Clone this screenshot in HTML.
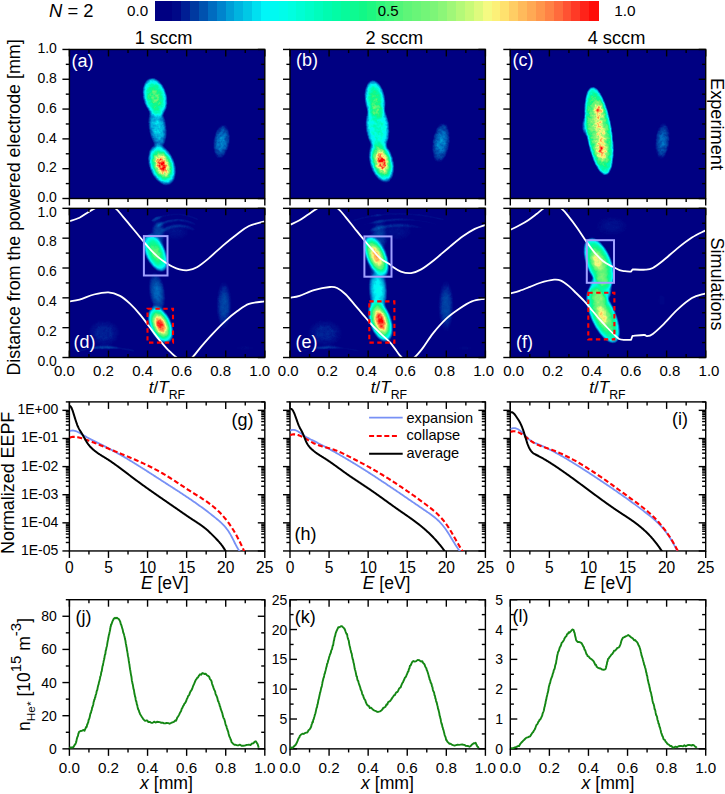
<!DOCTYPE html>
<html><head><meta charset="utf-8"><style>
html,body{margin:0;padding:0;background:#fff;overflow:hidden;}
svg{display:block;font-family:"Liberation Sans",sans-serif;}
</style></head><body>
<svg width="725" height="794" viewBox="0 0 725 794">
<defs><filter id="cm" filterUnits="userSpaceOnUse" x="0" y="0" width="725" height="794" color-interpolation-filters="sRGB"><feGaussianBlur in="SourceGraphic" stdDeviation="0.9" result="bl"/><feTurbulence type="fractalNoise" baseFrequency="0.32" numOctaves="2" seed="7" result="nz"/><feColorMatrix in="nz" type="matrix" values="1.6 0 0 0 -0.3  1.6 0 0 0 -0.3  1.6 0 0 0 -0.3  0 0 0 0 1" result="nz2"/><feComposite in="bl" in2="nz2" operator="arithmetic" k1="0.34" k2="0.83" k3="0" k4="0" result="mx"/><feGaussianBlur in="mx" stdDeviation="0.6"/><feComponentTransfer><feFuncR type="table" tableValues="0 0 0 0 0 0 0 0 0 0 0 0 0 0 0 0 0 0 0 0 0 0 0 0 0 0 0 0 0 0 0 0 0 0 0 0 0 0 0 0 0 0.01 0.02 0.03 0.04 0.05 0.06 0.07 0.08 0.11 0.15 0.18 0.22 0.25 0.28 0.32 0.35 0.37 0.39 0.41 0.43 0.45 0.47 0.49 0.51 0.55 0.59 0.63 0.67 0.71 0.75 0.78 0.83 0.87 0.92 0.96 0.97 0.99 1 1 1 1 1 1 1 1 1 1 1 1 1 1 1 1 1 1 1 1 1 1 1"/><feFuncG type="table" tableValues="0 0 0 0 0 0.03 0.06 0.12 0.18 0.23 0.27 0.32 0.37 0.42 0.47 0.52 0.57 0.62 0.67 0.71 0.75 0.78 0.82 0.88 0.93 0.96 0.97 0.98 0.99 0.99 1 1 1 1 1 0.99 0.99 0.99 0.99 0.99 0.99 0.99 0.98 0.98 0.98 0.98 0.98 0.97 0.97 0.97 0.97 0.97 0.97 0.97 0.96 0.96 0.96 0.96 0.96 0.96 0.96 0.96 0.96 0.96 0.96 0.96 0.97 0.97 0.97 0.97 0.98 0.98 0.98 0.98 0.98 0.98 0.96 0.94 0.92 0.88 0.84 0.8 0.76 0.73 0.7 0.66 0.63 0.59 0.55 0.51 0.47 0.42 0.37 0.32 0.27 0.23 0.18 0.14 0.09 0.05 0"/><feFuncB type="table" tableValues="0.51 0.51 0.51 0.51 0.51 0.53 0.55 0.58 0.61 0.63 0.65 0.69 0.73 0.75 0.78 0.8 0.82 0.84 0.86 0.88 0.89 0.9 0.91 0.94 0.97 0.97 0.96 0.94 0.93 0.92 0.9 0.88 0.85 0.83 0.81 0.78 0.76 0.74 0.71 0.69 0.67 0.65 0.63 0.61 0.59 0.57 0.55 0.53 0.51 0.5 0.5 0.5 0.49 0.49 0.48 0.48 0.47 0.47 0.47 0.47 0.47 0.47 0.47 0.47 0.47 0.47 0.47 0.47 0.47 0.47 0.47 0.47 0.48 0.49 0.5 0.51 0.49 0.47 0.45 0.43 0.41 0.39 0.37 0.36 0.34 0.33 0.31 0.3 0.28 0.27 0.25 0.24 0.22 0.2 0.18 0.15 0.12 0.1 0.07 0.03 0"/></feComponentTransfer></filter>
<filter id="cm2" filterUnits="userSpaceOnUse" x="0" y="0" width="725" height="794" color-interpolation-filters="sRGB"><feGaussianBlur in="SourceGraphic" stdDeviation="0.9" result="bl"/><feTurbulence type="fractalNoise" baseFrequency="0.3" numOctaves="2" seed="11" result="nz"/><feColorMatrix in="nz" type="matrix" values="1.6 0 0 0 -0.3  1.6 0 0 0 -0.3  1.6 0 0 0 -0.3  0 0 0 0 1" result="nz2"/><feComposite in="bl" in2="nz2" operator="arithmetic" k1="0.14" k2="0.93" k3="0" k4="0" result="mx"/><feGaussianBlur in="mx" stdDeviation="0.7"/><feComponentTransfer><feFuncR type="table" tableValues="0 0 0 0 0 0 0 0 0 0 0 0 0 0 0 0 0 0 0 0 0 0 0 0 0 0 0 0 0 0 0 0 0 0 0 0 0 0 0 0 0 0.01 0.02 0.03 0.04 0.05 0.06 0.07 0.08 0.11 0.15 0.18 0.22 0.25 0.28 0.32 0.35 0.37 0.39 0.41 0.43 0.45 0.47 0.49 0.51 0.55 0.59 0.63 0.67 0.71 0.75 0.78 0.83 0.87 0.92 0.96 0.97 0.99 1 1 1 1 1 1 1 1 1 1 1 1 1 1 1 1 1 1 1 1 1 1 1"/><feFuncG type="table" tableValues="0 0 0 0 0 0.03 0.06 0.12 0.18 0.23 0.27 0.32 0.37 0.42 0.47 0.52 0.57 0.62 0.67 0.71 0.75 0.78 0.82 0.88 0.93 0.96 0.97 0.98 0.99 0.99 1 1 1 1 1 0.99 0.99 0.99 0.99 0.99 0.99 0.99 0.98 0.98 0.98 0.98 0.98 0.97 0.97 0.97 0.97 0.97 0.97 0.97 0.96 0.96 0.96 0.96 0.96 0.96 0.96 0.96 0.96 0.96 0.96 0.96 0.97 0.97 0.97 0.97 0.98 0.98 0.98 0.98 0.98 0.98 0.96 0.94 0.92 0.88 0.84 0.8 0.76 0.73 0.7 0.66 0.63 0.59 0.55 0.51 0.47 0.42 0.37 0.32 0.27 0.23 0.18 0.14 0.09 0.05 0"/><feFuncB type="table" tableValues="0.51 0.51 0.51 0.51 0.51 0.53 0.55 0.58 0.61 0.63 0.65 0.69 0.73 0.75 0.78 0.8 0.82 0.84 0.86 0.88 0.89 0.9 0.91 0.94 0.97 0.97 0.96 0.94 0.93 0.92 0.9 0.88 0.85 0.83 0.81 0.78 0.76 0.74 0.71 0.69 0.67 0.65 0.63 0.61 0.59 0.57 0.55 0.53 0.51 0.5 0.5 0.5 0.49 0.49 0.48 0.48 0.47 0.47 0.47 0.47 0.47 0.47 0.47 0.47 0.47 0.47 0.47 0.47 0.47 0.47 0.47 0.47 0.48 0.49 0.5 0.51 0.49 0.47 0.45 0.43 0.41 0.39 0.37 0.36 0.34 0.33 0.31 0.3 0.28 0.27 0.25 0.24 0.22 0.2 0.18 0.15 0.12 0.1 0.07 0.03 0"/></feComponentTransfer></filter>
<clipPath id="clp1"><rect x="69.4" y="49.45" width="195.4" height="149.05"/></clipPath>
<radialGradient id="g1"><stop offset="0" stop-color="#fff" stop-opacity="0.22"/><stop offset="0.05" stop-color="#fff" stop-opacity="0.22"/><stop offset="0.1" stop-color="#fff" stop-opacity="0.22"/><stop offset="0.15" stop-color="#fff" stop-opacity="0.22"/><stop offset="0.2" stop-color="#fff" stop-opacity="0.21"/><stop offset="0.25" stop-color="#fff" stop-opacity="0.21"/><stop offset="0.3" stop-color="#fff" stop-opacity="0.21"/><stop offset="0.35" stop-color="#fff" stop-opacity="0.2"/><stop offset="0.4" stop-color="#fff" stop-opacity="0.2"/><stop offset="0.45" stop-color="#fff" stop-opacity="0.19"/><stop offset="0.5" stop-color="#fff" stop-opacity="0.19"/><stop offset="0.55" stop-color="#fff" stop-opacity="0.18"/><stop offset="0.6" stop-color="#fff" stop-opacity="0.17"/><stop offset="0.65" stop-color="#fff" stop-opacity="0.16"/><stop offset="0.7" stop-color="#fff" stop-opacity="0.15"/><stop offset="0.75" stop-color="#fff" stop-opacity="0.13"/><stop offset="0.8" stop-color="#fff" stop-opacity="0.12"/><stop offset="0.85" stop-color="#fff" stop-opacity="0.1"/><stop offset="0.9" stop-color="#fff" stop-opacity="0.08"/><stop offset="0.95" stop-color="#fff" stop-opacity="0.05"/><stop offset="1" stop-color="#fff" stop-opacity="0"/></radialGradient>
<radialGradient id="g2"><stop offset="0" stop-color="#fff" stop-opacity="0.56"/><stop offset="0.05" stop-color="#fff" stop-opacity="0.56"/><stop offset="0.1" stop-color="#fff" stop-opacity="0.56"/><stop offset="0.15" stop-color="#fff" stop-opacity="0.55"/><stop offset="0.2" stop-color="#fff" stop-opacity="0.54"/><stop offset="0.25" stop-color="#fff" stop-opacity="0.53"/><stop offset="0.3" stop-color="#fff" stop-opacity="0.52"/><stop offset="0.35" stop-color="#fff" stop-opacity="0.51"/><stop offset="0.4" stop-color="#fff" stop-opacity="0.49"/><stop offset="0.45" stop-color="#fff" stop-opacity="0.47"/><stop offset="0.5" stop-color="#fff" stop-opacity="0.45"/><stop offset="0.55" stop-color="#fff" stop-opacity="0.43"/><stop offset="0.6" stop-color="#fff" stop-opacity="0.4"/><stop offset="0.65" stop-color="#fff" stop-opacity="0.37"/><stop offset="0.7" stop-color="#fff" stop-opacity="0.34"/><stop offset="0.75" stop-color="#fff" stop-opacity="0.3"/><stop offset="0.8" stop-color="#fff" stop-opacity="0.26"/><stop offset="0.85" stop-color="#fff" stop-opacity="0.21"/><stop offset="0.9" stop-color="#fff" stop-opacity="0.16"/><stop offset="0.95" stop-color="#fff" stop-opacity="0.1"/><stop offset="1" stop-color="#fff" stop-opacity="0"/></radialGradient>
<radialGradient id="g3"><stop offset="0" stop-color="#fff" stop-opacity="1"/><stop offset="0.05" stop-color="#fff" stop-opacity="1"/><stop offset="0.1" stop-color="#fff" stop-opacity="0.98"/><stop offset="0.15" stop-color="#fff" stop-opacity="0.96"/><stop offset="0.2" stop-color="#fff" stop-opacity="0.93"/><stop offset="0.25" stop-color="#fff" stop-opacity="0.89"/><stop offset="0.3" stop-color="#fff" stop-opacity="0.84"/><stop offset="0.35" stop-color="#fff" stop-opacity="0.79"/><stop offset="0.4" stop-color="#fff" stop-opacity="0.73"/><stop offset="0.45" stop-color="#fff" stop-opacity="0.67"/><stop offset="0.5" stop-color="#fff" stop-opacity="0.6"/><stop offset="0.55" stop-color="#fff" stop-opacity="0.52"/><stop offset="0.6" stop-color="#fff" stop-opacity="0.45"/><stop offset="0.65" stop-color="#fff" stop-opacity="0.37"/><stop offset="0.7" stop-color="#fff" stop-opacity="0.3"/><stop offset="0.75" stop-color="#fff" stop-opacity="0.23"/><stop offset="0.8" stop-color="#fff" stop-opacity="0.16"/><stop offset="0.85" stop-color="#fff" stop-opacity="0.1"/><stop offset="0.9" stop-color="#fff" stop-opacity="0.05"/><stop offset="0.95" stop-color="#fff" stop-opacity="0.02"/><stop offset="1" stop-color="#fff" stop-opacity="0"/></radialGradient>
<radialGradient id="g4"><stop offset="0" stop-color="#fff" stop-opacity="0.15"/><stop offset="0.05" stop-color="#fff" stop-opacity="0.15"/><stop offset="0.1" stop-color="#fff" stop-opacity="0.15"/><stop offset="0.15" stop-color="#fff" stop-opacity="0.15"/><stop offset="0.2" stop-color="#fff" stop-opacity="0.15"/><stop offset="0.25" stop-color="#fff" stop-opacity="0.14"/><stop offset="0.3" stop-color="#fff" stop-opacity="0.14"/><stop offset="0.35" stop-color="#fff" stop-opacity="0.14"/><stop offset="0.4" stop-color="#fff" stop-opacity="0.13"/><stop offset="0.45" stop-color="#fff" stop-opacity="0.13"/><stop offset="0.5" stop-color="#fff" stop-opacity="0.12"/><stop offset="0.55" stop-color="#fff" stop-opacity="0.11"/><stop offset="0.6" stop-color="#fff" stop-opacity="0.1"/><stop offset="0.65" stop-color="#fff" stop-opacity="0.1"/><stop offset="0.7" stop-color="#fff" stop-opacity="0.09"/><stop offset="0.75" stop-color="#fff" stop-opacity="0.08"/><stop offset="0.8" stop-color="#fff" stop-opacity="0.07"/><stop offset="0.85" stop-color="#fff" stop-opacity="0.05"/><stop offset="0.9" stop-color="#fff" stop-opacity="0.04"/><stop offset="0.95" stop-color="#fff" stop-opacity="0.02"/><stop offset="1" stop-color="#fff" stop-opacity="0"/></radialGradient>
<clipPath id="clp2"><rect x="290" y="49.45" width="195.4" height="149.05"/></clipPath>
<radialGradient id="g5"><stop offset="0" stop-color="#fff" stop-opacity="0.36"/><stop offset="0.05" stop-color="#fff" stop-opacity="0.36"/><stop offset="0.1" stop-color="#fff" stop-opacity="0.36"/><stop offset="0.15" stop-color="#fff" stop-opacity="0.36"/><stop offset="0.2" stop-color="#fff" stop-opacity="0.35"/><stop offset="0.25" stop-color="#fff" stop-opacity="0.35"/><stop offset="0.3" stop-color="#fff" stop-opacity="0.34"/><stop offset="0.35" stop-color="#fff" stop-opacity="0.34"/><stop offset="0.4" stop-color="#fff" stop-opacity="0.33"/><stop offset="0.45" stop-color="#fff" stop-opacity="0.32"/><stop offset="0.5" stop-color="#fff" stop-opacity="0.31"/><stop offset="0.55" stop-color="#fff" stop-opacity="0.3"/><stop offset="0.6" stop-color="#fff" stop-opacity="0.28"/><stop offset="0.65" stop-color="#fff" stop-opacity="0.27"/><stop offset="0.7" stop-color="#fff" stop-opacity="0.25"/><stop offset="0.75" stop-color="#fff" stop-opacity="0.23"/><stop offset="0.8" stop-color="#fff" stop-opacity="0.21"/><stop offset="0.85" stop-color="#fff" stop-opacity="0.18"/><stop offset="0.9" stop-color="#fff" stop-opacity="0.14"/><stop offset="0.95" stop-color="#fff" stop-opacity="0.1"/><stop offset="1" stop-color="#fff" stop-opacity="0"/></radialGradient>
<radialGradient id="g6"><stop offset="0" stop-color="#fff" stop-opacity="0.52"/><stop offset="0.05" stop-color="#fff" stop-opacity="0.52"/><stop offset="0.1" stop-color="#fff" stop-opacity="0.52"/><stop offset="0.15" stop-color="#fff" stop-opacity="0.51"/><stop offset="0.2" stop-color="#fff" stop-opacity="0.5"/><stop offset="0.25" stop-color="#fff" stop-opacity="0.49"/><stop offset="0.3" stop-color="#fff" stop-opacity="0.48"/><stop offset="0.35" stop-color="#fff" stop-opacity="0.47"/><stop offset="0.4" stop-color="#fff" stop-opacity="0.45"/><stop offset="0.45" stop-color="#fff" stop-opacity="0.43"/><stop offset="0.5" stop-color="#fff" stop-opacity="0.41"/><stop offset="0.55" stop-color="#fff" stop-opacity="0.38"/><stop offset="0.6" stop-color="#fff" stop-opacity="0.36"/><stop offset="0.65" stop-color="#fff" stop-opacity="0.33"/><stop offset="0.7" stop-color="#fff" stop-opacity="0.29"/><stop offset="0.75" stop-color="#fff" stop-opacity="0.26"/><stop offset="0.8" stop-color="#fff" stop-opacity="0.22"/><stop offset="0.85" stop-color="#fff" stop-opacity="0.17"/><stop offset="0.9" stop-color="#fff" stop-opacity="0.13"/><stop offset="0.95" stop-color="#fff" stop-opacity="0.07"/><stop offset="1" stop-color="#fff" stop-opacity="0"/></radialGradient>
<radialGradient id="g7"><stop offset="0" stop-color="#fff" stop-opacity="1"/><stop offset="0.05" stop-color="#fff" stop-opacity="1"/><stop offset="0.1" stop-color="#fff" stop-opacity="0.98"/><stop offset="0.15" stop-color="#fff" stop-opacity="0.96"/><stop offset="0.2" stop-color="#fff" stop-opacity="0.93"/><stop offset="0.25" stop-color="#fff" stop-opacity="0.89"/><stop offset="0.3" stop-color="#fff" stop-opacity="0.84"/><stop offset="0.35" stop-color="#fff" stop-opacity="0.79"/><stop offset="0.4" stop-color="#fff" stop-opacity="0.73"/><stop offset="0.45" stop-color="#fff" stop-opacity="0.67"/><stop offset="0.5" stop-color="#fff" stop-opacity="0.6"/><stop offset="0.55" stop-color="#fff" stop-opacity="0.52"/><stop offset="0.6" stop-color="#fff" stop-opacity="0.45"/><stop offset="0.65" stop-color="#fff" stop-opacity="0.37"/><stop offset="0.7" stop-color="#fff" stop-opacity="0.3"/><stop offset="0.75" stop-color="#fff" stop-opacity="0.23"/><stop offset="0.8" stop-color="#fff" stop-opacity="0.16"/><stop offset="0.85" stop-color="#fff" stop-opacity="0.1"/><stop offset="0.9" stop-color="#fff" stop-opacity="0.05"/><stop offset="0.95" stop-color="#fff" stop-opacity="0.02"/><stop offset="1" stop-color="#fff" stop-opacity="0"/></radialGradient>
<radialGradient id="g8"><stop offset="0" stop-color="#fff" stop-opacity="0.15"/><stop offset="0.05" stop-color="#fff" stop-opacity="0.15"/><stop offset="0.1" stop-color="#fff" stop-opacity="0.15"/><stop offset="0.15" stop-color="#fff" stop-opacity="0.15"/><stop offset="0.2" stop-color="#fff" stop-opacity="0.15"/><stop offset="0.25" stop-color="#fff" stop-opacity="0.14"/><stop offset="0.3" stop-color="#fff" stop-opacity="0.14"/><stop offset="0.35" stop-color="#fff" stop-opacity="0.14"/><stop offset="0.4" stop-color="#fff" stop-opacity="0.13"/><stop offset="0.45" stop-color="#fff" stop-opacity="0.13"/><stop offset="0.5" stop-color="#fff" stop-opacity="0.12"/><stop offset="0.55" stop-color="#fff" stop-opacity="0.11"/><stop offset="0.6" stop-color="#fff" stop-opacity="0.1"/><stop offset="0.65" stop-color="#fff" stop-opacity="0.1"/><stop offset="0.7" stop-color="#fff" stop-opacity="0.09"/><stop offset="0.75" stop-color="#fff" stop-opacity="0.08"/><stop offset="0.8" stop-color="#fff" stop-opacity="0.07"/><stop offset="0.85" stop-color="#fff" stop-opacity="0.05"/><stop offset="0.9" stop-color="#fff" stop-opacity="0.04"/><stop offset="0.95" stop-color="#fff" stop-opacity="0.02"/><stop offset="1" stop-color="#fff" stop-opacity="0"/></radialGradient>
<clipPath id="clp3"><rect x="510.3" y="49.45" width="195.4" height="149.05"/></clipPath>
<radialGradient id="g9"><stop offset="0" stop-color="#fff" stop-opacity="0.66"/><stop offset="0.05" stop-color="#fff" stop-opacity="0.66"/><stop offset="0.1" stop-color="#fff" stop-opacity="0.66"/><stop offset="0.15" stop-color="#fff" stop-opacity="0.65"/><stop offset="0.2" stop-color="#fff" stop-opacity="0.65"/><stop offset="0.25" stop-color="#fff" stop-opacity="0.65"/><stop offset="0.3" stop-color="#fff" stop-opacity="0.64"/><stop offset="0.35" stop-color="#fff" stop-opacity="0.63"/><stop offset="0.4" stop-color="#fff" stop-opacity="0.62"/><stop offset="0.45" stop-color="#fff" stop-opacity="0.61"/><stop offset="0.5" stop-color="#fff" stop-opacity="0.6"/><stop offset="0.55" stop-color="#fff" stop-opacity="0.58"/><stop offset="0.6" stop-color="#fff" stop-opacity="0.56"/><stop offset="0.65" stop-color="#fff" stop-opacity="0.54"/><stop offset="0.7" stop-color="#fff" stop-opacity="0.52"/><stop offset="0.75" stop-color="#fff" stop-opacity="0.49"/><stop offset="0.8" stop-color="#fff" stop-opacity="0.46"/><stop offset="0.85" stop-color="#fff" stop-opacity="0.42"/><stop offset="0.9" stop-color="#fff" stop-opacity="0.37"/><stop offset="0.95" stop-color="#fff" stop-opacity="0.29"/><stop offset="1" stop-color="#fff" stop-opacity="0"/></radialGradient>
<radialGradient id="g10"><stop offset="0" stop-color="#fff" stop-opacity="0.22"/><stop offset="0.05" stop-color="#fff" stop-opacity="0.22"/><stop offset="0.1" stop-color="#fff" stop-opacity="0.22"/><stop offset="0.15" stop-color="#fff" stop-opacity="0.22"/><stop offset="0.2" stop-color="#fff" stop-opacity="0.21"/><stop offset="0.25" stop-color="#fff" stop-opacity="0.21"/><stop offset="0.3" stop-color="#fff" stop-opacity="0.2"/><stop offset="0.35" stop-color="#fff" stop-opacity="0.19"/><stop offset="0.4" stop-color="#fff" stop-opacity="0.18"/><stop offset="0.45" stop-color="#fff" stop-opacity="0.18"/><stop offset="0.5" stop-color="#fff" stop-opacity="0.17"/><stop offset="0.55" stop-color="#fff" stop-opacity="0.15"/><stop offset="0.6" stop-color="#fff" stop-opacity="0.14"/><stop offset="0.65" stop-color="#fff" stop-opacity="0.13"/><stop offset="0.7" stop-color="#fff" stop-opacity="0.11"/><stop offset="0.75" stop-color="#fff" stop-opacity="0.1"/><stop offset="0.8" stop-color="#fff" stop-opacity="0.08"/><stop offset="0.85" stop-color="#fff" stop-opacity="0.06"/><stop offset="0.9" stop-color="#fff" stop-opacity="0.04"/><stop offset="0.95" stop-color="#fff" stop-opacity="0.02"/><stop offset="1" stop-color="#fff" stop-opacity="0"/></radialGradient>
<radialGradient id="g11"><stop offset="0" stop-color="#fff" stop-opacity="0.32"/><stop offset="0.05" stop-color="#fff" stop-opacity="0.32"/><stop offset="0.1" stop-color="#fff" stop-opacity="0.32"/><stop offset="0.15" stop-color="#fff" stop-opacity="0.31"/><stop offset="0.2" stop-color="#fff" stop-opacity="0.31"/><stop offset="0.25" stop-color="#fff" stop-opacity="0.3"/><stop offset="0.3" stop-color="#fff" stop-opacity="0.29"/><stop offset="0.35" stop-color="#fff" stop-opacity="0.28"/><stop offset="0.4" stop-color="#fff" stop-opacity="0.27"/><stop offset="0.45" stop-color="#fff" stop-opacity="0.26"/><stop offset="0.5" stop-color="#fff" stop-opacity="0.24"/><stop offset="0.55" stop-color="#fff" stop-opacity="0.22"/><stop offset="0.6" stop-color="#fff" stop-opacity="0.2"/><stop offset="0.65" stop-color="#fff" stop-opacity="0.18"/><stop offset="0.7" stop-color="#fff" stop-opacity="0.16"/><stop offset="0.75" stop-color="#fff" stop-opacity="0.14"/><stop offset="0.8" stop-color="#fff" stop-opacity="0.12"/><stop offset="0.85" stop-color="#fff" stop-opacity="0.09"/><stop offset="0.9" stop-color="#fff" stop-opacity="0.06"/><stop offset="0.95" stop-color="#fff" stop-opacity="0.03"/><stop offset="1" stop-color="#fff" stop-opacity="0"/></radialGradient>
<radialGradient id="g12"><stop offset="0" stop-color="#fff" stop-opacity="0.55"/><stop offset="0.05" stop-color="#fff" stop-opacity="0.55"/><stop offset="0.1" stop-color="#fff" stop-opacity="0.54"/><stop offset="0.15" stop-color="#fff" stop-opacity="0.54"/><stop offset="0.2" stop-color="#fff" stop-opacity="0.53"/><stop offset="0.25" stop-color="#fff" stop-opacity="0.52"/><stop offset="0.3" stop-color="#fff" stop-opacity="0.5"/><stop offset="0.35" stop-color="#fff" stop-opacity="0.48"/><stop offset="0.4" stop-color="#fff" stop-opacity="0.46"/><stop offset="0.45" stop-color="#fff" stop-opacity="0.44"/><stop offset="0.5" stop-color="#fff" stop-opacity="0.41"/><stop offset="0.55" stop-color="#fff" stop-opacity="0.38"/><stop offset="0.6" stop-color="#fff" stop-opacity="0.35"/><stop offset="0.65" stop-color="#fff" stop-opacity="0.32"/><stop offset="0.7" stop-color="#fff" stop-opacity="0.28"/><stop offset="0.75" stop-color="#fff" stop-opacity="0.24"/><stop offset="0.8" stop-color="#fff" stop-opacity="0.2"/><stop offset="0.85" stop-color="#fff" stop-opacity="0.15"/><stop offset="0.9" stop-color="#fff" stop-opacity="0.1"/><stop offset="0.95" stop-color="#fff" stop-opacity="0.05"/><stop offset="1" stop-color="#fff" stop-opacity="0"/></radialGradient>
<radialGradient id="g13"><stop offset="0" stop-color="#fff" stop-opacity="0.62"/><stop offset="0.05" stop-color="#fff" stop-opacity="0.62"/><stop offset="0.1" stop-color="#fff" stop-opacity="0.61"/><stop offset="0.15" stop-color="#fff" stop-opacity="0.61"/><stop offset="0.2" stop-color="#fff" stop-opacity="0.6"/><stop offset="0.25" stop-color="#fff" stop-opacity="0.58"/><stop offset="0.3" stop-color="#fff" stop-opacity="0.56"/><stop offset="0.35" stop-color="#fff" stop-opacity="0.54"/><stop offset="0.4" stop-color="#fff" stop-opacity="0.52"/><stop offset="0.45" stop-color="#fff" stop-opacity="0.49"/><stop offset="0.5" stop-color="#fff" stop-opacity="0.46"/><stop offset="0.55" stop-color="#fff" stop-opacity="0.43"/><stop offset="0.6" stop-color="#fff" stop-opacity="0.4"/><stop offset="0.65" stop-color="#fff" stop-opacity="0.36"/><stop offset="0.7" stop-color="#fff" stop-opacity="0.32"/><stop offset="0.75" stop-color="#fff" stop-opacity="0.27"/><stop offset="0.8" stop-color="#fff" stop-opacity="0.22"/><stop offset="0.85" stop-color="#fff" stop-opacity="0.17"/><stop offset="0.9" stop-color="#fff" stop-opacity="0.12"/><stop offset="0.95" stop-color="#fff" stop-opacity="0.06"/><stop offset="1" stop-color="#fff" stop-opacity="0"/></radialGradient>
<radialGradient id="g14"><stop offset="0" stop-color="#fff" stop-opacity="0.13"/><stop offset="0.05" stop-color="#fff" stop-opacity="0.13"/><stop offset="0.1" stop-color="#fff" stop-opacity="0.13"/><stop offset="0.15" stop-color="#fff" stop-opacity="0.13"/><stop offset="0.2" stop-color="#fff" stop-opacity="0.13"/><stop offset="0.25" stop-color="#fff" stop-opacity="0.12"/><stop offset="0.3" stop-color="#fff" stop-opacity="0.12"/><stop offset="0.35" stop-color="#fff" stop-opacity="0.12"/><stop offset="0.4" stop-color="#fff" stop-opacity="0.11"/><stop offset="0.45" stop-color="#fff" stop-opacity="0.11"/><stop offset="0.5" stop-color="#fff" stop-opacity="0.1"/><stop offset="0.55" stop-color="#fff" stop-opacity="0.1"/><stop offset="0.6" stop-color="#fff" stop-opacity="0.09"/><stop offset="0.65" stop-color="#fff" stop-opacity="0.08"/><stop offset="0.7" stop-color="#fff" stop-opacity="0.08"/><stop offset="0.75" stop-color="#fff" stop-opacity="0.07"/><stop offset="0.8" stop-color="#fff" stop-opacity="0.06"/><stop offset="0.85" stop-color="#fff" stop-opacity="0.05"/><stop offset="0.9" stop-color="#fff" stop-opacity="0.03"/><stop offset="0.95" stop-color="#fff" stop-opacity="0.02"/><stop offset="1" stop-color="#fff" stop-opacity="0"/></radialGradient>
<clipPath id="clp4"><rect x="69.4" y="208.35" width="195.4" height="149.15"/></clipPath>
<radialGradient id="g15"><stop offset="0" stop-color="#fff" stop-opacity="0.06"/><stop offset="0.05" stop-color="#fff" stop-opacity="0.06"/><stop offset="0.1" stop-color="#fff" stop-opacity="0.06"/><stop offset="0.15" stop-color="#fff" stop-opacity="0.06"/><stop offset="0.2" stop-color="#fff" stop-opacity="0.06"/><stop offset="0.25" stop-color="#fff" stop-opacity="0.06"/><stop offset="0.3" stop-color="#fff" stop-opacity="0.05"/><stop offset="0.35" stop-color="#fff" stop-opacity="0.05"/><stop offset="0.4" stop-color="#fff" stop-opacity="0.05"/><stop offset="0.45" stop-color="#fff" stop-opacity="0.05"/><stop offset="0.5" stop-color="#fff" stop-opacity="0.04"/><stop offset="0.55" stop-color="#fff" stop-opacity="0.04"/><stop offset="0.6" stop-color="#fff" stop-opacity="0.04"/><stop offset="0.65" stop-color="#fff" stop-opacity="0.03"/><stop offset="0.7" stop-color="#fff" stop-opacity="0.03"/><stop offset="0.75" stop-color="#fff" stop-opacity="0.03"/><stop offset="0.8" stop-color="#fff" stop-opacity="0.02"/><stop offset="0.85" stop-color="#fff" stop-opacity="0.02"/><stop offset="0.9" stop-color="#fff" stop-opacity="0.01"/><stop offset="0.95" stop-color="#fff" stop-opacity="0.01"/><stop offset="1" stop-color="#fff" stop-opacity="0"/></radialGradient>
<radialGradient id="g16"><stop offset="0" stop-color="#fff" stop-opacity="0.07"/><stop offset="0.05" stop-color="#fff" stop-opacity="0.07"/><stop offset="0.1" stop-color="#fff" stop-opacity="0.07"/><stop offset="0.15" stop-color="#fff" stop-opacity="0.07"/><stop offset="0.2" stop-color="#fff" stop-opacity="0.07"/><stop offset="0.25" stop-color="#fff" stop-opacity="0.07"/><stop offset="0.3" stop-color="#fff" stop-opacity="0.07"/><stop offset="0.35" stop-color="#fff" stop-opacity="0.07"/><stop offset="0.4" stop-color="#fff" stop-opacity="0.06"/><stop offset="0.45" stop-color="#fff" stop-opacity="0.06"/><stop offset="0.5" stop-color="#fff" stop-opacity="0.06"/><stop offset="0.55" stop-color="#fff" stop-opacity="0.05"/><stop offset="0.6" stop-color="#fff" stop-opacity="0.05"/><stop offset="0.65" stop-color="#fff" stop-opacity="0.04"/><stop offset="0.7" stop-color="#fff" stop-opacity="0.04"/><stop offset="0.75" stop-color="#fff" stop-opacity="0.03"/><stop offset="0.8" stop-color="#fff" stop-opacity="0.03"/><stop offset="0.85" stop-color="#fff" stop-opacity="0.02"/><stop offset="0.9" stop-color="#fff" stop-opacity="0.01"/><stop offset="0.95" stop-color="#fff" stop-opacity="0.01"/><stop offset="1" stop-color="#fff" stop-opacity="0"/></radialGradient>
<radialGradient id="g17"><stop offset="0" stop-color="#fff" stop-opacity="0.1"/><stop offset="0.05" stop-color="#fff" stop-opacity="0.1"/><stop offset="0.1" stop-color="#fff" stop-opacity="0.1"/><stop offset="0.15" stop-color="#fff" stop-opacity="0.1"/><stop offset="0.2" stop-color="#fff" stop-opacity="0.1"/><stop offset="0.25" stop-color="#fff" stop-opacity="0.1"/><stop offset="0.3" stop-color="#fff" stop-opacity="0.1"/><stop offset="0.35" stop-color="#fff" stop-opacity="0.09"/><stop offset="0.4" stop-color="#fff" stop-opacity="0.09"/><stop offset="0.45" stop-color="#fff" stop-opacity="0.08"/><stop offset="0.5" stop-color="#fff" stop-opacity="0.08"/><stop offset="0.55" stop-color="#fff" stop-opacity="0.07"/><stop offset="0.6" stop-color="#fff" stop-opacity="0.07"/><stop offset="0.65" stop-color="#fff" stop-opacity="0.06"/><stop offset="0.7" stop-color="#fff" stop-opacity="0.05"/><stop offset="0.75" stop-color="#fff" stop-opacity="0.05"/><stop offset="0.8" stop-color="#fff" stop-opacity="0.04"/><stop offset="0.85" stop-color="#fff" stop-opacity="0.03"/><stop offset="0.9" stop-color="#fff" stop-opacity="0.02"/><stop offset="0.95" stop-color="#fff" stop-opacity="0.01"/><stop offset="1" stop-color="#fff" stop-opacity="0"/></radialGradient>
<radialGradient id="g18"><stop offset="0" stop-color="#fff" stop-opacity="0.05"/><stop offset="0.05" stop-color="#fff" stop-opacity="0.05"/><stop offset="0.1" stop-color="#fff" stop-opacity="0.05"/><stop offset="0.15" stop-color="#fff" stop-opacity="0.05"/><stop offset="0.2" stop-color="#fff" stop-opacity="0.05"/><stop offset="0.25" stop-color="#fff" stop-opacity="0.05"/><stop offset="0.3" stop-color="#fff" stop-opacity="0.05"/><stop offset="0.35" stop-color="#fff" stop-opacity="0.04"/><stop offset="0.4" stop-color="#fff" stop-opacity="0.04"/><stop offset="0.45" stop-color="#fff" stop-opacity="0.04"/><stop offset="0.5" stop-color="#fff" stop-opacity="0.04"/><stop offset="0.55" stop-color="#fff" stop-opacity="0.03"/><stop offset="0.6" stop-color="#fff" stop-opacity="0.03"/><stop offset="0.65" stop-color="#fff" stop-opacity="0.03"/><stop offset="0.7" stop-color="#fff" stop-opacity="0.03"/><stop offset="0.75" stop-color="#fff" stop-opacity="0.02"/><stop offset="0.8" stop-color="#fff" stop-opacity="0.02"/><stop offset="0.85" stop-color="#fff" stop-opacity="0.01"/><stop offset="0.9" stop-color="#fff" stop-opacity="0.01"/><stop offset="0.95" stop-color="#fff" stop-opacity="0"/><stop offset="1" stop-color="#fff" stop-opacity="0"/></radialGradient>
<radialGradient id="g19"><stop offset="0" stop-color="#fff" stop-opacity="0.13"/><stop offset="0.05" stop-color="#fff" stop-opacity="0.13"/><stop offset="0.1" stop-color="#fff" stop-opacity="0.13"/><stop offset="0.15" stop-color="#fff" stop-opacity="0.13"/><stop offset="0.2" stop-color="#fff" stop-opacity="0.12"/><stop offset="0.25" stop-color="#fff" stop-opacity="0.12"/><stop offset="0.3" stop-color="#fff" stop-opacity="0.12"/><stop offset="0.35" stop-color="#fff" stop-opacity="0.11"/><stop offset="0.4" stop-color="#fff" stop-opacity="0.11"/><stop offset="0.45" stop-color="#fff" stop-opacity="0.1"/><stop offset="0.5" stop-color="#fff" stop-opacity="0.1"/><stop offset="0.55" stop-color="#fff" stop-opacity="0.09"/><stop offset="0.6" stop-color="#fff" stop-opacity="0.08"/><stop offset="0.65" stop-color="#fff" stop-opacity="0.08"/><stop offset="0.7" stop-color="#fff" stop-opacity="0.07"/><stop offset="0.75" stop-color="#fff" stop-opacity="0.06"/><stop offset="0.8" stop-color="#fff" stop-opacity="0.05"/><stop offset="0.85" stop-color="#fff" stop-opacity="0.04"/><stop offset="0.9" stop-color="#fff" stop-opacity="0.02"/><stop offset="0.95" stop-color="#fff" stop-opacity="0.01"/><stop offset="1" stop-color="#fff" stop-opacity="0"/></radialGradient>
<radialGradient id="g20"><stop offset="0" stop-color="#fff" stop-opacity="0.08"/><stop offset="0.05" stop-color="#fff" stop-opacity="0.08"/><stop offset="0.1" stop-color="#fff" stop-opacity="0.08"/><stop offset="0.15" stop-color="#fff" stop-opacity="0.08"/><stop offset="0.2" stop-color="#fff" stop-opacity="0.08"/><stop offset="0.25" stop-color="#fff" stop-opacity="0.07"/><stop offset="0.3" stop-color="#fff" stop-opacity="0.07"/><stop offset="0.35" stop-color="#fff" stop-opacity="0.07"/><stop offset="0.4" stop-color="#fff" stop-opacity="0.07"/><stop offset="0.45" stop-color="#fff" stop-opacity="0.06"/><stop offset="0.5" stop-color="#fff" stop-opacity="0.06"/><stop offset="0.55" stop-color="#fff" stop-opacity="0.06"/><stop offset="0.6" stop-color="#fff" stop-opacity="0.05"/><stop offset="0.65" stop-color="#fff" stop-opacity="0.05"/><stop offset="0.7" stop-color="#fff" stop-opacity="0.04"/><stop offset="0.75" stop-color="#fff" stop-opacity="0.04"/><stop offset="0.8" stop-color="#fff" stop-opacity="0.03"/><stop offset="0.85" stop-color="#fff" stop-opacity="0.02"/><stop offset="0.9" stop-color="#fff" stop-opacity="0.02"/><stop offset="0.95" stop-color="#fff" stop-opacity="0.01"/><stop offset="1" stop-color="#fff" stop-opacity="0"/></radialGradient>
<radialGradient id="g21"><stop offset="0" stop-color="#fff" stop-opacity="0.56"/><stop offset="0.05" stop-color="#fff" stop-opacity="0.56"/><stop offset="0.1" stop-color="#fff" stop-opacity="0.55"/><stop offset="0.15" stop-color="#fff" stop-opacity="0.55"/><stop offset="0.2" stop-color="#fff" stop-opacity="0.54"/><stop offset="0.25" stop-color="#fff" stop-opacity="0.53"/><stop offset="0.3" stop-color="#fff" stop-opacity="0.51"/><stop offset="0.35" stop-color="#fff" stop-opacity="0.5"/><stop offset="0.4" stop-color="#fff" stop-opacity="0.48"/><stop offset="0.45" stop-color="#fff" stop-opacity="0.46"/><stop offset="0.5" stop-color="#fff" stop-opacity="0.43"/><stop offset="0.55" stop-color="#fff" stop-opacity="0.4"/><stop offset="0.6" stop-color="#fff" stop-opacity="0.37"/><stop offset="0.65" stop-color="#fff" stop-opacity="0.34"/><stop offset="0.7" stop-color="#fff" stop-opacity="0.31"/><stop offset="0.75" stop-color="#fff" stop-opacity="0.27"/><stop offset="0.8" stop-color="#fff" stop-opacity="0.22"/><stop offset="0.85" stop-color="#fff" stop-opacity="0.18"/><stop offset="0.9" stop-color="#fff" stop-opacity="0.13"/><stop offset="0.95" stop-color="#fff" stop-opacity="0.07"/><stop offset="1" stop-color="#fff" stop-opacity="0"/></radialGradient>
<radialGradient id="g22"><stop offset="0" stop-color="#fff" stop-opacity="1"/><stop offset="0.05" stop-color="#fff" stop-opacity="1"/><stop offset="0.1" stop-color="#fff" stop-opacity="0.98"/><stop offset="0.15" stop-color="#fff" stop-opacity="0.96"/><stop offset="0.2" stop-color="#fff" stop-opacity="0.94"/><stop offset="0.25" stop-color="#fff" stop-opacity="0.9"/><stop offset="0.3" stop-color="#fff" stop-opacity="0.86"/><stop offset="0.35" stop-color="#fff" stop-opacity="0.81"/><stop offset="0.4" stop-color="#fff" stop-opacity="0.76"/><stop offset="0.45" stop-color="#fff" stop-opacity="0.7"/><stop offset="0.5" stop-color="#fff" stop-opacity="0.63"/><stop offset="0.55" stop-color="#fff" stop-opacity="0.56"/><stop offset="0.6" stop-color="#fff" stop-opacity="0.49"/><stop offset="0.65" stop-color="#fff" stop-opacity="0.42"/><stop offset="0.7" stop-color="#fff" stop-opacity="0.34"/><stop offset="0.75" stop-color="#fff" stop-opacity="0.27"/><stop offset="0.8" stop-color="#fff" stop-opacity="0.2"/><stop offset="0.85" stop-color="#fff" stop-opacity="0.13"/><stop offset="0.9" stop-color="#fff" stop-opacity="0.07"/><stop offset="0.95" stop-color="#fff" stop-opacity="0.02"/><stop offset="1" stop-color="#fff" stop-opacity="0"/></radialGradient>
<clipPath id="clp5"><rect x="290" y="208.35" width="195.4" height="149.15"/></clipPath>
<radialGradient id="g23"><stop offset="0" stop-color="#fff" stop-opacity="0.06"/><stop offset="0.05" stop-color="#fff" stop-opacity="0.06"/><stop offset="0.1" stop-color="#fff" stop-opacity="0.06"/><stop offset="0.15" stop-color="#fff" stop-opacity="0.06"/><stop offset="0.2" stop-color="#fff" stop-opacity="0.06"/><stop offset="0.25" stop-color="#fff" stop-opacity="0.06"/><stop offset="0.3" stop-color="#fff" stop-opacity="0.05"/><stop offset="0.35" stop-color="#fff" stop-opacity="0.05"/><stop offset="0.4" stop-color="#fff" stop-opacity="0.05"/><stop offset="0.45" stop-color="#fff" stop-opacity="0.05"/><stop offset="0.5" stop-color="#fff" stop-opacity="0.04"/><stop offset="0.55" stop-color="#fff" stop-opacity="0.04"/><stop offset="0.6" stop-color="#fff" stop-opacity="0.04"/><stop offset="0.65" stop-color="#fff" stop-opacity="0.03"/><stop offset="0.7" stop-color="#fff" stop-opacity="0.03"/><stop offset="0.75" stop-color="#fff" stop-opacity="0.03"/><stop offset="0.8" stop-color="#fff" stop-opacity="0.02"/><stop offset="0.85" stop-color="#fff" stop-opacity="0.02"/><stop offset="0.9" stop-color="#fff" stop-opacity="0.01"/><stop offset="0.95" stop-color="#fff" stop-opacity="0.01"/><stop offset="1" stop-color="#fff" stop-opacity="0"/></radialGradient>
<radialGradient id="g24"><stop offset="0" stop-color="#fff" stop-opacity="0.07"/><stop offset="0.05" stop-color="#fff" stop-opacity="0.07"/><stop offset="0.1" stop-color="#fff" stop-opacity="0.07"/><stop offset="0.15" stop-color="#fff" stop-opacity="0.07"/><stop offset="0.2" stop-color="#fff" stop-opacity="0.07"/><stop offset="0.25" stop-color="#fff" stop-opacity="0.07"/><stop offset="0.3" stop-color="#fff" stop-opacity="0.07"/><stop offset="0.35" stop-color="#fff" stop-opacity="0.07"/><stop offset="0.4" stop-color="#fff" stop-opacity="0.06"/><stop offset="0.45" stop-color="#fff" stop-opacity="0.06"/><stop offset="0.5" stop-color="#fff" stop-opacity="0.06"/><stop offset="0.55" stop-color="#fff" stop-opacity="0.05"/><stop offset="0.6" stop-color="#fff" stop-opacity="0.05"/><stop offset="0.65" stop-color="#fff" stop-opacity="0.04"/><stop offset="0.7" stop-color="#fff" stop-opacity="0.04"/><stop offset="0.75" stop-color="#fff" stop-opacity="0.03"/><stop offset="0.8" stop-color="#fff" stop-opacity="0.03"/><stop offset="0.85" stop-color="#fff" stop-opacity="0.02"/><stop offset="0.9" stop-color="#fff" stop-opacity="0.01"/><stop offset="0.95" stop-color="#fff" stop-opacity="0.01"/><stop offset="1" stop-color="#fff" stop-opacity="0"/></radialGradient>
<radialGradient id="g25"><stop offset="0" stop-color="#fff" stop-opacity="0.1"/><stop offset="0.05" stop-color="#fff" stop-opacity="0.1"/><stop offset="0.1" stop-color="#fff" stop-opacity="0.1"/><stop offset="0.15" stop-color="#fff" stop-opacity="0.1"/><stop offset="0.2" stop-color="#fff" stop-opacity="0.1"/><stop offset="0.25" stop-color="#fff" stop-opacity="0.1"/><stop offset="0.3" stop-color="#fff" stop-opacity="0.1"/><stop offset="0.35" stop-color="#fff" stop-opacity="0.09"/><stop offset="0.4" stop-color="#fff" stop-opacity="0.09"/><stop offset="0.45" stop-color="#fff" stop-opacity="0.08"/><stop offset="0.5" stop-color="#fff" stop-opacity="0.08"/><stop offset="0.55" stop-color="#fff" stop-opacity="0.07"/><stop offset="0.6" stop-color="#fff" stop-opacity="0.07"/><stop offset="0.65" stop-color="#fff" stop-opacity="0.06"/><stop offset="0.7" stop-color="#fff" stop-opacity="0.05"/><stop offset="0.75" stop-color="#fff" stop-opacity="0.05"/><stop offset="0.8" stop-color="#fff" stop-opacity="0.04"/><stop offset="0.85" stop-color="#fff" stop-opacity="0.03"/><stop offset="0.9" stop-color="#fff" stop-opacity="0.02"/><stop offset="0.95" stop-color="#fff" stop-opacity="0.01"/><stop offset="1" stop-color="#fff" stop-opacity="0"/></radialGradient>
<radialGradient id="g26"><stop offset="0" stop-color="#fff" stop-opacity="0.05"/><stop offset="0.05" stop-color="#fff" stop-opacity="0.05"/><stop offset="0.1" stop-color="#fff" stop-opacity="0.05"/><stop offset="0.15" stop-color="#fff" stop-opacity="0.05"/><stop offset="0.2" stop-color="#fff" stop-opacity="0.05"/><stop offset="0.25" stop-color="#fff" stop-opacity="0.05"/><stop offset="0.3" stop-color="#fff" stop-opacity="0.05"/><stop offset="0.35" stop-color="#fff" stop-opacity="0.04"/><stop offset="0.4" stop-color="#fff" stop-opacity="0.04"/><stop offset="0.45" stop-color="#fff" stop-opacity="0.04"/><stop offset="0.5" stop-color="#fff" stop-opacity="0.04"/><stop offset="0.55" stop-color="#fff" stop-opacity="0.03"/><stop offset="0.6" stop-color="#fff" stop-opacity="0.03"/><stop offset="0.65" stop-color="#fff" stop-opacity="0.03"/><stop offset="0.7" stop-color="#fff" stop-opacity="0.03"/><stop offset="0.75" stop-color="#fff" stop-opacity="0.02"/><stop offset="0.8" stop-color="#fff" stop-opacity="0.02"/><stop offset="0.85" stop-color="#fff" stop-opacity="0.01"/><stop offset="0.9" stop-color="#fff" stop-opacity="0.01"/><stop offset="0.95" stop-color="#fff" stop-opacity="0"/><stop offset="1" stop-color="#fff" stop-opacity="0"/></radialGradient>
<radialGradient id="g27"><stop offset="0" stop-color="#fff" stop-opacity="0.21"/><stop offset="0.05" stop-color="#fff" stop-opacity="0.21"/><stop offset="0.1" stop-color="#fff" stop-opacity="0.21"/><stop offset="0.15" stop-color="#fff" stop-opacity="0.21"/><stop offset="0.2" stop-color="#fff" stop-opacity="0.2"/><stop offset="0.25" stop-color="#fff" stop-opacity="0.2"/><stop offset="0.3" stop-color="#fff" stop-opacity="0.19"/><stop offset="0.35" stop-color="#fff" stop-opacity="0.19"/><stop offset="0.4" stop-color="#fff" stop-opacity="0.18"/><stop offset="0.45" stop-color="#fff" stop-opacity="0.18"/><stop offset="0.5" stop-color="#fff" stop-opacity="0.17"/><stop offset="0.55" stop-color="#fff" stop-opacity="0.16"/><stop offset="0.6" stop-color="#fff" stop-opacity="0.15"/><stop offset="0.65" stop-color="#fff" stop-opacity="0.14"/><stop offset="0.7" stop-color="#fff" stop-opacity="0.12"/><stop offset="0.75" stop-color="#fff" stop-opacity="0.11"/><stop offset="0.8" stop-color="#fff" stop-opacity="0.09"/><stop offset="0.85" stop-color="#fff" stop-opacity="0.08"/><stop offset="0.9" stop-color="#fff" stop-opacity="0.06"/><stop offset="0.95" stop-color="#fff" stop-opacity="0.03"/><stop offset="1" stop-color="#fff" stop-opacity="0"/></radialGradient>
<radialGradient id="g28"><stop offset="0" stop-color="#fff" stop-opacity="0.09"/><stop offset="0.05" stop-color="#fff" stop-opacity="0.09"/><stop offset="0.1" stop-color="#fff" stop-opacity="0.09"/><stop offset="0.15" stop-color="#fff" stop-opacity="0.09"/><stop offset="0.2" stop-color="#fff" stop-opacity="0.09"/><stop offset="0.25" stop-color="#fff" stop-opacity="0.08"/><stop offset="0.3" stop-color="#fff" stop-opacity="0.08"/><stop offset="0.35" stop-color="#fff" stop-opacity="0.08"/><stop offset="0.4" stop-color="#fff" stop-opacity="0.08"/><stop offset="0.45" stop-color="#fff" stop-opacity="0.07"/><stop offset="0.5" stop-color="#fff" stop-opacity="0.07"/><stop offset="0.55" stop-color="#fff" stop-opacity="0.06"/><stop offset="0.6" stop-color="#fff" stop-opacity="0.06"/><stop offset="0.65" stop-color="#fff" stop-opacity="0.05"/><stop offset="0.7" stop-color="#fff" stop-opacity="0.05"/><stop offset="0.75" stop-color="#fff" stop-opacity="0.04"/><stop offset="0.8" stop-color="#fff" stop-opacity="0.03"/><stop offset="0.85" stop-color="#fff" stop-opacity="0.02"/><stop offset="0.9" stop-color="#fff" stop-opacity="0.02"/><stop offset="0.95" stop-color="#fff" stop-opacity="0.01"/><stop offset="1" stop-color="#fff" stop-opacity="0"/></radialGradient>
<radialGradient id="g29"><stop offset="0" stop-color="#fff" stop-opacity="0.86"/><stop offset="0.05" stop-color="#fff" stop-opacity="0.86"/><stop offset="0.1" stop-color="#fff" stop-opacity="0.85"/><stop offset="0.15" stop-color="#fff" stop-opacity="0.84"/><stop offset="0.2" stop-color="#fff" stop-opacity="0.82"/><stop offset="0.25" stop-color="#fff" stop-opacity="0.8"/><stop offset="0.3" stop-color="#fff" stop-opacity="0.77"/><stop offset="0.35" stop-color="#fff" stop-opacity="0.74"/><stop offset="0.4" stop-color="#fff" stop-opacity="0.7"/><stop offset="0.45" stop-color="#fff" stop-opacity="0.66"/><stop offset="0.5" stop-color="#fff" stop-opacity="0.61"/><stop offset="0.55" stop-color="#fff" stop-opacity="0.56"/><stop offset="0.6" stop-color="#fff" stop-opacity="0.5"/><stop offset="0.65" stop-color="#fff" stop-opacity="0.45"/><stop offset="0.7" stop-color="#fff" stop-opacity="0.38"/><stop offset="0.75" stop-color="#fff" stop-opacity="0.32"/><stop offset="0.8" stop-color="#fff" stop-opacity="0.25"/><stop offset="0.85" stop-color="#fff" stop-opacity="0.18"/><stop offset="0.9" stop-color="#fff" stop-opacity="0.12"/><stop offset="0.95" stop-color="#fff" stop-opacity="0.05"/><stop offset="1" stop-color="#fff" stop-opacity="0"/></radialGradient>
<radialGradient id="g30"><stop offset="0" stop-color="#fff" stop-opacity="1.03"/><stop offset="0.05" stop-color="#fff" stop-opacity="1.03"/><stop offset="0.1" stop-color="#fff" stop-opacity="1.01"/><stop offset="0.15" stop-color="#fff" stop-opacity="0.99"/><stop offset="0.2" stop-color="#fff" stop-opacity="0.96"/><stop offset="0.25" stop-color="#fff" stop-opacity="0.93"/><stop offset="0.3" stop-color="#fff" stop-opacity="0.89"/><stop offset="0.35" stop-color="#fff" stop-opacity="0.84"/><stop offset="0.4" stop-color="#fff" stop-opacity="0.78"/><stop offset="0.45" stop-color="#fff" stop-opacity="0.72"/><stop offset="0.5" stop-color="#fff" stop-opacity="0.65"/><stop offset="0.55" stop-color="#fff" stop-opacity="0.58"/><stop offset="0.6" stop-color="#fff" stop-opacity="0.5"/><stop offset="0.65" stop-color="#fff" stop-opacity="0.43"/><stop offset="0.7" stop-color="#fff" stop-opacity="0.35"/><stop offset="0.75" stop-color="#fff" stop-opacity="0.27"/><stop offset="0.8" stop-color="#fff" stop-opacity="0.2"/><stop offset="0.85" stop-color="#fff" stop-opacity="0.13"/><stop offset="0.9" stop-color="#fff" stop-opacity="0.07"/><stop offset="0.95" stop-color="#fff" stop-opacity="0.02"/><stop offset="1" stop-color="#fff" stop-opacity="0"/></radialGradient>
<clipPath id="clp6"><rect x="510.3" y="208.35" width="195.4" height="149.15"/></clipPath>
<radialGradient id="g31"><stop offset="0" stop-color="#fff" stop-opacity="0.06"/><stop offset="0.05" stop-color="#fff" stop-opacity="0.06"/><stop offset="0.1" stop-color="#fff" stop-opacity="0.06"/><stop offset="0.15" stop-color="#fff" stop-opacity="0.06"/><stop offset="0.2" stop-color="#fff" stop-opacity="0.06"/><stop offset="0.25" stop-color="#fff" stop-opacity="0.06"/><stop offset="0.3" stop-color="#fff" stop-opacity="0.05"/><stop offset="0.35" stop-color="#fff" stop-opacity="0.05"/><stop offset="0.4" stop-color="#fff" stop-opacity="0.05"/><stop offset="0.45" stop-color="#fff" stop-opacity="0.05"/><stop offset="0.5" stop-color="#fff" stop-opacity="0.04"/><stop offset="0.55" stop-color="#fff" stop-opacity="0.04"/><stop offset="0.6" stop-color="#fff" stop-opacity="0.04"/><stop offset="0.65" stop-color="#fff" stop-opacity="0.03"/><stop offset="0.7" stop-color="#fff" stop-opacity="0.03"/><stop offset="0.75" stop-color="#fff" stop-opacity="0.03"/><stop offset="0.8" stop-color="#fff" stop-opacity="0.02"/><stop offset="0.85" stop-color="#fff" stop-opacity="0.02"/><stop offset="0.9" stop-color="#fff" stop-opacity="0.01"/><stop offset="0.95" stop-color="#fff" stop-opacity="0.01"/><stop offset="1" stop-color="#fff" stop-opacity="0"/></radialGradient>
<radialGradient id="g32"><stop offset="0" stop-color="#fff" stop-opacity="0.42"/><stop offset="0.05" stop-color="#fff" stop-opacity="0.42"/><stop offset="0.1" stop-color="#fff" stop-opacity="0.42"/><stop offset="0.15" stop-color="#fff" stop-opacity="0.41"/><stop offset="0.2" stop-color="#fff" stop-opacity="0.41"/><stop offset="0.25" stop-color="#fff" stop-opacity="0.4"/><stop offset="0.3" stop-color="#fff" stop-opacity="0.39"/><stop offset="0.35" stop-color="#fff" stop-opacity="0.38"/><stop offset="0.4" stop-color="#fff" stop-opacity="0.37"/><stop offset="0.45" stop-color="#fff" stop-opacity="0.36"/><stop offset="0.5" stop-color="#fff" stop-opacity="0.34"/><stop offset="0.55" stop-color="#fff" stop-opacity="0.33"/><stop offset="0.6" stop-color="#fff" stop-opacity="0.31"/><stop offset="0.65" stop-color="#fff" stop-opacity="0.29"/><stop offset="0.7" stop-color="#fff" stop-opacity="0.26"/><stop offset="0.75" stop-color="#fff" stop-opacity="0.24"/><stop offset="0.8" stop-color="#fff" stop-opacity="0.21"/><stop offset="0.85" stop-color="#fff" stop-opacity="0.17"/><stop offset="0.9" stop-color="#fff" stop-opacity="0.13"/><stop offset="0.95" stop-color="#fff" stop-opacity="0.08"/><stop offset="1" stop-color="#fff" stop-opacity="0"/></radialGradient>
<radialGradient id="g33"><stop offset="0" stop-color="#fff" stop-opacity="0.64"/><stop offset="0.05" stop-color="#fff" stop-opacity="0.64"/><stop offset="0.1" stop-color="#fff" stop-opacity="0.64"/><stop offset="0.15" stop-color="#fff" stop-opacity="0.63"/><stop offset="0.2" stop-color="#fff" stop-opacity="0.62"/><stop offset="0.25" stop-color="#fff" stop-opacity="0.62"/><stop offset="0.3" stop-color="#fff" stop-opacity="0.6"/><stop offset="0.35" stop-color="#fff" stop-opacity="0.59"/><stop offset="0.4" stop-color="#fff" stop-opacity="0.58"/><stop offset="0.45" stop-color="#fff" stop-opacity="0.56"/><stop offset="0.5" stop-color="#fff" stop-opacity="0.54"/><stop offset="0.55" stop-color="#fff" stop-opacity="0.52"/><stop offset="0.6" stop-color="#fff" stop-opacity="0.49"/><stop offset="0.65" stop-color="#fff" stop-opacity="0.46"/><stop offset="0.7" stop-color="#fff" stop-opacity="0.43"/><stop offset="0.75" stop-color="#fff" stop-opacity="0.39"/><stop offset="0.8" stop-color="#fff" stop-opacity="0.35"/><stop offset="0.85" stop-color="#fff" stop-opacity="0.3"/><stop offset="0.9" stop-color="#fff" stop-opacity="0.24"/><stop offset="0.95" stop-color="#fff" stop-opacity="0.16"/><stop offset="1" stop-color="#fff" stop-opacity="0"/></radialGradient>
<radialGradient id="g34"><stop offset="0" stop-color="#fff" stop-opacity="0.64"/><stop offset="0.05" stop-color="#fff" stop-opacity="0.64"/><stop offset="0.1" stop-color="#fff" stop-opacity="0.64"/><stop offset="0.15" stop-color="#fff" stop-opacity="0.63"/><stop offset="0.2" stop-color="#fff" stop-opacity="0.62"/><stop offset="0.25" stop-color="#fff" stop-opacity="0.62"/><stop offset="0.3" stop-color="#fff" stop-opacity="0.6"/><stop offset="0.35" stop-color="#fff" stop-opacity="0.59"/><stop offset="0.4" stop-color="#fff" stop-opacity="0.58"/><stop offset="0.45" stop-color="#fff" stop-opacity="0.56"/><stop offset="0.5" stop-color="#fff" stop-opacity="0.54"/><stop offset="0.55" stop-color="#fff" stop-opacity="0.52"/><stop offset="0.6" stop-color="#fff" stop-opacity="0.49"/><stop offset="0.65" stop-color="#fff" stop-opacity="0.46"/><stop offset="0.7" stop-color="#fff" stop-opacity="0.43"/><stop offset="0.75" stop-color="#fff" stop-opacity="0.39"/><stop offset="0.8" stop-color="#fff" stop-opacity="0.35"/><stop offset="0.85" stop-color="#fff" stop-opacity="0.3"/><stop offset="0.9" stop-color="#fff" stop-opacity="0.24"/><stop offset="0.95" stop-color="#fff" stop-opacity="0.16"/><stop offset="1" stop-color="#fff" stop-opacity="0"/></radialGradient>
<radialGradient id="g35"><stop offset="0" stop-color="#fff" stop-opacity="0.38"/><stop offset="0.05" stop-color="#fff" stop-opacity="0.38"/><stop offset="0.1" stop-color="#fff" stop-opacity="0.38"/><stop offset="0.15" stop-color="#fff" stop-opacity="0.37"/><stop offset="0.2" stop-color="#fff" stop-opacity="0.36"/><stop offset="0.25" stop-color="#fff" stop-opacity="0.36"/><stop offset="0.3" stop-color="#fff" stop-opacity="0.35"/><stop offset="0.35" stop-color="#fff" stop-opacity="0.33"/><stop offset="0.4" stop-color="#fff" stop-opacity="0.32"/><stop offset="0.45" stop-color="#fff" stop-opacity="0.3"/><stop offset="0.5" stop-color="#fff" stop-opacity="0.29"/><stop offset="0.55" stop-color="#fff" stop-opacity="0.27"/><stop offset="0.6" stop-color="#fff" stop-opacity="0.24"/><stop offset="0.65" stop-color="#fff" stop-opacity="0.22"/><stop offset="0.7" stop-color="#fff" stop-opacity="0.19"/><stop offset="0.75" stop-color="#fff" stop-opacity="0.17"/><stop offset="0.8" stop-color="#fff" stop-opacity="0.14"/><stop offset="0.85" stop-color="#fff" stop-opacity="0.11"/><stop offset="0.9" stop-color="#fff" stop-opacity="0.07"/><stop offset="0.95" stop-color="#fff" stop-opacity="0.04"/><stop offset="1" stop-color="#fff" stop-opacity="0"/></radialGradient>
<radialGradient id="g36"><stop offset="0" stop-color="#fff" stop-opacity="0.42"/><stop offset="0.05" stop-color="#fff" stop-opacity="0.42"/><stop offset="0.1" stop-color="#fff" stop-opacity="0.42"/><stop offset="0.15" stop-color="#fff" stop-opacity="0.41"/><stop offset="0.2" stop-color="#fff" stop-opacity="0.4"/><stop offset="0.25" stop-color="#fff" stop-opacity="0.39"/><stop offset="0.3" stop-color="#fff" stop-opacity="0.38"/><stop offset="0.35" stop-color="#fff" stop-opacity="0.37"/><stop offset="0.4" stop-color="#fff" stop-opacity="0.35"/><stop offset="0.45" stop-color="#fff" stop-opacity="0.33"/><stop offset="0.5" stop-color="#fff" stop-opacity="0.32"/><stop offset="0.55" stop-color="#fff" stop-opacity="0.29"/><stop offset="0.6" stop-color="#fff" stop-opacity="0.27"/><stop offset="0.65" stop-color="#fff" stop-opacity="0.24"/><stop offset="0.7" stop-color="#fff" stop-opacity="0.21"/><stop offset="0.75" stop-color="#fff" stop-opacity="0.18"/><stop offset="0.8" stop-color="#fff" stop-opacity="0.15"/><stop offset="0.85" stop-color="#fff" stop-opacity="0.12"/><stop offset="0.9" stop-color="#fff" stop-opacity="0.08"/><stop offset="0.95" stop-color="#fff" stop-opacity="0.04"/><stop offset="1" stop-color="#fff" stop-opacity="0"/></radialGradient>
<radialGradient id="g37"><stop offset="0" stop-color="#fff" stop-opacity="0.05"/><stop offset="0.05" stop-color="#fff" stop-opacity="0.05"/><stop offset="0.1" stop-color="#fff" stop-opacity="0.05"/><stop offset="0.15" stop-color="#fff" stop-opacity="0.05"/><stop offset="0.2" stop-color="#fff" stop-opacity="0.05"/><stop offset="0.25" stop-color="#fff" stop-opacity="0.05"/><stop offset="0.3" stop-color="#fff" stop-opacity="0.05"/><stop offset="0.35" stop-color="#fff" stop-opacity="0.04"/><stop offset="0.4" stop-color="#fff" stop-opacity="0.04"/><stop offset="0.45" stop-color="#fff" stop-opacity="0.04"/><stop offset="0.5" stop-color="#fff" stop-opacity="0.04"/><stop offset="0.55" stop-color="#fff" stop-opacity="0.03"/><stop offset="0.6" stop-color="#fff" stop-opacity="0.03"/><stop offset="0.65" stop-color="#fff" stop-opacity="0.03"/><stop offset="0.7" stop-color="#fff" stop-opacity="0.03"/><stop offset="0.75" stop-color="#fff" stop-opacity="0.02"/><stop offset="0.8" stop-color="#fff" stop-opacity="0.02"/><stop offset="0.85" stop-color="#fff" stop-opacity="0.01"/><stop offset="0.9" stop-color="#fff" stop-opacity="0.01"/><stop offset="0.95" stop-color="#fff" stop-opacity="0"/><stop offset="1" stop-color="#fff" stop-opacity="0"/></radialGradient>
<clipPath id="cc0"><rect x="69.4" y="208.35" width="195.4" height="149.15"/></clipPath>
<clipPath id="cc1"><rect x="290" y="208.35" width="195.4" height="149.15"/></clipPath>
<clipPath id="cc2"><rect x="510.3" y="208.35" width="195.4" height="149.15"/></clipPath>
<clipPath id="ce0"><rect x="69.4" y="401.9" width="195.4" height="149.05"/></clipPath>
<clipPath id="ce1"><rect x="290" y="401.9" width="195.4" height="149.05"/></clipPath>
<clipPath id="ce2"><rect x="510.3" y="401.9" width="195.4" height="149.05"/></clipPath></defs>
<rect width="725" height="794" fill="#fff"/>
<text x="49" y="17.3" font-size="18.4"><tspan font-style="italic">N</tspan> = 2</text>
<rect x="154.6" y="1.3" width="9.47" height="19.7" fill="rgb(0,0,130)" shape-rendering="crispEdges"/>
<rect x="163.47" y="1.3" width="9.47" height="19.7" fill="rgb(0,0,130)" shape-rendering="crispEdges"/>
<rect x="172.34" y="1.3" width="9.47" height="19.7" fill="rgb(0,8,135)" shape-rendering="crispEdges"/>
<rect x="181.2" y="1.3" width="9.47" height="19.7" fill="rgb(0,30,148)" shape-rendering="crispEdges"/>
<rect x="190.07" y="1.3" width="9.47" height="19.7" fill="rgb(0,57,160)" shape-rendering="crispEdges"/>
<rect x="198.94" y="1.3" width="9.47" height="19.7" fill="rgb(0,82,175)" shape-rendering="crispEdges"/>
<rect x="207.81" y="1.3" width="9.47" height="19.7" fill="rgb(0,108,192)" shape-rendering="crispEdges"/>
<rect x="216.68" y="1.3" width="9.47" height="19.7" fill="rgb(0,132,205)" shape-rendering="crispEdges"/>
<rect x="225.54" y="1.3" width="9.47" height="19.7" fill="rgb(0,158,215)" shape-rendering="crispEdges"/>
<rect x="234.41" y="1.3" width="9.47" height="19.7" fill="rgb(0,180,224)" shape-rendering="crispEdges"/>
<rect x="243.28" y="1.3" width="9.47" height="19.7" fill="rgb(0,200,230)" shape-rendering="crispEdges"/>
<rect x="252.15" y="1.3" width="9.47" height="19.7" fill="rgb(0,224,240)" shape-rendering="crispEdges"/>
<rect x="261.02" y="1.3" width="9.47" height="19.7" fill="rgb(0,246,248)" shape-rendering="crispEdges"/>
<rect x="269.88" y="1.3" width="9.47" height="19.7" fill="rgb(0,250,241)" shape-rendering="crispEdges"/>
<rect x="278.75" y="1.3" width="9.47" height="19.7" fill="rgb(0,253,234)" shape-rendering="crispEdges"/>
<rect x="287.62" y="1.3" width="9.47" height="19.7" fill="rgb(0,255,224)" shape-rendering="crispEdges"/>
<rect x="296.49" y="1.3" width="9.47" height="19.7" fill="rgb(0,254,212)" shape-rendering="crispEdges"/>
<rect x="305.36" y="1.3" width="9.47" height="19.7" fill="rgb(0,254,200)" shape-rendering="crispEdges"/>
<rect x="314.22" y="1.3" width="9.47" height="19.7" fill="rgb(0,253,188)" shape-rendering="crispEdges"/>
<rect x="323.09" y="1.3" width="9.47" height="19.7" fill="rgb(0,252,176)" shape-rendering="crispEdges"/>
<rect x="331.96" y="1.3" width="9.47" height="19.7" fill="rgb(2,252,165)" shape-rendering="crispEdges"/>
<rect x="340.83" y="1.3" width="9.47" height="19.7" fill="rgb(7,250,155)" shape-rendering="crispEdges"/>
<rect x="349.7" y="1.3" width="9.47" height="19.7" fill="rgb(13,250,145)" shape-rendering="crispEdges"/>
<rect x="358.56" y="1.3" width="9.47" height="19.7" fill="rgb(17,248,135)" shape-rendering="crispEdges"/>
<rect x="367.43" y="1.3" width="9.47" height="19.7" fill="rgb(29,248,129)" shape-rendering="crispEdges"/>
<rect x="376.3" y="1.3" width="9.47" height="19.7" fill="rgb(46,247,126)" shape-rendering="crispEdges"/>
<rect x="385.17" y="1.3" width="9.47" height="19.7" fill="rgb(64,246,124)" shape-rendering="crispEdges"/>
<rect x="394.04" y="1.3" width="9.47" height="19.7" fill="rgb(81,245,121)" shape-rendering="crispEdges"/>
<rect x="402.9" y="1.3" width="9.47" height="19.7" fill="rgb(95,245,120)" shape-rendering="crispEdges"/>
<rect x="411.77" y="1.3" width="9.47" height="19.7" fill="rgb(105,245,120)" shape-rendering="crispEdges"/>
<rect x="420.64" y="1.3" width="9.47" height="19.7" fill="rgb(115,245,120)" shape-rendering="crispEdges"/>
<rect x="429.51" y="1.3" width="9.47" height="19.7" fill="rgb(125,245,120)" shape-rendering="crispEdges"/>
<rect x="438.38" y="1.3" width="9.47" height="19.7" fill="rgb(140,246,120)" shape-rendering="crispEdges"/>
<rect x="447.24" y="1.3" width="9.47" height="19.7" fill="rgb(160,247,120)" shape-rendering="crispEdges"/>
<rect x="456.11" y="1.3" width="9.47" height="19.7" fill="rgb(180,249,120)" shape-rendering="crispEdges"/>
<rect x="464.98" y="1.3" width="9.47" height="19.7" fill="rgb(200,250,120)" shape-rendering="crispEdges"/>
<rect x="473.85" y="1.3" width="9.47" height="19.7" fill="rgb(222,250,125)" shape-rendering="crispEdges"/>
<rect x="482.72" y="1.3" width="9.47" height="19.7" fill="rgb(245,250,130)" shape-rendering="crispEdges"/>
<rect x="491.58" y="1.3" width="9.47" height="19.7" fill="rgb(252,240,120)" shape-rendering="crispEdges"/>
<rect x="500.45" y="1.3" width="9.47" height="19.7" fill="rgb(255,225,110)" shape-rendering="crispEdges"/>
<rect x="509.32" y="1.3" width="9.47" height="19.7" fill="rgb(255,205,100)" shape-rendering="crispEdges"/>
<rect x="518.19" y="1.3" width="9.47" height="19.7" fill="rgb(255,186,91)" shape-rendering="crispEdges"/>
<rect x="527.06" y="1.3" width="9.47" height="19.7" fill="rgb(255,169,84)" shape-rendering="crispEdges"/>
<rect x="535.92" y="1.3" width="9.47" height="19.7" fill="rgb(255,150,76)" shape-rendering="crispEdges"/>
<rect x="544.79" y="1.3" width="9.47" height="19.7" fill="rgb(255,130,69)" shape-rendering="crispEdges"/>
<rect x="553.66" y="1.3" width="9.47" height="19.7" fill="rgb(255,107,60)" shape-rendering="crispEdges"/>
<rect x="562.53" y="1.3" width="9.47" height="19.7" fill="rgb(255,82,50)" shape-rendering="crispEdges"/>
<rect x="571.4" y="1.3" width="9.47" height="19.7" fill="rgb(255,58,38)" shape-rendering="crispEdges"/>
<rect x="580.26" y="1.3" width="9.47" height="19.7" fill="rgb(255,35,25)" shape-rendering="crispEdges"/>
<rect x="589.13" y="1.3" width="9.47" height="19.7" fill="rgb(255,12,8)" shape-rendering="crispEdges"/>
<text x="148.2" y="16.3" font-size="15.2" text-anchor="end" fill="#000">0.0</text>
<text x="388.2" y="16.4" font-size="15" text-anchor="middle" fill="#000">0.5</text>
<text x="614.2" y="16.4" font-size="15.4" text-anchor="start" fill="#000">1.0</text>
<text x="163.6" y="43.9" font-size="18.2" text-anchor="middle" fill="#000">1 sccm</text>
<text x="394.4" y="43.9" font-size="18.2" text-anchor="middle" fill="#000">2 sccm</text>
<text x="616.5" y="43.9" font-size="18.2" text-anchor="middle" fill="#000">4 sccm</text>
<text transform="translate(710.5 124) rotate(90)" font-size="18.2" text-anchor="middle">Experiment</text>
<text transform="translate(710.5 284) rotate(90)" font-size="18" text-anchor="middle">Simulations</text>
<text transform="translate(20.4 207.5) rotate(-90)" font-size="17.85" text-anchor="middle">Distance from the powered electrode [mm]</text>
<g clip-path="url(#clp1)"><g filter="url(#cm)">
<rect x="59.4" y="39.45" width="215.4" height="169.05" fill="#000"/>
<ellipse cx="157.5" cy="127" rx="9.5" ry="22" fill="url(#g1)" transform="rotate(-8 157.5 127)"/>
<ellipse cx="155" cy="97" rx="12" ry="20" fill="url(#g2)" transform="rotate(-14 155 97)"/>
<ellipse cx="162" cy="165" rx="14" ry="23.5" fill="url(#g3)" transform="rotate(-20 162 165)"/>
<ellipse cx="221.5" cy="141.5" rx="9.5" ry="19.5" fill="url(#g4)" transform="rotate(8 221.5 141.5)"/>
</g></g>
<g clip-path="url(#clp2)"><g filter="url(#cm)">
<rect x="280" y="39.45" width="215.4" height="169.05" fill="#000"/>
<ellipse cx="377.5" cy="127" rx="12" ry="24" fill="url(#g5)" transform="rotate(-6 377.5 127)"/>
<ellipse cx="375" cy="100" rx="10.5" ry="21" fill="url(#g6)" transform="rotate(-8 375 100)"/>
<ellipse cx="381.5" cy="161.5" rx="13" ry="24" fill="url(#g7)" transform="rotate(-15 381.5 161.5)"/>
<ellipse cx="441" cy="142.5" rx="10" ry="23" fill="url(#g8)" transform="rotate(8 441 142.5)"/>
</g></g>
<g clip-path="url(#clp3)"><g filter="url(#cm)">
<rect x="500.3" y="39.45" width="215.4" height="169.05" fill="#000"/>
<ellipse cx="599" cy="131" rx="12.5" ry="45" fill="url(#g9)" transform="rotate(-9 599 131)"/>
<ellipse cx="586.5" cy="126" rx="5" ry="11" fill="url(#g10)" transform="rotate(0 586.5 126)"/>
<ellipse cx="600" cy="131" rx="5.5" ry="34" fill="url(#g11)" transform="rotate(-8 600 131)"/>
<ellipse cx="599.5" cy="110" rx="5.5" ry="9.5" fill="url(#g12)" transform="rotate(-10 599.5 110)"/>
<ellipse cx="601" cy="151" rx="6.5" ry="11.5" fill="url(#g13)" transform="rotate(-10 601 151)"/>
<ellipse cx="662.5" cy="141" rx="8.5" ry="21" fill="url(#g14)" transform="rotate(5 662.5 141)"/>
</g></g>
<line x1="69.4" y1="49.45" x2="69.4" y2="56.45" stroke="#000" stroke-width="1.4"/>
<line x1="88.94" y1="49.45" x2="88.94" y2="53.05" stroke="#000" stroke-width="1.4"/>
<line x1="108.48" y1="49.45" x2="108.48" y2="56.45" stroke="#000" stroke-width="1.4"/>
<line x1="128.02" y1="49.45" x2="128.02" y2="53.05" stroke="#000" stroke-width="1.4"/>
<line x1="147.56" y1="49.45" x2="147.56" y2="56.45" stroke="#000" stroke-width="1.4"/>
<line x1="167.1" y1="49.45" x2="167.1" y2="53.05" stroke="#000" stroke-width="1.4"/>
<line x1="186.64" y1="49.45" x2="186.64" y2="56.45" stroke="#000" stroke-width="1.4"/>
<line x1="206.18" y1="49.45" x2="206.18" y2="53.05" stroke="#000" stroke-width="1.4"/>
<line x1="225.72" y1="49.45" x2="225.72" y2="56.45" stroke="#000" stroke-width="1.4"/>
<line x1="245.26" y1="49.45" x2="245.26" y2="53.05" stroke="#000" stroke-width="1.4"/>
<line x1="264.8" y1="49.45" x2="264.8" y2="56.45" stroke="#000" stroke-width="1.4"/>
<line x1="69.4" y1="198.5" x2="69.4" y2="205.5" stroke="#000" stroke-width="1.4"/>
<line x1="88.94" y1="198.5" x2="88.94" y2="202.1" stroke="#000" stroke-width="1.4"/>
<line x1="108.48" y1="198.5" x2="108.48" y2="205.5" stroke="#000" stroke-width="1.4"/>
<line x1="128.02" y1="198.5" x2="128.02" y2="202.1" stroke="#000" stroke-width="1.4"/>
<line x1="147.56" y1="198.5" x2="147.56" y2="205.5" stroke="#000" stroke-width="1.4"/>
<line x1="167.1" y1="198.5" x2="167.1" y2="202.1" stroke="#000" stroke-width="1.4"/>
<line x1="186.64" y1="198.5" x2="186.64" y2="205.5" stroke="#000" stroke-width="1.4"/>
<line x1="206.18" y1="198.5" x2="206.18" y2="202.1" stroke="#000" stroke-width="1.4"/>
<line x1="225.72" y1="198.5" x2="225.72" y2="205.5" stroke="#000" stroke-width="1.4"/>
<line x1="245.26" y1="198.5" x2="245.26" y2="202.1" stroke="#000" stroke-width="1.4"/>
<line x1="264.8" y1="198.5" x2="264.8" y2="205.5" stroke="#000" stroke-width="1.4"/>
<line x1="69.4" y1="198.5" x2="62.4" y2="198.5" stroke="#000" stroke-width="1.4"/>
<line x1="69.4" y1="183.59" x2="65.8" y2="183.59" stroke="#000" stroke-width="1.4"/>
<line x1="69.4" y1="168.69" x2="62.4" y2="168.69" stroke="#000" stroke-width="1.4"/>
<line x1="69.4" y1="153.78" x2="65.8" y2="153.78" stroke="#000" stroke-width="1.4"/>
<line x1="69.4" y1="138.88" x2="62.4" y2="138.88" stroke="#000" stroke-width="1.4"/>
<line x1="69.4" y1="123.97" x2="65.8" y2="123.97" stroke="#000" stroke-width="1.4"/>
<line x1="69.4" y1="109.07" x2="62.4" y2="109.07" stroke="#000" stroke-width="1.4"/>
<line x1="69.4" y1="94.16" x2="65.8" y2="94.16" stroke="#000" stroke-width="1.4"/>
<line x1="69.4" y1="79.26" x2="62.4" y2="79.26" stroke="#000" stroke-width="1.4"/>
<line x1="69.4" y1="64.35" x2="65.8" y2="64.35" stroke="#000" stroke-width="1.4"/>
<line x1="69.4" y1="49.45" x2="62.4" y2="49.45" stroke="#000" stroke-width="1.4"/>
<line x1="264.8" y1="198.5" x2="257.8" y2="198.5" stroke="#000" stroke-width="1.4"/>
<line x1="264.8" y1="183.59" x2="261.2" y2="183.59" stroke="#000" stroke-width="1.4"/>
<line x1="264.8" y1="168.69" x2="257.8" y2="168.69" stroke="#000" stroke-width="1.4"/>
<line x1="264.8" y1="153.78" x2="261.2" y2="153.78" stroke="#000" stroke-width="1.4"/>
<line x1="264.8" y1="138.88" x2="257.8" y2="138.88" stroke="#000" stroke-width="1.4"/>
<line x1="264.8" y1="123.97" x2="261.2" y2="123.97" stroke="#000" stroke-width="1.4"/>
<line x1="264.8" y1="109.07" x2="257.8" y2="109.07" stroke="#000" stroke-width="1.4"/>
<line x1="264.8" y1="94.16" x2="261.2" y2="94.16" stroke="#000" stroke-width="1.4"/>
<line x1="264.8" y1="79.26" x2="257.8" y2="79.26" stroke="#000" stroke-width="1.4"/>
<line x1="264.8" y1="64.35" x2="261.2" y2="64.35" stroke="#000" stroke-width="1.4"/>
<line x1="264.8" y1="49.45" x2="257.8" y2="49.45" stroke="#000" stroke-width="1.4"/>
<rect x="69.4" y="49.45" width="195.4" height="149.05" fill="none" stroke="#000" stroke-width="1.4"/>
<text x="56.9" y="202.2" font-size="14" text-anchor="end" fill="#000">0.0</text>
<text x="56.9" y="172.39" font-size="14" text-anchor="end" fill="#000">0.2</text>
<text x="56.9" y="142.58" font-size="14" text-anchor="end" fill="#000">0.4</text>
<text x="56.9" y="112.77" font-size="14" text-anchor="end" fill="#000">0.6</text>
<text x="56.9" y="82.96" font-size="14" text-anchor="end" fill="#000">0.8</text>
<text x="56.9" y="53.15" font-size="14" text-anchor="end" fill="#000">1.0</text>
<line x1="290" y1="49.45" x2="290" y2="56.45" stroke="#000" stroke-width="1.4"/>
<line x1="309.54" y1="49.45" x2="309.54" y2="53.05" stroke="#000" stroke-width="1.4"/>
<line x1="329.08" y1="49.45" x2="329.08" y2="56.45" stroke="#000" stroke-width="1.4"/>
<line x1="348.62" y1="49.45" x2="348.62" y2="53.05" stroke="#000" stroke-width="1.4"/>
<line x1="368.16" y1="49.45" x2="368.16" y2="56.45" stroke="#000" stroke-width="1.4"/>
<line x1="387.7" y1="49.45" x2="387.7" y2="53.05" stroke="#000" stroke-width="1.4"/>
<line x1="407.24" y1="49.45" x2="407.24" y2="56.45" stroke="#000" stroke-width="1.4"/>
<line x1="426.78" y1="49.45" x2="426.78" y2="53.05" stroke="#000" stroke-width="1.4"/>
<line x1="446.32" y1="49.45" x2="446.32" y2="56.45" stroke="#000" stroke-width="1.4"/>
<line x1="465.86" y1="49.45" x2="465.86" y2="53.05" stroke="#000" stroke-width="1.4"/>
<line x1="485.4" y1="49.45" x2="485.4" y2="56.45" stroke="#000" stroke-width="1.4"/>
<line x1="290" y1="198.5" x2="290" y2="205.5" stroke="#000" stroke-width="1.4"/>
<line x1="309.54" y1="198.5" x2="309.54" y2="202.1" stroke="#000" stroke-width="1.4"/>
<line x1="329.08" y1="198.5" x2="329.08" y2="205.5" stroke="#000" stroke-width="1.4"/>
<line x1="348.62" y1="198.5" x2="348.62" y2="202.1" stroke="#000" stroke-width="1.4"/>
<line x1="368.16" y1="198.5" x2="368.16" y2="205.5" stroke="#000" stroke-width="1.4"/>
<line x1="387.7" y1="198.5" x2="387.7" y2="202.1" stroke="#000" stroke-width="1.4"/>
<line x1="407.24" y1="198.5" x2="407.24" y2="205.5" stroke="#000" stroke-width="1.4"/>
<line x1="426.78" y1="198.5" x2="426.78" y2="202.1" stroke="#000" stroke-width="1.4"/>
<line x1="446.32" y1="198.5" x2="446.32" y2="205.5" stroke="#000" stroke-width="1.4"/>
<line x1="465.86" y1="198.5" x2="465.86" y2="202.1" stroke="#000" stroke-width="1.4"/>
<line x1="485.4" y1="198.5" x2="485.4" y2="205.5" stroke="#000" stroke-width="1.4"/>
<line x1="290" y1="198.5" x2="283" y2="198.5" stroke="#000" stroke-width="1.4"/>
<line x1="290" y1="183.59" x2="286.4" y2="183.59" stroke="#000" stroke-width="1.4"/>
<line x1="290" y1="168.69" x2="283" y2="168.69" stroke="#000" stroke-width="1.4"/>
<line x1="290" y1="153.78" x2="286.4" y2="153.78" stroke="#000" stroke-width="1.4"/>
<line x1="290" y1="138.88" x2="283" y2="138.88" stroke="#000" stroke-width="1.4"/>
<line x1="290" y1="123.97" x2="286.4" y2="123.97" stroke="#000" stroke-width="1.4"/>
<line x1="290" y1="109.07" x2="283" y2="109.07" stroke="#000" stroke-width="1.4"/>
<line x1="290" y1="94.16" x2="286.4" y2="94.16" stroke="#000" stroke-width="1.4"/>
<line x1="290" y1="79.26" x2="283" y2="79.26" stroke="#000" stroke-width="1.4"/>
<line x1="290" y1="64.35" x2="286.4" y2="64.35" stroke="#000" stroke-width="1.4"/>
<line x1="290" y1="49.45" x2="283" y2="49.45" stroke="#000" stroke-width="1.4"/>
<line x1="485.4" y1="198.5" x2="478.4" y2="198.5" stroke="#000" stroke-width="1.4"/>
<line x1="485.4" y1="183.59" x2="481.8" y2="183.59" stroke="#000" stroke-width="1.4"/>
<line x1="485.4" y1="168.69" x2="478.4" y2="168.69" stroke="#000" stroke-width="1.4"/>
<line x1="485.4" y1="153.78" x2="481.8" y2="153.78" stroke="#000" stroke-width="1.4"/>
<line x1="485.4" y1="138.88" x2="478.4" y2="138.88" stroke="#000" stroke-width="1.4"/>
<line x1="485.4" y1="123.97" x2="481.8" y2="123.97" stroke="#000" stroke-width="1.4"/>
<line x1="485.4" y1="109.07" x2="478.4" y2="109.07" stroke="#000" stroke-width="1.4"/>
<line x1="485.4" y1="94.16" x2="481.8" y2="94.16" stroke="#000" stroke-width="1.4"/>
<line x1="485.4" y1="79.26" x2="478.4" y2="79.26" stroke="#000" stroke-width="1.4"/>
<line x1="485.4" y1="64.35" x2="481.8" y2="64.35" stroke="#000" stroke-width="1.4"/>
<line x1="485.4" y1="49.45" x2="478.4" y2="49.45" stroke="#000" stroke-width="1.4"/>
<rect x="290" y="49.45" width="195.4" height="149.05" fill="none" stroke="#000" stroke-width="1.4"/>
<line x1="510.3" y1="49.45" x2="510.3" y2="56.45" stroke="#000" stroke-width="1.4"/>
<line x1="529.84" y1="49.45" x2="529.84" y2="53.05" stroke="#000" stroke-width="1.4"/>
<line x1="549.38" y1="49.45" x2="549.38" y2="56.45" stroke="#000" stroke-width="1.4"/>
<line x1="568.92" y1="49.45" x2="568.92" y2="53.05" stroke="#000" stroke-width="1.4"/>
<line x1="588.46" y1="49.45" x2="588.46" y2="56.45" stroke="#000" stroke-width="1.4"/>
<line x1="608" y1="49.45" x2="608" y2="53.05" stroke="#000" stroke-width="1.4"/>
<line x1="627.54" y1="49.45" x2="627.54" y2="56.45" stroke="#000" stroke-width="1.4"/>
<line x1="647.08" y1="49.45" x2="647.08" y2="53.05" stroke="#000" stroke-width="1.4"/>
<line x1="666.62" y1="49.45" x2="666.62" y2="56.45" stroke="#000" stroke-width="1.4"/>
<line x1="686.16" y1="49.45" x2="686.16" y2="53.05" stroke="#000" stroke-width="1.4"/>
<line x1="705.7" y1="49.45" x2="705.7" y2="56.45" stroke="#000" stroke-width="1.4"/>
<line x1="510.3" y1="198.5" x2="510.3" y2="205.5" stroke="#000" stroke-width="1.4"/>
<line x1="529.84" y1="198.5" x2="529.84" y2="202.1" stroke="#000" stroke-width="1.4"/>
<line x1="549.38" y1="198.5" x2="549.38" y2="205.5" stroke="#000" stroke-width="1.4"/>
<line x1="568.92" y1="198.5" x2="568.92" y2="202.1" stroke="#000" stroke-width="1.4"/>
<line x1="588.46" y1="198.5" x2="588.46" y2="205.5" stroke="#000" stroke-width="1.4"/>
<line x1="608" y1="198.5" x2="608" y2="202.1" stroke="#000" stroke-width="1.4"/>
<line x1="627.54" y1="198.5" x2="627.54" y2="205.5" stroke="#000" stroke-width="1.4"/>
<line x1="647.08" y1="198.5" x2="647.08" y2="202.1" stroke="#000" stroke-width="1.4"/>
<line x1="666.62" y1="198.5" x2="666.62" y2="205.5" stroke="#000" stroke-width="1.4"/>
<line x1="686.16" y1="198.5" x2="686.16" y2="202.1" stroke="#000" stroke-width="1.4"/>
<line x1="705.7" y1="198.5" x2="705.7" y2="205.5" stroke="#000" stroke-width="1.4"/>
<line x1="510.3" y1="198.5" x2="503.3" y2="198.5" stroke="#000" stroke-width="1.4"/>
<line x1="510.3" y1="183.59" x2="506.7" y2="183.59" stroke="#000" stroke-width="1.4"/>
<line x1="510.3" y1="168.69" x2="503.3" y2="168.69" stroke="#000" stroke-width="1.4"/>
<line x1="510.3" y1="153.78" x2="506.7" y2="153.78" stroke="#000" stroke-width="1.4"/>
<line x1="510.3" y1="138.88" x2="503.3" y2="138.88" stroke="#000" stroke-width="1.4"/>
<line x1="510.3" y1="123.97" x2="506.7" y2="123.97" stroke="#000" stroke-width="1.4"/>
<line x1="510.3" y1="109.07" x2="503.3" y2="109.07" stroke="#000" stroke-width="1.4"/>
<line x1="510.3" y1="94.16" x2="506.7" y2="94.16" stroke="#000" stroke-width="1.4"/>
<line x1="510.3" y1="79.26" x2="503.3" y2="79.26" stroke="#000" stroke-width="1.4"/>
<line x1="510.3" y1="64.35" x2="506.7" y2="64.35" stroke="#000" stroke-width="1.4"/>
<line x1="510.3" y1="49.45" x2="503.3" y2="49.45" stroke="#000" stroke-width="1.4"/>
<line x1="705.7" y1="198.5" x2="698.7" y2="198.5" stroke="#000" stroke-width="1.4"/>
<line x1="705.7" y1="183.59" x2="702.1" y2="183.59" stroke="#000" stroke-width="1.4"/>
<line x1="705.7" y1="168.69" x2="698.7" y2="168.69" stroke="#000" stroke-width="1.4"/>
<line x1="705.7" y1="153.78" x2="702.1" y2="153.78" stroke="#000" stroke-width="1.4"/>
<line x1="705.7" y1="138.88" x2="698.7" y2="138.88" stroke="#000" stroke-width="1.4"/>
<line x1="705.7" y1="123.97" x2="702.1" y2="123.97" stroke="#000" stroke-width="1.4"/>
<line x1="705.7" y1="109.07" x2="698.7" y2="109.07" stroke="#000" stroke-width="1.4"/>
<line x1="705.7" y1="94.16" x2="702.1" y2="94.16" stroke="#000" stroke-width="1.4"/>
<line x1="705.7" y1="79.26" x2="698.7" y2="79.26" stroke="#000" stroke-width="1.4"/>
<line x1="705.7" y1="64.35" x2="702.1" y2="64.35" stroke="#000" stroke-width="1.4"/>
<line x1="705.7" y1="49.45" x2="698.7" y2="49.45" stroke="#000" stroke-width="1.4"/>
<rect x="510.3" y="49.45" width="195.4" height="149.05" fill="none" stroke="#000" stroke-width="1.4"/>
<text x="71.5" y="67" font-size="18" text-anchor="start" fill="#fff">(a)</text>
<text x="296" y="65.8" font-size="18" text-anchor="start" fill="#fff">(b)</text>
<text x="512.5" y="65.8" font-size="18" text-anchor="start" fill="#fff">(c)</text>
<g clip-path="url(#clp4)"><g filter="url(#cm2)">
<rect x="59.4" y="198.35" width="215.4" height="169.15" fill="#000"/>
<ellipse cx="175" cy="232" rx="26" ry="16" fill="url(#g15)" transform="rotate(0 175 232)"/>
<path d="M151,221 Q175,208 199,220" fill="none" stroke="#fff" stroke-opacity="0.09" stroke-width="2"/>
<path d="M157,226 Q177,214 197,225" fill="none" stroke="#fff" stroke-opacity="0.08" stroke-width="1.8"/>
<path d="M162,231 Q179,221 195,230" fill="none" stroke="#fff" stroke-opacity="0.07" stroke-width="1.7"/>
<path d="M78,351 Q105,344 135,351" fill="none" stroke="#fff" stroke-opacity="0.1" stroke-width="2"/>
<ellipse cx="104" cy="333" rx="24" ry="20" fill="url(#g16)" transform="rotate(0 104 333)"/>
<ellipse cx="224" cy="305" rx="10" ry="30" fill="url(#g17)" transform="rotate(0 224 305)"/>
<ellipse cx="245" cy="348" rx="25" ry="5" fill="url(#g18)" transform="rotate(0 245 348)"/>
<ellipse cx="157" cy="292" rx="10" ry="24" fill="url(#g19)" transform="rotate(-8 157 292)"/>
<ellipse cx="157" cy="240" rx="8" ry="30" fill="url(#g20)" transform="rotate(0 157 240)"/>
<ellipse cx="155.5" cy="253" rx="10.5" ry="21" fill="url(#g21)" transform="rotate(-25 155.5 253)"/>
<ellipse cx="160.5" cy="325" rx="12" ry="21.5" fill="url(#g22)" transform="rotate(-24 160.5 325)"/>
</g></g>
<g clip-path="url(#clp5)"><g filter="url(#cm2)">
<rect x="280" y="198.35" width="215.4" height="169.15" fill="#000"/>
<ellipse cx="396" cy="232" rx="30" ry="16" fill="url(#g23)" transform="rotate(0 396 232)"/>
<path d="M352,221 Q395,207 445,220" fill="none" stroke="#fff" stroke-opacity="0.09" stroke-width="2"/>
<path d="M360,226 Q397,213 440,225" fill="none" stroke="#fff" stroke-opacity="0.08" stroke-width="1.8"/>
<path d="M368,231 Q398,220 432,230" fill="none" stroke="#fff" stroke-opacity="0.07" stroke-width="1.7"/>
<path d="M300,351 Q330,344 360,351" fill="none" stroke="#fff" stroke-opacity="0.09" stroke-width="2"/>
<ellipse cx="325" cy="333" rx="26" ry="20" fill="url(#g24)" transform="rotate(0 325 333)"/>
<ellipse cx="446" cy="306" rx="10" ry="32" fill="url(#g25)" transform="rotate(0 446 306)"/>
<ellipse cx="465" cy="348" rx="20" ry="5" fill="url(#g26)" transform="rotate(0 465 348)"/>
<ellipse cx="378" cy="291" rx="9.5" ry="20" fill="url(#g27)" transform="rotate(-5 378 291)"/>
<ellipse cx="378" cy="270" rx="12" ry="60" fill="url(#g28)" transform="rotate(0 378 270)"/>
<ellipse cx="376" cy="256" rx="10.5" ry="23" fill="url(#g29)" transform="rotate(-24 376 256)"/>
<ellipse cx="380.5" cy="321" rx="12" ry="24" fill="url(#g30)" transform="rotate(-18 380.5 321)"/>
</g></g>
<g clip-path="url(#clp6)"><g filter="url(#cm2)">
<rect x="500.3" y="198.35" width="215.4" height="169.15" fill="#000"/>
<ellipse cx="612" cy="226" rx="30" ry="18" fill="url(#g31)" transform="rotate(0 612 226)"/>
<ellipse cx="600.5" cy="289" rx="11.5" ry="16" fill="url(#g32)" transform="rotate(0 600.5 289)"/>
<ellipse cx="599" cy="263" rx="12.5" ry="27" fill="url(#g33)" transform="rotate(-22 599 263)"/>
<ellipse cx="603" cy="315" rx="12.5" ry="31" fill="url(#g34)" transform="rotate(-24 603 315)"/>
<ellipse cx="597" cy="261" rx="6" ry="11" fill="url(#g35)" transform="rotate(-20 597 261)"/>
<ellipse cx="602" cy="315" rx="6" ry="12" fill="url(#g36)" transform="rotate(-20 602 315)"/>
<ellipse cx="662" cy="300" rx="8" ry="15" fill="url(#g37)" transform="rotate(0 662 300)"/>
</g></g>
<g clip-path="url(#cc0)" fill="none" stroke="#fff" stroke-width="1.8" stroke-linejoin="round">
<path d="M69.5,221.2 C71.17,220.62 76.38,219.2 79.5,217.7 C82.62,216.2 85.67,213.75 88.2,212.2 C90.73,210.65 91.98,209.9 94.7,208.4 C97.42,206.9 101,203.17 104.5,203.2 C108,203.23 112.63,206.37 115.7,208.6 C118.77,210.83 120.48,213.82 122.9,216.6 C125.32,219.38 127.78,222.4 130.2,225.3 C132.62,228.2 134.98,231.07 137.4,234 C139.82,236.93 142.28,240.05 144.7,242.9 C147.12,245.75 149.5,248.6 151.9,251.1 C154.3,253.6 156.92,256.05 159.1,257.9 C161.28,259.75 162.82,260.77 165,262.2 C167.18,263.63 169.78,265.3 172.2,266.5 C174.62,267.7 176.83,268.78 179.5,269.4 C182.17,270.02 185.3,270.55 188.2,270.2 C191.1,269.85 193.53,269.23 196.9,267.3 C200.27,265.37 204.07,262.22 208.4,258.6 C212.73,254.98 218.07,249.7 222.9,245.6 C227.73,241.5 233.05,237.27 237.4,234 C241.75,230.73 244.65,228.05 249,226 C253.35,223.95 260.67,222.5 263.5,221.7 C266.33,220.9 265.58,221.28 266,221.2"/>
<path d="M69.5,301.4 C71.17,301.1 75.42,300.75 79.5,299.6 C83.58,298.45 89.18,295.72 94,294.5 C98.82,293.28 104.07,292.07 108.4,292.3 C112.73,292.53 116.37,293.97 120,295.9 C123.63,297.83 126.82,300.75 130.2,303.9 C133.58,307.05 137.17,311.07 140.3,314.8 C143.43,318.53 146.1,322.45 149,326.3 C151.9,330.15 154.8,334.27 157.7,337.9 C160.6,341.53 164.22,345.68 166.4,348.1 C168.58,350.52 169.1,350.83 170.8,352.4 C172.5,353.97 174.32,355.9 176.6,357.5 C178.88,359.1 181.85,362.05 184.5,362 C187.15,361.95 189.72,359.77 192.5,357.2 C195.28,354.63 197.82,350.53 201.2,346.6 C204.58,342.67 208.7,337.93 212.8,333.6 C216.9,329.27 221.7,324.35 225.8,320.6 C229.9,316.85 233.53,313.88 237.4,311.1 C241.27,308.32 244.53,305.52 249,303.9 C253.47,302.28 261.37,301.83 264.2,301.4 C267.03,300.97 265.7,301.32 266,301.3"/>
</g>
<g clip-path="url(#cc1)" fill="none" stroke="#fff" stroke-width="1.8" stroke-linejoin="round">
<path d="M290.5,224.6 C292,223.87 296.55,221.9 299.5,220.2 C302.45,218.5 305.3,216.33 308.2,214.4 C311.1,212.47 313.7,210.42 316.9,208.6 C320.1,206.78 323.9,203.5 327.4,203.5 C330.9,203.5 334.83,206.3 337.9,208.6 C340.97,210.9 343.03,214.03 345.8,217.3 C348.57,220.57 351.6,224.58 354.5,228.2 C357.4,231.82 360.3,235.5 363.2,239 C366.1,242.5 369,245.93 371.9,249.2 C374.8,252.47 377.58,256.07 380.6,258.6 C383.62,261.13 388.07,263.08 390,264.4 C391.93,265.72 390.38,265.3 392.2,266.5 C394.02,267.7 397.75,270.5 400.9,271.6 C404.05,272.7 407.72,273.47 411.1,273.1 C414.48,272.73 417.35,271.58 421.2,269.4 C425.05,267.22 429.62,263.62 434.2,260 C438.78,256.38 443.87,251.68 448.7,247.7 C453.53,243.72 458.85,239.23 463.2,236.1 C467.55,232.97 471.3,230.7 474.8,228.9 C478.3,227.1 482.33,225.97 484.2,225.3 C486.07,224.63 485.7,224.97 486,224.9"/>
<path d="M290.5,297.7 C292,297.4 295.58,297.17 299.5,295.9 C303.42,294.63 308.93,291.58 314,290.1 C319.07,288.62 326.05,287.35 329.9,287 C333.75,286.65 334.45,286.75 337.1,288 C339.75,289.25 342.9,291.73 345.8,294.5 C348.7,297.27 351.6,301.22 354.5,304.6 C357.4,307.98 360.3,311.42 363.2,314.8 C366.1,318.18 369,321.77 371.9,324.9 C374.8,328.03 377.58,330.7 380.6,333.6 C383.62,336.5 387.33,339.4 390,342.3 C392.67,345.2 394.78,348.63 396.6,351 C398.42,353.37 399.03,354.83 400.9,356.5 C402.77,358.17 405.5,360.88 407.8,361 C410.1,361.12 412.22,359.35 414.7,357.2 C417.18,355.05 419.68,352.03 422.7,348.1 C425.72,344.17 428.95,338.43 432.8,333.6 C436.65,328.77 441.45,323.2 445.8,319.1 C450.15,315 454.55,311.95 458.9,309 C463.25,306.05 467.68,303.1 471.9,301.4 C476.12,299.7 481.85,299.27 484.2,298.8 C486.55,298.33 485.7,298.63 486,298.6"/>
</g>
<g clip-path="url(#cc2)" fill="none" stroke="#fff" stroke-width="1.8" stroke-linejoin="round">
<path d="M510.8,229.6 C512.25,228.88 516.6,226.87 519.5,225.3 C522.4,223.73 525.3,222.13 528.2,220.2 C531.1,218.27 534.37,215.63 536.9,213.7 C539.43,211.77 540.8,210.25 543.4,208.6 C546,206.95 549.48,203.8 552.5,203.8 C555.52,203.8 558.8,206.47 561.5,208.6 C564.2,210.73 566.05,213.33 568.7,216.6 C571.35,219.87 574.5,224.1 577.4,228.2 C580.3,232.3 583.2,237.1 586.1,241.2 C589,245.3 591.9,249.42 594.8,252.8 C597.7,256.18 600.6,259.22 603.5,261.5 C606.4,263.78 609.53,265.05 612.2,266.5 C614.87,267.95 617.37,269.42 619.5,270.2 C621.63,270.98 623.07,270.97 625,271.2 C626.93,271.43 630.08,271.53 631.1,271.6 L632.5,269.4 L632.5,269.4 C634.68,269.45 642.22,269.93 645.6,269.7 C648.98,269.47 649.92,269.48 652.8,268 C655.68,266.52 658.8,264.07 662.9,260.8 C667,257.53 672.57,252.27 677.4,248.4 C682.23,244.53 687.43,240.48 691.9,237.6 C696.37,234.72 701.85,232.28 704.2,231.1 C706.55,229.92 705.7,230.6 706,230.5"/>
<path d="M510.8,293.3 C512.25,292.9 516.3,291.97 519.5,290.9 C522.7,289.83 526.63,288.22 530,286.9 C533.37,285.58 535.68,284.2 539.7,283 C543.72,281.8 550.57,280.1 554.1,279.7 C557.63,279.3 558.48,279.57 560.9,280.6 C563.32,281.63 566.03,283.8 568.6,285.9 C571.17,288 573.73,290.7 576.3,293.2 C578.87,295.7 581.75,298.5 584,300.9 C586.25,303.3 587.22,304.55 589.8,307.6 C592.38,310.65 596.53,315.8 599.5,319.2 C602.47,322.6 604.88,325.17 607.6,328 C610.32,330.83 613.88,334.37 615.8,336.2 C617.72,338.03 617.77,338.4 619.1,339 C620.43,339.6 621.8,339.67 623.8,339.8 C625.8,339.93 629.88,339.8 631.1,339.8 L632.5,335.8 L632.5,335.8 C634.43,335.67 641.68,334.93 644.1,335 C646.52,335.07 645.55,336.38 647,336.2 C648.45,336.02 650.15,335.78 652.8,333.9 C655.45,332.02 658.8,328.93 662.9,324.9 C667,320.87 672.57,314.17 677.4,309.7 C682.23,305.23 687.43,300.75 691.9,298.1 C696.37,295.45 701.85,294.57 704.2,293.8 C706.55,293.03 705.7,293.55 706,293.5"/>
</g>
<rect x="143.9" y="236.1" width="23.6" height="39.4" fill="none" stroke="#a0a0ff" stroke-width="2"/>
<rect x="147.5" y="308.7" width="25.5" height="33.9" fill="none" stroke="#ff0000" stroke-width="2.1" stroke-dasharray="4.4 3.5"/>
<rect x="364.4" y="236.4" width="27.1" height="40.3" fill="none" stroke="#a0a0ff" stroke-width="2"/>
<rect x="369.3" y="301.4" width="25.1" height="41.2" fill="none" stroke="#ff0000" stroke-width="2.1" stroke-dasharray="4.4 3.5"/>
<rect x="586.8" y="240.2" width="27.2" height="42.6" fill="none" stroke="#a0a0ff" stroke-width="2"/>
<rect x="588.3" y="292.7" width="26.1" height="46.7" fill="none" stroke="#ff0000" stroke-width="2.1" stroke-dasharray="4.4 3.5"/>
<line x1="69.4" y1="208.35" x2="69.4" y2="215.35" stroke="#000" stroke-width="1.4"/>
<line x1="88.94" y1="208.35" x2="88.94" y2="211.95" stroke="#000" stroke-width="1.4"/>
<line x1="108.48" y1="208.35" x2="108.48" y2="215.35" stroke="#000" stroke-width="1.4"/>
<line x1="128.02" y1="208.35" x2="128.02" y2="211.95" stroke="#000" stroke-width="1.4"/>
<line x1="147.56" y1="208.35" x2="147.56" y2="215.35" stroke="#000" stroke-width="1.4"/>
<line x1="167.1" y1="208.35" x2="167.1" y2="211.95" stroke="#000" stroke-width="1.4"/>
<line x1="186.64" y1="208.35" x2="186.64" y2="215.35" stroke="#000" stroke-width="1.4"/>
<line x1="206.18" y1="208.35" x2="206.18" y2="211.95" stroke="#000" stroke-width="1.4"/>
<line x1="225.72" y1="208.35" x2="225.72" y2="215.35" stroke="#000" stroke-width="1.4"/>
<line x1="245.26" y1="208.35" x2="245.26" y2="211.95" stroke="#000" stroke-width="1.4"/>
<line x1="264.8" y1="208.35" x2="264.8" y2="215.35" stroke="#000" stroke-width="1.4"/>
<line x1="69.4" y1="357.5" x2="69.4" y2="350.5" stroke="#000" stroke-width="1.4"/>
<line x1="88.94" y1="357.5" x2="88.94" y2="353.9" stroke="#000" stroke-width="1.4"/>
<line x1="108.48" y1="357.5" x2="108.48" y2="350.5" stroke="#000" stroke-width="1.4"/>
<line x1="128.02" y1="357.5" x2="128.02" y2="353.9" stroke="#000" stroke-width="1.4"/>
<line x1="147.56" y1="357.5" x2="147.56" y2="350.5" stroke="#000" stroke-width="1.4"/>
<line x1="167.1" y1="357.5" x2="167.1" y2="353.9" stroke="#000" stroke-width="1.4"/>
<line x1="186.64" y1="357.5" x2="186.64" y2="350.5" stroke="#000" stroke-width="1.4"/>
<line x1="206.18" y1="357.5" x2="206.18" y2="353.9" stroke="#000" stroke-width="1.4"/>
<line x1="225.72" y1="357.5" x2="225.72" y2="350.5" stroke="#000" stroke-width="1.4"/>
<line x1="245.26" y1="357.5" x2="245.26" y2="353.9" stroke="#000" stroke-width="1.4"/>
<line x1="264.8" y1="357.5" x2="264.8" y2="350.5" stroke="#000" stroke-width="1.4"/>
<line x1="69.4" y1="357.5" x2="62.4" y2="357.5" stroke="#000" stroke-width="1.4"/>
<line x1="69.4" y1="342.58" x2="65.8" y2="342.58" stroke="#000" stroke-width="1.4"/>
<line x1="69.4" y1="327.67" x2="62.4" y2="327.67" stroke="#000" stroke-width="1.4"/>
<line x1="69.4" y1="312.75" x2="65.8" y2="312.75" stroke="#000" stroke-width="1.4"/>
<line x1="69.4" y1="297.84" x2="62.4" y2="297.84" stroke="#000" stroke-width="1.4"/>
<line x1="69.4" y1="282.93" x2="65.8" y2="282.93" stroke="#000" stroke-width="1.4"/>
<line x1="69.4" y1="268.01" x2="62.4" y2="268.01" stroke="#000" stroke-width="1.4"/>
<line x1="69.4" y1="253.09" x2="65.8" y2="253.09" stroke="#000" stroke-width="1.4"/>
<line x1="69.4" y1="238.18" x2="62.4" y2="238.18" stroke="#000" stroke-width="1.4"/>
<line x1="69.4" y1="223.26" x2="65.8" y2="223.26" stroke="#000" stroke-width="1.4"/>
<line x1="69.4" y1="208.35" x2="62.4" y2="208.35" stroke="#000" stroke-width="1.4"/>
<line x1="264.8" y1="357.5" x2="257.8" y2="357.5" stroke="#000" stroke-width="1.4"/>
<line x1="264.8" y1="342.58" x2="261.2" y2="342.58" stroke="#000" stroke-width="1.4"/>
<line x1="264.8" y1="327.67" x2="257.8" y2="327.67" stroke="#000" stroke-width="1.4"/>
<line x1="264.8" y1="312.75" x2="261.2" y2="312.75" stroke="#000" stroke-width="1.4"/>
<line x1="264.8" y1="297.84" x2="257.8" y2="297.84" stroke="#000" stroke-width="1.4"/>
<line x1="264.8" y1="282.93" x2="261.2" y2="282.93" stroke="#000" stroke-width="1.4"/>
<line x1="264.8" y1="268.01" x2="257.8" y2="268.01" stroke="#000" stroke-width="1.4"/>
<line x1="264.8" y1="253.09" x2="261.2" y2="253.09" stroke="#000" stroke-width="1.4"/>
<line x1="264.8" y1="238.18" x2="257.8" y2="238.18" stroke="#000" stroke-width="1.4"/>
<line x1="264.8" y1="223.26" x2="261.2" y2="223.26" stroke="#000" stroke-width="1.4"/>
<line x1="264.8" y1="208.35" x2="257.8" y2="208.35" stroke="#000" stroke-width="1.4"/>
<rect x="69.4" y="208.35" width="195.4" height="149.15" fill="none" stroke="#000" stroke-width="1.4"/>
<text x="56.9" y="365.8" font-size="14" text-anchor="end" fill="#000">0.0</text>
<text x="56.9" y="335.97" font-size="14" text-anchor="end" fill="#000">0.2</text>
<text x="56.9" y="306.14" font-size="14" text-anchor="end" fill="#000">0.4</text>
<text x="56.9" y="276.31" font-size="14" text-anchor="end" fill="#000">0.6</text>
<text x="56.9" y="246.48" font-size="14" text-anchor="end" fill="#000">0.8</text>
<text x="56.9" y="216.65" font-size="14" text-anchor="end" fill="#000">1.0</text>
<line x1="290" y1="208.35" x2="290" y2="215.35" stroke="#000" stroke-width="1.4"/>
<line x1="309.54" y1="208.35" x2="309.54" y2="211.95" stroke="#000" stroke-width="1.4"/>
<line x1="329.08" y1="208.35" x2="329.08" y2="215.35" stroke="#000" stroke-width="1.4"/>
<line x1="348.62" y1="208.35" x2="348.62" y2="211.95" stroke="#000" stroke-width="1.4"/>
<line x1="368.16" y1="208.35" x2="368.16" y2="215.35" stroke="#000" stroke-width="1.4"/>
<line x1="387.7" y1="208.35" x2="387.7" y2="211.95" stroke="#000" stroke-width="1.4"/>
<line x1="407.24" y1="208.35" x2="407.24" y2="215.35" stroke="#000" stroke-width="1.4"/>
<line x1="426.78" y1="208.35" x2="426.78" y2="211.95" stroke="#000" stroke-width="1.4"/>
<line x1="446.32" y1="208.35" x2="446.32" y2="215.35" stroke="#000" stroke-width="1.4"/>
<line x1="465.86" y1="208.35" x2="465.86" y2="211.95" stroke="#000" stroke-width="1.4"/>
<line x1="485.4" y1="208.35" x2="485.4" y2="215.35" stroke="#000" stroke-width="1.4"/>
<line x1="290" y1="357.5" x2="290" y2="350.5" stroke="#000" stroke-width="1.4"/>
<line x1="309.54" y1="357.5" x2="309.54" y2="353.9" stroke="#000" stroke-width="1.4"/>
<line x1="329.08" y1="357.5" x2="329.08" y2="350.5" stroke="#000" stroke-width="1.4"/>
<line x1="348.62" y1="357.5" x2="348.62" y2="353.9" stroke="#000" stroke-width="1.4"/>
<line x1="368.16" y1="357.5" x2="368.16" y2="350.5" stroke="#000" stroke-width="1.4"/>
<line x1="387.7" y1="357.5" x2="387.7" y2="353.9" stroke="#000" stroke-width="1.4"/>
<line x1="407.24" y1="357.5" x2="407.24" y2="350.5" stroke="#000" stroke-width="1.4"/>
<line x1="426.78" y1="357.5" x2="426.78" y2="353.9" stroke="#000" stroke-width="1.4"/>
<line x1="446.32" y1="357.5" x2="446.32" y2="350.5" stroke="#000" stroke-width="1.4"/>
<line x1="465.86" y1="357.5" x2="465.86" y2="353.9" stroke="#000" stroke-width="1.4"/>
<line x1="485.4" y1="357.5" x2="485.4" y2="350.5" stroke="#000" stroke-width="1.4"/>
<line x1="290" y1="357.5" x2="283" y2="357.5" stroke="#000" stroke-width="1.4"/>
<line x1="290" y1="342.58" x2="286.4" y2="342.58" stroke="#000" stroke-width="1.4"/>
<line x1="290" y1="327.67" x2="283" y2="327.67" stroke="#000" stroke-width="1.4"/>
<line x1="290" y1="312.75" x2="286.4" y2="312.75" stroke="#000" stroke-width="1.4"/>
<line x1="290" y1="297.84" x2="283" y2="297.84" stroke="#000" stroke-width="1.4"/>
<line x1="290" y1="282.93" x2="286.4" y2="282.93" stroke="#000" stroke-width="1.4"/>
<line x1="290" y1="268.01" x2="283" y2="268.01" stroke="#000" stroke-width="1.4"/>
<line x1="290" y1="253.09" x2="286.4" y2="253.09" stroke="#000" stroke-width="1.4"/>
<line x1="290" y1="238.18" x2="283" y2="238.18" stroke="#000" stroke-width="1.4"/>
<line x1="290" y1="223.26" x2="286.4" y2="223.26" stroke="#000" stroke-width="1.4"/>
<line x1="290" y1="208.35" x2="283" y2="208.35" stroke="#000" stroke-width="1.4"/>
<line x1="485.4" y1="357.5" x2="478.4" y2="357.5" stroke="#000" stroke-width="1.4"/>
<line x1="485.4" y1="342.58" x2="481.8" y2="342.58" stroke="#000" stroke-width="1.4"/>
<line x1="485.4" y1="327.67" x2="478.4" y2="327.67" stroke="#000" stroke-width="1.4"/>
<line x1="485.4" y1="312.75" x2="481.8" y2="312.75" stroke="#000" stroke-width="1.4"/>
<line x1="485.4" y1="297.84" x2="478.4" y2="297.84" stroke="#000" stroke-width="1.4"/>
<line x1="485.4" y1="282.93" x2="481.8" y2="282.93" stroke="#000" stroke-width="1.4"/>
<line x1="485.4" y1="268.01" x2="478.4" y2="268.01" stroke="#000" stroke-width="1.4"/>
<line x1="485.4" y1="253.09" x2="481.8" y2="253.09" stroke="#000" stroke-width="1.4"/>
<line x1="485.4" y1="238.18" x2="478.4" y2="238.18" stroke="#000" stroke-width="1.4"/>
<line x1="485.4" y1="223.26" x2="481.8" y2="223.26" stroke="#000" stroke-width="1.4"/>
<line x1="485.4" y1="208.35" x2="478.4" y2="208.35" stroke="#000" stroke-width="1.4"/>
<rect x="290" y="208.35" width="195.4" height="149.15" fill="none" stroke="#000" stroke-width="1.4"/>
<line x1="510.3" y1="208.35" x2="510.3" y2="215.35" stroke="#000" stroke-width="1.4"/>
<line x1="529.84" y1="208.35" x2="529.84" y2="211.95" stroke="#000" stroke-width="1.4"/>
<line x1="549.38" y1="208.35" x2="549.38" y2="215.35" stroke="#000" stroke-width="1.4"/>
<line x1="568.92" y1="208.35" x2="568.92" y2="211.95" stroke="#000" stroke-width="1.4"/>
<line x1="588.46" y1="208.35" x2="588.46" y2="215.35" stroke="#000" stroke-width="1.4"/>
<line x1="608" y1="208.35" x2="608" y2="211.95" stroke="#000" stroke-width="1.4"/>
<line x1="627.54" y1="208.35" x2="627.54" y2="215.35" stroke="#000" stroke-width="1.4"/>
<line x1="647.08" y1="208.35" x2="647.08" y2="211.95" stroke="#000" stroke-width="1.4"/>
<line x1="666.62" y1="208.35" x2="666.62" y2="215.35" stroke="#000" stroke-width="1.4"/>
<line x1="686.16" y1="208.35" x2="686.16" y2="211.95" stroke="#000" stroke-width="1.4"/>
<line x1="705.7" y1="208.35" x2="705.7" y2="215.35" stroke="#000" stroke-width="1.4"/>
<line x1="510.3" y1="357.5" x2="510.3" y2="350.5" stroke="#000" stroke-width="1.4"/>
<line x1="529.84" y1="357.5" x2="529.84" y2="353.9" stroke="#000" stroke-width="1.4"/>
<line x1="549.38" y1="357.5" x2="549.38" y2="350.5" stroke="#000" stroke-width="1.4"/>
<line x1="568.92" y1="357.5" x2="568.92" y2="353.9" stroke="#000" stroke-width="1.4"/>
<line x1="588.46" y1="357.5" x2="588.46" y2="350.5" stroke="#000" stroke-width="1.4"/>
<line x1="608" y1="357.5" x2="608" y2="353.9" stroke="#000" stroke-width="1.4"/>
<line x1="627.54" y1="357.5" x2="627.54" y2="350.5" stroke="#000" stroke-width="1.4"/>
<line x1="647.08" y1="357.5" x2="647.08" y2="353.9" stroke="#000" stroke-width="1.4"/>
<line x1="666.62" y1="357.5" x2="666.62" y2="350.5" stroke="#000" stroke-width="1.4"/>
<line x1="686.16" y1="357.5" x2="686.16" y2="353.9" stroke="#000" stroke-width="1.4"/>
<line x1="705.7" y1="357.5" x2="705.7" y2="350.5" stroke="#000" stroke-width="1.4"/>
<line x1="510.3" y1="357.5" x2="503.3" y2="357.5" stroke="#000" stroke-width="1.4"/>
<line x1="510.3" y1="342.58" x2="506.7" y2="342.58" stroke="#000" stroke-width="1.4"/>
<line x1="510.3" y1="327.67" x2="503.3" y2="327.67" stroke="#000" stroke-width="1.4"/>
<line x1="510.3" y1="312.75" x2="506.7" y2="312.75" stroke="#000" stroke-width="1.4"/>
<line x1="510.3" y1="297.84" x2="503.3" y2="297.84" stroke="#000" stroke-width="1.4"/>
<line x1="510.3" y1="282.93" x2="506.7" y2="282.93" stroke="#000" stroke-width="1.4"/>
<line x1="510.3" y1="268.01" x2="503.3" y2="268.01" stroke="#000" stroke-width="1.4"/>
<line x1="510.3" y1="253.09" x2="506.7" y2="253.09" stroke="#000" stroke-width="1.4"/>
<line x1="510.3" y1="238.18" x2="503.3" y2="238.18" stroke="#000" stroke-width="1.4"/>
<line x1="510.3" y1="223.26" x2="506.7" y2="223.26" stroke="#000" stroke-width="1.4"/>
<line x1="510.3" y1="208.35" x2="503.3" y2="208.35" stroke="#000" stroke-width="1.4"/>
<line x1="705.7" y1="357.5" x2="698.7" y2="357.5" stroke="#000" stroke-width="1.4"/>
<line x1="705.7" y1="342.58" x2="702.1" y2="342.58" stroke="#000" stroke-width="1.4"/>
<line x1="705.7" y1="327.67" x2="698.7" y2="327.67" stroke="#000" stroke-width="1.4"/>
<line x1="705.7" y1="312.75" x2="702.1" y2="312.75" stroke="#000" stroke-width="1.4"/>
<line x1="705.7" y1="297.84" x2="698.7" y2="297.84" stroke="#000" stroke-width="1.4"/>
<line x1="705.7" y1="282.93" x2="702.1" y2="282.93" stroke="#000" stroke-width="1.4"/>
<line x1="705.7" y1="268.01" x2="698.7" y2="268.01" stroke="#000" stroke-width="1.4"/>
<line x1="705.7" y1="253.09" x2="702.1" y2="253.09" stroke="#000" stroke-width="1.4"/>
<line x1="705.7" y1="238.18" x2="698.7" y2="238.18" stroke="#000" stroke-width="1.4"/>
<line x1="705.7" y1="223.26" x2="702.1" y2="223.26" stroke="#000" stroke-width="1.4"/>
<line x1="705.7" y1="208.35" x2="698.7" y2="208.35" stroke="#000" stroke-width="1.4"/>
<rect x="510.3" y="208.35" width="195.4" height="149.15" fill="none" stroke="#000" stroke-width="1.4"/>
<text x="73.5" y="347.8" font-size="18" text-anchor="start" fill="#fff">(d)</text>
<text x="295.5" y="347.8" font-size="18" text-anchor="start" fill="#fff">(e)</text>
<text x="516" y="347.8" font-size="18" text-anchor="start" fill="#fff">(f)</text>
<text x="64.4" y="375.9" font-size="15" text-anchor="middle" fill="#000">0.0</text>
<text x="103.48" y="375.9" font-size="15" text-anchor="middle" fill="#000">0.2</text>
<text x="142.56" y="375.9" font-size="15" text-anchor="middle" fill="#000">0.4</text>
<text x="181.64" y="375.9" font-size="15" text-anchor="middle" fill="#000">0.6</text>
<text x="220.72" y="375.9" font-size="15" text-anchor="middle" fill="#000">0.8</text>
<text x="259.8" y="375.9" font-size="15" text-anchor="middle" fill="#000">1.0</text>
<text x="167" y="393" font-size="17" text-anchor="middle"><tspan font-style="italic">t</tspan>/<tspan font-style="italic">T</tspan><tspan font-size="12.3" dy="5.6">RF</tspan></text>
<text x="288.3" y="375.9" font-size="15" text-anchor="middle" fill="#000">0.0</text>
<text x="327.38" y="375.9" font-size="15" text-anchor="middle" fill="#000">0.2</text>
<text x="366.46" y="375.9" font-size="15" text-anchor="middle" fill="#000">0.4</text>
<text x="405.54" y="375.9" font-size="15" text-anchor="middle" fill="#000">0.6</text>
<text x="444.62" y="375.9" font-size="15" text-anchor="middle" fill="#000">0.8</text>
<text x="483.7" y="375.9" font-size="15" text-anchor="middle" fill="#000">1.0</text>
<text x="389" y="393" font-size="17" text-anchor="middle"><tspan font-style="italic">t</tspan>/<tspan font-style="italic">T</tspan><tspan font-size="12.3" dy="5.6">RF</tspan></text>
<text x="513.6" y="375.9" font-size="15" text-anchor="middle" fill="#000">0.0</text>
<text x="552.68" y="375.9" font-size="15" text-anchor="middle" fill="#000">0.2</text>
<text x="591.76" y="375.9" font-size="15" text-anchor="middle" fill="#000">0.4</text>
<text x="630.84" y="375.9" font-size="15" text-anchor="middle" fill="#000">0.6</text>
<text x="669.92" y="375.9" font-size="15" text-anchor="middle" fill="#000">0.8</text>
<text x="709" y="375.9" font-size="15" text-anchor="middle" fill="#000">1.0</text>
<text x="607.5" y="393" font-size="17" text-anchor="middle"><tspan font-style="italic">t</tspan>/<tspan font-style="italic">T</tspan><tspan font-size="12.3" dy="5.6">RF</tspan></text>
<line x1="69.4" y1="401.9" x2="69.4" y2="408.9" stroke="#000" stroke-width="1.4"/>
<line x1="88.94" y1="401.9" x2="88.94" y2="405.5" stroke="#000" stroke-width="1.4"/>
<line x1="108.48" y1="401.9" x2="108.48" y2="408.9" stroke="#000" stroke-width="1.4"/>
<line x1="128.02" y1="401.9" x2="128.02" y2="405.5" stroke="#000" stroke-width="1.4"/>
<line x1="147.56" y1="401.9" x2="147.56" y2="408.9" stroke="#000" stroke-width="1.4"/>
<line x1="167.1" y1="401.9" x2="167.1" y2="405.5" stroke="#000" stroke-width="1.4"/>
<line x1="186.64" y1="401.9" x2="186.64" y2="408.9" stroke="#000" stroke-width="1.4"/>
<line x1="206.18" y1="401.9" x2="206.18" y2="405.5" stroke="#000" stroke-width="1.4"/>
<line x1="225.72" y1="401.9" x2="225.72" y2="408.9" stroke="#000" stroke-width="1.4"/>
<line x1="245.26" y1="401.9" x2="245.26" y2="405.5" stroke="#000" stroke-width="1.4"/>
<line x1="264.8" y1="401.9" x2="264.8" y2="408.9" stroke="#000" stroke-width="1.4"/>
<line x1="69.4" y1="550.95" x2="69.4" y2="557.95" stroke="#000" stroke-width="1.4"/>
<line x1="88.94" y1="550.95" x2="88.94" y2="554.55" stroke="#000" stroke-width="1.4"/>
<line x1="108.48" y1="550.95" x2="108.48" y2="557.95" stroke="#000" stroke-width="1.4"/>
<line x1="128.02" y1="550.95" x2="128.02" y2="554.55" stroke="#000" stroke-width="1.4"/>
<line x1="147.56" y1="550.95" x2="147.56" y2="557.95" stroke="#000" stroke-width="1.4"/>
<line x1="167.1" y1="550.95" x2="167.1" y2="554.55" stroke="#000" stroke-width="1.4"/>
<line x1="186.64" y1="550.95" x2="186.64" y2="557.95" stroke="#000" stroke-width="1.4"/>
<line x1="206.18" y1="550.95" x2="206.18" y2="554.55" stroke="#000" stroke-width="1.4"/>
<line x1="225.72" y1="550.95" x2="225.72" y2="557.95" stroke="#000" stroke-width="1.4"/>
<line x1="245.26" y1="550.95" x2="245.26" y2="554.55" stroke="#000" stroke-width="1.4"/>
<line x1="264.8" y1="550.95" x2="264.8" y2="557.95" stroke="#000" stroke-width="1.4"/>
<line x1="69.4" y1="550.95" x2="62.4" y2="550.95" stroke="#000" stroke-width="1.4"/>
<line x1="264.8" y1="550.95" x2="257.8" y2="550.95" stroke="#000" stroke-width="1.4"/>
<line x1="69.4" y1="542.49" x2="65.8" y2="542.49" stroke="#000" stroke-width="1.4"/>
<line x1="264.8" y1="542.49" x2="261.2" y2="542.49" stroke="#000" stroke-width="1.4"/>
<line x1="69.4" y1="537.53" x2="65.8" y2="537.53" stroke="#000" stroke-width="1.4"/>
<line x1="264.8" y1="537.53" x2="261.2" y2="537.53" stroke="#000" stroke-width="1.4"/>
<line x1="69.4" y1="534.02" x2="65.8" y2="534.02" stroke="#000" stroke-width="1.4"/>
<line x1="264.8" y1="534.02" x2="261.2" y2="534.02" stroke="#000" stroke-width="1.4"/>
<line x1="69.4" y1="531.3" x2="65.8" y2="531.3" stroke="#000" stroke-width="1.4"/>
<line x1="264.8" y1="531.3" x2="261.2" y2="531.3" stroke="#000" stroke-width="1.4"/>
<line x1="69.4" y1="529.07" x2="65.8" y2="529.07" stroke="#000" stroke-width="1.4"/>
<line x1="264.8" y1="529.07" x2="261.2" y2="529.07" stroke="#000" stroke-width="1.4"/>
<line x1="69.4" y1="527.19" x2="65.8" y2="527.19" stroke="#000" stroke-width="1.4"/>
<line x1="264.8" y1="527.19" x2="261.2" y2="527.19" stroke="#000" stroke-width="1.4"/>
<line x1="69.4" y1="525.56" x2="65.8" y2="525.56" stroke="#000" stroke-width="1.4"/>
<line x1="264.8" y1="525.56" x2="261.2" y2="525.56" stroke="#000" stroke-width="1.4"/>
<line x1="69.4" y1="524.12" x2="65.8" y2="524.12" stroke="#000" stroke-width="1.4"/>
<line x1="264.8" y1="524.12" x2="261.2" y2="524.12" stroke="#000" stroke-width="1.4"/>
<line x1="69.4" y1="522.83" x2="62.4" y2="522.83" stroke="#000" stroke-width="1.4"/>
<line x1="264.8" y1="522.83" x2="257.8" y2="522.83" stroke="#000" stroke-width="1.4"/>
<line x1="69.4" y1="514.37" x2="65.8" y2="514.37" stroke="#000" stroke-width="1.4"/>
<line x1="264.8" y1="514.37" x2="261.2" y2="514.37" stroke="#000" stroke-width="1.4"/>
<line x1="69.4" y1="509.42" x2="65.8" y2="509.42" stroke="#000" stroke-width="1.4"/>
<line x1="264.8" y1="509.42" x2="261.2" y2="509.42" stroke="#000" stroke-width="1.4"/>
<line x1="69.4" y1="505.9" x2="65.8" y2="505.9" stroke="#000" stroke-width="1.4"/>
<line x1="264.8" y1="505.9" x2="261.2" y2="505.9" stroke="#000" stroke-width="1.4"/>
<line x1="69.4" y1="503.18" x2="65.8" y2="503.18" stroke="#000" stroke-width="1.4"/>
<line x1="264.8" y1="503.18" x2="261.2" y2="503.18" stroke="#000" stroke-width="1.4"/>
<line x1="69.4" y1="500.95" x2="65.8" y2="500.95" stroke="#000" stroke-width="1.4"/>
<line x1="264.8" y1="500.95" x2="261.2" y2="500.95" stroke="#000" stroke-width="1.4"/>
<line x1="69.4" y1="499.07" x2="65.8" y2="499.07" stroke="#000" stroke-width="1.4"/>
<line x1="264.8" y1="499.07" x2="261.2" y2="499.07" stroke="#000" stroke-width="1.4"/>
<line x1="69.4" y1="497.44" x2="65.8" y2="497.44" stroke="#000" stroke-width="1.4"/>
<line x1="264.8" y1="497.44" x2="261.2" y2="497.44" stroke="#000" stroke-width="1.4"/>
<line x1="69.4" y1="496" x2="65.8" y2="496" stroke="#000" stroke-width="1.4"/>
<line x1="264.8" y1="496" x2="261.2" y2="496" stroke="#000" stroke-width="1.4"/>
<line x1="69.4" y1="494.72" x2="62.4" y2="494.72" stroke="#000" stroke-width="1.4"/>
<line x1="264.8" y1="494.72" x2="257.8" y2="494.72" stroke="#000" stroke-width="1.4"/>
<line x1="69.4" y1="486.25" x2="65.8" y2="486.25" stroke="#000" stroke-width="1.4"/>
<line x1="264.8" y1="486.25" x2="261.2" y2="486.25" stroke="#000" stroke-width="1.4"/>
<line x1="69.4" y1="481.3" x2="65.8" y2="481.3" stroke="#000" stroke-width="1.4"/>
<line x1="264.8" y1="481.3" x2="261.2" y2="481.3" stroke="#000" stroke-width="1.4"/>
<line x1="69.4" y1="477.79" x2="65.8" y2="477.79" stroke="#000" stroke-width="1.4"/>
<line x1="264.8" y1="477.79" x2="261.2" y2="477.79" stroke="#000" stroke-width="1.4"/>
<line x1="69.4" y1="475.06" x2="65.8" y2="475.06" stroke="#000" stroke-width="1.4"/>
<line x1="264.8" y1="475.06" x2="261.2" y2="475.06" stroke="#000" stroke-width="1.4"/>
<line x1="69.4" y1="472.84" x2="65.8" y2="472.84" stroke="#000" stroke-width="1.4"/>
<line x1="264.8" y1="472.84" x2="261.2" y2="472.84" stroke="#000" stroke-width="1.4"/>
<line x1="69.4" y1="470.95" x2="65.8" y2="470.95" stroke="#000" stroke-width="1.4"/>
<line x1="264.8" y1="470.95" x2="261.2" y2="470.95" stroke="#000" stroke-width="1.4"/>
<line x1="69.4" y1="469.32" x2="65.8" y2="469.32" stroke="#000" stroke-width="1.4"/>
<line x1="264.8" y1="469.32" x2="261.2" y2="469.32" stroke="#000" stroke-width="1.4"/>
<line x1="69.4" y1="467.89" x2="65.8" y2="467.89" stroke="#000" stroke-width="1.4"/>
<line x1="264.8" y1="467.89" x2="261.2" y2="467.89" stroke="#000" stroke-width="1.4"/>
<line x1="69.4" y1="466.6" x2="62.4" y2="466.6" stroke="#000" stroke-width="1.4"/>
<line x1="264.8" y1="466.6" x2="257.8" y2="466.6" stroke="#000" stroke-width="1.4"/>
<line x1="69.4" y1="458.13" x2="65.8" y2="458.13" stroke="#000" stroke-width="1.4"/>
<line x1="264.8" y1="458.13" x2="261.2" y2="458.13" stroke="#000" stroke-width="1.4"/>
<line x1="69.4" y1="453.18" x2="65.8" y2="453.18" stroke="#000" stroke-width="1.4"/>
<line x1="264.8" y1="453.18" x2="261.2" y2="453.18" stroke="#000" stroke-width="1.4"/>
<line x1="69.4" y1="449.67" x2="65.8" y2="449.67" stroke="#000" stroke-width="1.4"/>
<line x1="264.8" y1="449.67" x2="261.2" y2="449.67" stroke="#000" stroke-width="1.4"/>
<line x1="69.4" y1="446.95" x2="65.8" y2="446.95" stroke="#000" stroke-width="1.4"/>
<line x1="264.8" y1="446.95" x2="261.2" y2="446.95" stroke="#000" stroke-width="1.4"/>
<line x1="69.4" y1="444.72" x2="65.8" y2="444.72" stroke="#000" stroke-width="1.4"/>
<line x1="264.8" y1="444.72" x2="261.2" y2="444.72" stroke="#000" stroke-width="1.4"/>
<line x1="69.4" y1="442.84" x2="65.8" y2="442.84" stroke="#000" stroke-width="1.4"/>
<line x1="264.8" y1="442.84" x2="261.2" y2="442.84" stroke="#000" stroke-width="1.4"/>
<line x1="69.4" y1="441.21" x2="65.8" y2="441.21" stroke="#000" stroke-width="1.4"/>
<line x1="264.8" y1="441.21" x2="261.2" y2="441.21" stroke="#000" stroke-width="1.4"/>
<line x1="69.4" y1="439.77" x2="65.8" y2="439.77" stroke="#000" stroke-width="1.4"/>
<line x1="264.8" y1="439.77" x2="261.2" y2="439.77" stroke="#000" stroke-width="1.4"/>
<line x1="69.4" y1="438.48" x2="62.4" y2="438.48" stroke="#000" stroke-width="1.4"/>
<line x1="264.8" y1="438.48" x2="257.8" y2="438.48" stroke="#000" stroke-width="1.4"/>
<line x1="69.4" y1="430.02" x2="65.8" y2="430.02" stroke="#000" stroke-width="1.4"/>
<line x1="264.8" y1="430.02" x2="261.2" y2="430.02" stroke="#000" stroke-width="1.4"/>
<line x1="69.4" y1="425.07" x2="65.8" y2="425.07" stroke="#000" stroke-width="1.4"/>
<line x1="264.8" y1="425.07" x2="261.2" y2="425.07" stroke="#000" stroke-width="1.4"/>
<line x1="69.4" y1="421.55" x2="65.8" y2="421.55" stroke="#000" stroke-width="1.4"/>
<line x1="264.8" y1="421.55" x2="261.2" y2="421.55" stroke="#000" stroke-width="1.4"/>
<line x1="69.4" y1="418.83" x2="65.8" y2="418.83" stroke="#000" stroke-width="1.4"/>
<line x1="264.8" y1="418.83" x2="261.2" y2="418.83" stroke="#000" stroke-width="1.4"/>
<line x1="69.4" y1="416.6" x2="65.8" y2="416.6" stroke="#000" stroke-width="1.4"/>
<line x1="264.8" y1="416.6" x2="261.2" y2="416.6" stroke="#000" stroke-width="1.4"/>
<line x1="69.4" y1="414.72" x2="65.8" y2="414.72" stroke="#000" stroke-width="1.4"/>
<line x1="264.8" y1="414.72" x2="261.2" y2="414.72" stroke="#000" stroke-width="1.4"/>
<line x1="69.4" y1="413.09" x2="65.8" y2="413.09" stroke="#000" stroke-width="1.4"/>
<line x1="264.8" y1="413.09" x2="261.2" y2="413.09" stroke="#000" stroke-width="1.4"/>
<line x1="69.4" y1="411.65" x2="65.8" y2="411.65" stroke="#000" stroke-width="1.4"/>
<line x1="264.8" y1="411.65" x2="261.2" y2="411.65" stroke="#000" stroke-width="1.4"/>
<line x1="69.4" y1="410.36" x2="62.4" y2="410.36" stroke="#000" stroke-width="1.4"/>
<line x1="264.8" y1="410.36" x2="257.8" y2="410.36" stroke="#000" stroke-width="1.4"/>
<line x1="69.4" y1="401.9" x2="65.8" y2="401.9" stroke="#000" stroke-width="1.4"/>
<line x1="264.8" y1="401.9" x2="261.2" y2="401.9" stroke="#000" stroke-width="1.4"/>
<rect x="69.4" y="401.9" width="195.4" height="149.05" fill="none" stroke="#000" stroke-width="1.4"/>
<text x="69.4" y="572.8" font-size="15.6" text-anchor="middle" fill="#000">0</text>
<text x="108.48" y="572.8" font-size="15.6" text-anchor="middle" fill="#000">5</text>
<text x="147.56" y="572.8" font-size="15.6" text-anchor="middle" fill="#000">10</text>
<text x="186.64" y="572.8" font-size="15.6" text-anchor="middle" fill="#000">15</text>
<text x="225.72" y="572.8" font-size="15.6" text-anchor="middle" fill="#000">20</text>
<text x="264.8" y="572.8" font-size="15.6" text-anchor="middle" fill="#000">25</text>
<line x1="290" y1="401.9" x2="290" y2="408.9" stroke="#000" stroke-width="1.4"/>
<line x1="309.54" y1="401.9" x2="309.54" y2="405.5" stroke="#000" stroke-width="1.4"/>
<line x1="329.08" y1="401.9" x2="329.08" y2="408.9" stroke="#000" stroke-width="1.4"/>
<line x1="348.62" y1="401.9" x2="348.62" y2="405.5" stroke="#000" stroke-width="1.4"/>
<line x1="368.16" y1="401.9" x2="368.16" y2="408.9" stroke="#000" stroke-width="1.4"/>
<line x1="387.7" y1="401.9" x2="387.7" y2="405.5" stroke="#000" stroke-width="1.4"/>
<line x1="407.24" y1="401.9" x2="407.24" y2="408.9" stroke="#000" stroke-width="1.4"/>
<line x1="426.78" y1="401.9" x2="426.78" y2="405.5" stroke="#000" stroke-width="1.4"/>
<line x1="446.32" y1="401.9" x2="446.32" y2="408.9" stroke="#000" stroke-width="1.4"/>
<line x1="465.86" y1="401.9" x2="465.86" y2="405.5" stroke="#000" stroke-width="1.4"/>
<line x1="485.4" y1="401.9" x2="485.4" y2="408.9" stroke="#000" stroke-width="1.4"/>
<line x1="290" y1="550.95" x2="290" y2="557.95" stroke="#000" stroke-width="1.4"/>
<line x1="309.54" y1="550.95" x2="309.54" y2="554.55" stroke="#000" stroke-width="1.4"/>
<line x1="329.08" y1="550.95" x2="329.08" y2="557.95" stroke="#000" stroke-width="1.4"/>
<line x1="348.62" y1="550.95" x2="348.62" y2="554.55" stroke="#000" stroke-width="1.4"/>
<line x1="368.16" y1="550.95" x2="368.16" y2="557.95" stroke="#000" stroke-width="1.4"/>
<line x1="387.7" y1="550.95" x2="387.7" y2="554.55" stroke="#000" stroke-width="1.4"/>
<line x1="407.24" y1="550.95" x2="407.24" y2="557.95" stroke="#000" stroke-width="1.4"/>
<line x1="426.78" y1="550.95" x2="426.78" y2="554.55" stroke="#000" stroke-width="1.4"/>
<line x1="446.32" y1="550.95" x2="446.32" y2="557.95" stroke="#000" stroke-width="1.4"/>
<line x1="465.86" y1="550.95" x2="465.86" y2="554.55" stroke="#000" stroke-width="1.4"/>
<line x1="485.4" y1="550.95" x2="485.4" y2="557.95" stroke="#000" stroke-width="1.4"/>
<line x1="290" y1="550.95" x2="283" y2="550.95" stroke="#000" stroke-width="1.4"/>
<line x1="485.4" y1="550.95" x2="478.4" y2="550.95" stroke="#000" stroke-width="1.4"/>
<line x1="290" y1="542.49" x2="286.4" y2="542.49" stroke="#000" stroke-width="1.4"/>
<line x1="485.4" y1="542.49" x2="481.8" y2="542.49" stroke="#000" stroke-width="1.4"/>
<line x1="290" y1="537.53" x2="286.4" y2="537.53" stroke="#000" stroke-width="1.4"/>
<line x1="485.4" y1="537.53" x2="481.8" y2="537.53" stroke="#000" stroke-width="1.4"/>
<line x1="290" y1="534.02" x2="286.4" y2="534.02" stroke="#000" stroke-width="1.4"/>
<line x1="485.4" y1="534.02" x2="481.8" y2="534.02" stroke="#000" stroke-width="1.4"/>
<line x1="290" y1="531.3" x2="286.4" y2="531.3" stroke="#000" stroke-width="1.4"/>
<line x1="485.4" y1="531.3" x2="481.8" y2="531.3" stroke="#000" stroke-width="1.4"/>
<line x1="290" y1="529.07" x2="286.4" y2="529.07" stroke="#000" stroke-width="1.4"/>
<line x1="485.4" y1="529.07" x2="481.8" y2="529.07" stroke="#000" stroke-width="1.4"/>
<line x1="290" y1="527.19" x2="286.4" y2="527.19" stroke="#000" stroke-width="1.4"/>
<line x1="485.4" y1="527.19" x2="481.8" y2="527.19" stroke="#000" stroke-width="1.4"/>
<line x1="290" y1="525.56" x2="286.4" y2="525.56" stroke="#000" stroke-width="1.4"/>
<line x1="485.4" y1="525.56" x2="481.8" y2="525.56" stroke="#000" stroke-width="1.4"/>
<line x1="290" y1="524.12" x2="286.4" y2="524.12" stroke="#000" stroke-width="1.4"/>
<line x1="485.4" y1="524.12" x2="481.8" y2="524.12" stroke="#000" stroke-width="1.4"/>
<line x1="290" y1="522.83" x2="283" y2="522.83" stroke="#000" stroke-width="1.4"/>
<line x1="485.4" y1="522.83" x2="478.4" y2="522.83" stroke="#000" stroke-width="1.4"/>
<line x1="290" y1="514.37" x2="286.4" y2="514.37" stroke="#000" stroke-width="1.4"/>
<line x1="485.4" y1="514.37" x2="481.8" y2="514.37" stroke="#000" stroke-width="1.4"/>
<line x1="290" y1="509.42" x2="286.4" y2="509.42" stroke="#000" stroke-width="1.4"/>
<line x1="485.4" y1="509.42" x2="481.8" y2="509.42" stroke="#000" stroke-width="1.4"/>
<line x1="290" y1="505.9" x2="286.4" y2="505.9" stroke="#000" stroke-width="1.4"/>
<line x1="485.4" y1="505.9" x2="481.8" y2="505.9" stroke="#000" stroke-width="1.4"/>
<line x1="290" y1="503.18" x2="286.4" y2="503.18" stroke="#000" stroke-width="1.4"/>
<line x1="485.4" y1="503.18" x2="481.8" y2="503.18" stroke="#000" stroke-width="1.4"/>
<line x1="290" y1="500.95" x2="286.4" y2="500.95" stroke="#000" stroke-width="1.4"/>
<line x1="485.4" y1="500.95" x2="481.8" y2="500.95" stroke="#000" stroke-width="1.4"/>
<line x1="290" y1="499.07" x2="286.4" y2="499.07" stroke="#000" stroke-width="1.4"/>
<line x1="485.4" y1="499.07" x2="481.8" y2="499.07" stroke="#000" stroke-width="1.4"/>
<line x1="290" y1="497.44" x2="286.4" y2="497.44" stroke="#000" stroke-width="1.4"/>
<line x1="485.4" y1="497.44" x2="481.8" y2="497.44" stroke="#000" stroke-width="1.4"/>
<line x1="290" y1="496" x2="286.4" y2="496" stroke="#000" stroke-width="1.4"/>
<line x1="485.4" y1="496" x2="481.8" y2="496" stroke="#000" stroke-width="1.4"/>
<line x1="290" y1="494.72" x2="283" y2="494.72" stroke="#000" stroke-width="1.4"/>
<line x1="485.4" y1="494.72" x2="478.4" y2="494.72" stroke="#000" stroke-width="1.4"/>
<line x1="290" y1="486.25" x2="286.4" y2="486.25" stroke="#000" stroke-width="1.4"/>
<line x1="485.4" y1="486.25" x2="481.8" y2="486.25" stroke="#000" stroke-width="1.4"/>
<line x1="290" y1="481.3" x2="286.4" y2="481.3" stroke="#000" stroke-width="1.4"/>
<line x1="485.4" y1="481.3" x2="481.8" y2="481.3" stroke="#000" stroke-width="1.4"/>
<line x1="290" y1="477.79" x2="286.4" y2="477.79" stroke="#000" stroke-width="1.4"/>
<line x1="485.4" y1="477.79" x2="481.8" y2="477.79" stroke="#000" stroke-width="1.4"/>
<line x1="290" y1="475.06" x2="286.4" y2="475.06" stroke="#000" stroke-width="1.4"/>
<line x1="485.4" y1="475.06" x2="481.8" y2="475.06" stroke="#000" stroke-width="1.4"/>
<line x1="290" y1="472.84" x2="286.4" y2="472.84" stroke="#000" stroke-width="1.4"/>
<line x1="485.4" y1="472.84" x2="481.8" y2="472.84" stroke="#000" stroke-width="1.4"/>
<line x1="290" y1="470.95" x2="286.4" y2="470.95" stroke="#000" stroke-width="1.4"/>
<line x1="485.4" y1="470.95" x2="481.8" y2="470.95" stroke="#000" stroke-width="1.4"/>
<line x1="290" y1="469.32" x2="286.4" y2="469.32" stroke="#000" stroke-width="1.4"/>
<line x1="485.4" y1="469.32" x2="481.8" y2="469.32" stroke="#000" stroke-width="1.4"/>
<line x1="290" y1="467.89" x2="286.4" y2="467.89" stroke="#000" stroke-width="1.4"/>
<line x1="485.4" y1="467.89" x2="481.8" y2="467.89" stroke="#000" stroke-width="1.4"/>
<line x1="290" y1="466.6" x2="283" y2="466.6" stroke="#000" stroke-width="1.4"/>
<line x1="485.4" y1="466.6" x2="478.4" y2="466.6" stroke="#000" stroke-width="1.4"/>
<line x1="290" y1="458.13" x2="286.4" y2="458.13" stroke="#000" stroke-width="1.4"/>
<line x1="485.4" y1="458.13" x2="481.8" y2="458.13" stroke="#000" stroke-width="1.4"/>
<line x1="290" y1="453.18" x2="286.4" y2="453.18" stroke="#000" stroke-width="1.4"/>
<line x1="485.4" y1="453.18" x2="481.8" y2="453.18" stroke="#000" stroke-width="1.4"/>
<line x1="290" y1="449.67" x2="286.4" y2="449.67" stroke="#000" stroke-width="1.4"/>
<line x1="485.4" y1="449.67" x2="481.8" y2="449.67" stroke="#000" stroke-width="1.4"/>
<line x1="290" y1="446.95" x2="286.4" y2="446.95" stroke="#000" stroke-width="1.4"/>
<line x1="485.4" y1="446.95" x2="481.8" y2="446.95" stroke="#000" stroke-width="1.4"/>
<line x1="290" y1="444.72" x2="286.4" y2="444.72" stroke="#000" stroke-width="1.4"/>
<line x1="485.4" y1="444.72" x2="481.8" y2="444.72" stroke="#000" stroke-width="1.4"/>
<line x1="290" y1="442.84" x2="286.4" y2="442.84" stroke="#000" stroke-width="1.4"/>
<line x1="485.4" y1="442.84" x2="481.8" y2="442.84" stroke="#000" stroke-width="1.4"/>
<line x1="290" y1="441.21" x2="286.4" y2="441.21" stroke="#000" stroke-width="1.4"/>
<line x1="485.4" y1="441.21" x2="481.8" y2="441.21" stroke="#000" stroke-width="1.4"/>
<line x1="290" y1="439.77" x2="286.4" y2="439.77" stroke="#000" stroke-width="1.4"/>
<line x1="485.4" y1="439.77" x2="481.8" y2="439.77" stroke="#000" stroke-width="1.4"/>
<line x1="290" y1="438.48" x2="283" y2="438.48" stroke="#000" stroke-width="1.4"/>
<line x1="485.4" y1="438.48" x2="478.4" y2="438.48" stroke="#000" stroke-width="1.4"/>
<line x1="290" y1="430.02" x2="286.4" y2="430.02" stroke="#000" stroke-width="1.4"/>
<line x1="485.4" y1="430.02" x2="481.8" y2="430.02" stroke="#000" stroke-width="1.4"/>
<line x1="290" y1="425.07" x2="286.4" y2="425.07" stroke="#000" stroke-width="1.4"/>
<line x1="485.4" y1="425.07" x2="481.8" y2="425.07" stroke="#000" stroke-width="1.4"/>
<line x1="290" y1="421.55" x2="286.4" y2="421.55" stroke="#000" stroke-width="1.4"/>
<line x1="485.4" y1="421.55" x2="481.8" y2="421.55" stroke="#000" stroke-width="1.4"/>
<line x1="290" y1="418.83" x2="286.4" y2="418.83" stroke="#000" stroke-width="1.4"/>
<line x1="485.4" y1="418.83" x2="481.8" y2="418.83" stroke="#000" stroke-width="1.4"/>
<line x1="290" y1="416.6" x2="286.4" y2="416.6" stroke="#000" stroke-width="1.4"/>
<line x1="485.4" y1="416.6" x2="481.8" y2="416.6" stroke="#000" stroke-width="1.4"/>
<line x1="290" y1="414.72" x2="286.4" y2="414.72" stroke="#000" stroke-width="1.4"/>
<line x1="485.4" y1="414.72" x2="481.8" y2="414.72" stroke="#000" stroke-width="1.4"/>
<line x1="290" y1="413.09" x2="286.4" y2="413.09" stroke="#000" stroke-width="1.4"/>
<line x1="485.4" y1="413.09" x2="481.8" y2="413.09" stroke="#000" stroke-width="1.4"/>
<line x1="290" y1="411.65" x2="286.4" y2="411.65" stroke="#000" stroke-width="1.4"/>
<line x1="485.4" y1="411.65" x2="481.8" y2="411.65" stroke="#000" stroke-width="1.4"/>
<line x1="290" y1="410.36" x2="283" y2="410.36" stroke="#000" stroke-width="1.4"/>
<line x1="485.4" y1="410.36" x2="478.4" y2="410.36" stroke="#000" stroke-width="1.4"/>
<line x1="290" y1="401.9" x2="286.4" y2="401.9" stroke="#000" stroke-width="1.4"/>
<line x1="485.4" y1="401.9" x2="481.8" y2="401.9" stroke="#000" stroke-width="1.4"/>
<rect x="290" y="401.9" width="195.4" height="149.05" fill="none" stroke="#000" stroke-width="1.4"/>
<text x="290" y="572.8" font-size="15.6" text-anchor="middle" fill="#000">0</text>
<text x="329.08" y="572.8" font-size="15.6" text-anchor="middle" fill="#000">5</text>
<text x="368.16" y="572.8" font-size="15.6" text-anchor="middle" fill="#000">10</text>
<text x="407.24" y="572.8" font-size="15.6" text-anchor="middle" fill="#000">15</text>
<text x="446.32" y="572.8" font-size="15.6" text-anchor="middle" fill="#000">20</text>
<text x="485.4" y="572.8" font-size="15.6" text-anchor="middle" fill="#000">25</text>
<line x1="510.3" y1="401.9" x2="510.3" y2="408.9" stroke="#000" stroke-width="1.4"/>
<line x1="529.84" y1="401.9" x2="529.84" y2="405.5" stroke="#000" stroke-width="1.4"/>
<line x1="549.38" y1="401.9" x2="549.38" y2="408.9" stroke="#000" stroke-width="1.4"/>
<line x1="568.92" y1="401.9" x2="568.92" y2="405.5" stroke="#000" stroke-width="1.4"/>
<line x1="588.46" y1="401.9" x2="588.46" y2="408.9" stroke="#000" stroke-width="1.4"/>
<line x1="608" y1="401.9" x2="608" y2="405.5" stroke="#000" stroke-width="1.4"/>
<line x1="627.54" y1="401.9" x2="627.54" y2="408.9" stroke="#000" stroke-width="1.4"/>
<line x1="647.08" y1="401.9" x2="647.08" y2="405.5" stroke="#000" stroke-width="1.4"/>
<line x1="666.62" y1="401.9" x2="666.62" y2="408.9" stroke="#000" stroke-width="1.4"/>
<line x1="686.16" y1="401.9" x2="686.16" y2="405.5" stroke="#000" stroke-width="1.4"/>
<line x1="705.7" y1="401.9" x2="705.7" y2="408.9" stroke="#000" stroke-width="1.4"/>
<line x1="510.3" y1="550.95" x2="510.3" y2="557.95" stroke="#000" stroke-width="1.4"/>
<line x1="529.84" y1="550.95" x2="529.84" y2="554.55" stroke="#000" stroke-width="1.4"/>
<line x1="549.38" y1="550.95" x2="549.38" y2="557.95" stroke="#000" stroke-width="1.4"/>
<line x1="568.92" y1="550.95" x2="568.92" y2="554.55" stroke="#000" stroke-width="1.4"/>
<line x1="588.46" y1="550.95" x2="588.46" y2="557.95" stroke="#000" stroke-width="1.4"/>
<line x1="608" y1="550.95" x2="608" y2="554.55" stroke="#000" stroke-width="1.4"/>
<line x1="627.54" y1="550.95" x2="627.54" y2="557.95" stroke="#000" stroke-width="1.4"/>
<line x1="647.08" y1="550.95" x2="647.08" y2="554.55" stroke="#000" stroke-width="1.4"/>
<line x1="666.62" y1="550.95" x2="666.62" y2="557.95" stroke="#000" stroke-width="1.4"/>
<line x1="686.16" y1="550.95" x2="686.16" y2="554.55" stroke="#000" stroke-width="1.4"/>
<line x1="705.7" y1="550.95" x2="705.7" y2="557.95" stroke="#000" stroke-width="1.4"/>
<line x1="510.3" y1="550.95" x2="503.3" y2="550.95" stroke="#000" stroke-width="1.4"/>
<line x1="705.7" y1="550.95" x2="698.7" y2="550.95" stroke="#000" stroke-width="1.4"/>
<line x1="510.3" y1="542.49" x2="506.7" y2="542.49" stroke="#000" stroke-width="1.4"/>
<line x1="705.7" y1="542.49" x2="702.1" y2="542.49" stroke="#000" stroke-width="1.4"/>
<line x1="510.3" y1="537.53" x2="506.7" y2="537.53" stroke="#000" stroke-width="1.4"/>
<line x1="705.7" y1="537.53" x2="702.1" y2="537.53" stroke="#000" stroke-width="1.4"/>
<line x1="510.3" y1="534.02" x2="506.7" y2="534.02" stroke="#000" stroke-width="1.4"/>
<line x1="705.7" y1="534.02" x2="702.1" y2="534.02" stroke="#000" stroke-width="1.4"/>
<line x1="510.3" y1="531.3" x2="506.7" y2="531.3" stroke="#000" stroke-width="1.4"/>
<line x1="705.7" y1="531.3" x2="702.1" y2="531.3" stroke="#000" stroke-width="1.4"/>
<line x1="510.3" y1="529.07" x2="506.7" y2="529.07" stroke="#000" stroke-width="1.4"/>
<line x1="705.7" y1="529.07" x2="702.1" y2="529.07" stroke="#000" stroke-width="1.4"/>
<line x1="510.3" y1="527.19" x2="506.7" y2="527.19" stroke="#000" stroke-width="1.4"/>
<line x1="705.7" y1="527.19" x2="702.1" y2="527.19" stroke="#000" stroke-width="1.4"/>
<line x1="510.3" y1="525.56" x2="506.7" y2="525.56" stroke="#000" stroke-width="1.4"/>
<line x1="705.7" y1="525.56" x2="702.1" y2="525.56" stroke="#000" stroke-width="1.4"/>
<line x1="510.3" y1="524.12" x2="506.7" y2="524.12" stroke="#000" stroke-width="1.4"/>
<line x1="705.7" y1="524.12" x2="702.1" y2="524.12" stroke="#000" stroke-width="1.4"/>
<line x1="510.3" y1="522.83" x2="503.3" y2="522.83" stroke="#000" stroke-width="1.4"/>
<line x1="705.7" y1="522.83" x2="698.7" y2="522.83" stroke="#000" stroke-width="1.4"/>
<line x1="510.3" y1="514.37" x2="506.7" y2="514.37" stroke="#000" stroke-width="1.4"/>
<line x1="705.7" y1="514.37" x2="702.1" y2="514.37" stroke="#000" stroke-width="1.4"/>
<line x1="510.3" y1="509.42" x2="506.7" y2="509.42" stroke="#000" stroke-width="1.4"/>
<line x1="705.7" y1="509.42" x2="702.1" y2="509.42" stroke="#000" stroke-width="1.4"/>
<line x1="510.3" y1="505.9" x2="506.7" y2="505.9" stroke="#000" stroke-width="1.4"/>
<line x1="705.7" y1="505.9" x2="702.1" y2="505.9" stroke="#000" stroke-width="1.4"/>
<line x1="510.3" y1="503.18" x2="506.7" y2="503.18" stroke="#000" stroke-width="1.4"/>
<line x1="705.7" y1="503.18" x2="702.1" y2="503.18" stroke="#000" stroke-width="1.4"/>
<line x1="510.3" y1="500.95" x2="506.7" y2="500.95" stroke="#000" stroke-width="1.4"/>
<line x1="705.7" y1="500.95" x2="702.1" y2="500.95" stroke="#000" stroke-width="1.4"/>
<line x1="510.3" y1="499.07" x2="506.7" y2="499.07" stroke="#000" stroke-width="1.4"/>
<line x1="705.7" y1="499.07" x2="702.1" y2="499.07" stroke="#000" stroke-width="1.4"/>
<line x1="510.3" y1="497.44" x2="506.7" y2="497.44" stroke="#000" stroke-width="1.4"/>
<line x1="705.7" y1="497.44" x2="702.1" y2="497.44" stroke="#000" stroke-width="1.4"/>
<line x1="510.3" y1="496" x2="506.7" y2="496" stroke="#000" stroke-width="1.4"/>
<line x1="705.7" y1="496" x2="702.1" y2="496" stroke="#000" stroke-width="1.4"/>
<line x1="510.3" y1="494.72" x2="503.3" y2="494.72" stroke="#000" stroke-width="1.4"/>
<line x1="705.7" y1="494.72" x2="698.7" y2="494.72" stroke="#000" stroke-width="1.4"/>
<line x1="510.3" y1="486.25" x2="506.7" y2="486.25" stroke="#000" stroke-width="1.4"/>
<line x1="705.7" y1="486.25" x2="702.1" y2="486.25" stroke="#000" stroke-width="1.4"/>
<line x1="510.3" y1="481.3" x2="506.7" y2="481.3" stroke="#000" stroke-width="1.4"/>
<line x1="705.7" y1="481.3" x2="702.1" y2="481.3" stroke="#000" stroke-width="1.4"/>
<line x1="510.3" y1="477.79" x2="506.7" y2="477.79" stroke="#000" stroke-width="1.4"/>
<line x1="705.7" y1="477.79" x2="702.1" y2="477.79" stroke="#000" stroke-width="1.4"/>
<line x1="510.3" y1="475.06" x2="506.7" y2="475.06" stroke="#000" stroke-width="1.4"/>
<line x1="705.7" y1="475.06" x2="702.1" y2="475.06" stroke="#000" stroke-width="1.4"/>
<line x1="510.3" y1="472.84" x2="506.7" y2="472.84" stroke="#000" stroke-width="1.4"/>
<line x1="705.7" y1="472.84" x2="702.1" y2="472.84" stroke="#000" stroke-width="1.4"/>
<line x1="510.3" y1="470.95" x2="506.7" y2="470.95" stroke="#000" stroke-width="1.4"/>
<line x1="705.7" y1="470.95" x2="702.1" y2="470.95" stroke="#000" stroke-width="1.4"/>
<line x1="510.3" y1="469.32" x2="506.7" y2="469.32" stroke="#000" stroke-width="1.4"/>
<line x1="705.7" y1="469.32" x2="702.1" y2="469.32" stroke="#000" stroke-width="1.4"/>
<line x1="510.3" y1="467.89" x2="506.7" y2="467.89" stroke="#000" stroke-width="1.4"/>
<line x1="705.7" y1="467.89" x2="702.1" y2="467.89" stroke="#000" stroke-width="1.4"/>
<line x1="510.3" y1="466.6" x2="503.3" y2="466.6" stroke="#000" stroke-width="1.4"/>
<line x1="705.7" y1="466.6" x2="698.7" y2="466.6" stroke="#000" stroke-width="1.4"/>
<line x1="510.3" y1="458.13" x2="506.7" y2="458.13" stroke="#000" stroke-width="1.4"/>
<line x1="705.7" y1="458.13" x2="702.1" y2="458.13" stroke="#000" stroke-width="1.4"/>
<line x1="510.3" y1="453.18" x2="506.7" y2="453.18" stroke="#000" stroke-width="1.4"/>
<line x1="705.7" y1="453.18" x2="702.1" y2="453.18" stroke="#000" stroke-width="1.4"/>
<line x1="510.3" y1="449.67" x2="506.7" y2="449.67" stroke="#000" stroke-width="1.4"/>
<line x1="705.7" y1="449.67" x2="702.1" y2="449.67" stroke="#000" stroke-width="1.4"/>
<line x1="510.3" y1="446.95" x2="506.7" y2="446.95" stroke="#000" stroke-width="1.4"/>
<line x1="705.7" y1="446.95" x2="702.1" y2="446.95" stroke="#000" stroke-width="1.4"/>
<line x1="510.3" y1="444.72" x2="506.7" y2="444.72" stroke="#000" stroke-width="1.4"/>
<line x1="705.7" y1="444.72" x2="702.1" y2="444.72" stroke="#000" stroke-width="1.4"/>
<line x1="510.3" y1="442.84" x2="506.7" y2="442.84" stroke="#000" stroke-width="1.4"/>
<line x1="705.7" y1="442.84" x2="702.1" y2="442.84" stroke="#000" stroke-width="1.4"/>
<line x1="510.3" y1="441.21" x2="506.7" y2="441.21" stroke="#000" stroke-width="1.4"/>
<line x1="705.7" y1="441.21" x2="702.1" y2="441.21" stroke="#000" stroke-width="1.4"/>
<line x1="510.3" y1="439.77" x2="506.7" y2="439.77" stroke="#000" stroke-width="1.4"/>
<line x1="705.7" y1="439.77" x2="702.1" y2="439.77" stroke="#000" stroke-width="1.4"/>
<line x1="510.3" y1="438.48" x2="503.3" y2="438.48" stroke="#000" stroke-width="1.4"/>
<line x1="705.7" y1="438.48" x2="698.7" y2="438.48" stroke="#000" stroke-width="1.4"/>
<line x1="510.3" y1="430.02" x2="506.7" y2="430.02" stroke="#000" stroke-width="1.4"/>
<line x1="705.7" y1="430.02" x2="702.1" y2="430.02" stroke="#000" stroke-width="1.4"/>
<line x1="510.3" y1="425.07" x2="506.7" y2="425.07" stroke="#000" stroke-width="1.4"/>
<line x1="705.7" y1="425.07" x2="702.1" y2="425.07" stroke="#000" stroke-width="1.4"/>
<line x1="510.3" y1="421.55" x2="506.7" y2="421.55" stroke="#000" stroke-width="1.4"/>
<line x1="705.7" y1="421.55" x2="702.1" y2="421.55" stroke="#000" stroke-width="1.4"/>
<line x1="510.3" y1="418.83" x2="506.7" y2="418.83" stroke="#000" stroke-width="1.4"/>
<line x1="705.7" y1="418.83" x2="702.1" y2="418.83" stroke="#000" stroke-width="1.4"/>
<line x1="510.3" y1="416.6" x2="506.7" y2="416.6" stroke="#000" stroke-width="1.4"/>
<line x1="705.7" y1="416.6" x2="702.1" y2="416.6" stroke="#000" stroke-width="1.4"/>
<line x1="510.3" y1="414.72" x2="506.7" y2="414.72" stroke="#000" stroke-width="1.4"/>
<line x1="705.7" y1="414.72" x2="702.1" y2="414.72" stroke="#000" stroke-width="1.4"/>
<line x1="510.3" y1="413.09" x2="506.7" y2="413.09" stroke="#000" stroke-width="1.4"/>
<line x1="705.7" y1="413.09" x2="702.1" y2="413.09" stroke="#000" stroke-width="1.4"/>
<line x1="510.3" y1="411.65" x2="506.7" y2="411.65" stroke="#000" stroke-width="1.4"/>
<line x1="705.7" y1="411.65" x2="702.1" y2="411.65" stroke="#000" stroke-width="1.4"/>
<line x1="510.3" y1="410.36" x2="503.3" y2="410.36" stroke="#000" stroke-width="1.4"/>
<line x1="705.7" y1="410.36" x2="698.7" y2="410.36" stroke="#000" stroke-width="1.4"/>
<line x1="510.3" y1="401.9" x2="506.7" y2="401.9" stroke="#000" stroke-width="1.4"/>
<line x1="705.7" y1="401.9" x2="702.1" y2="401.9" stroke="#000" stroke-width="1.4"/>
<rect x="510.3" y="401.9" width="195.4" height="149.05" fill="none" stroke="#000" stroke-width="1.4"/>
<text x="510.3" y="572.8" font-size="15.6" text-anchor="middle" fill="#000">0</text>
<text x="549.38" y="572.8" font-size="15.6" text-anchor="middle" fill="#000">5</text>
<text x="588.46" y="572.8" font-size="15.6" text-anchor="middle" fill="#000">10</text>
<text x="627.54" y="572.8" font-size="15.6" text-anchor="middle" fill="#000">15</text>
<text x="666.62" y="572.8" font-size="15.6" text-anchor="middle" fill="#000">20</text>
<text x="705.7" y="572.8" font-size="15.6" text-anchor="middle" fill="#000">25</text>
<text x="58.3" y="414.36" font-size="14" text-anchor="end" fill="#000">1E+00</text>
<text x="58.3" y="442.48" font-size="14" text-anchor="end" fill="#000">1E-01</text>
<text x="58.3" y="470.6" font-size="14" text-anchor="end" fill="#000">1E-02</text>
<text x="58.3" y="498.72" font-size="14" text-anchor="end" fill="#000">1E-03</text>
<text x="58.3" y="526.83" font-size="14" text-anchor="end" fill="#000">1E-04</text>
<text x="58.3" y="554.95" font-size="14" text-anchor="end" fill="#000">1E-05</text>
<g clip-path="url(#ce0)" fill="none" stroke-linejoin="round">
<path d="M69.8,431.04 L70.8,430.72 L71.8,430.55 L72.8,430.52 L73.8,430.61 L74.8,430.82 L75.8,431.12 L76.8,431.51 L77.8,431.97 L78.8,432.49 L79.8,433.05 L80.8,433.64 L81.8,434.25 L82.8,434.86 L83.8,435.46 L84.8,436.04 L85.8,436.62 L86.8,437.18 L87.8,437.74 L88.8,438.28 L89.8,438.82 L90.8,439.35 L91.8,439.87 L92.8,440.39 L93.8,440.9 L94.8,441.41 L95.8,441.91 L96.8,442.41 L97.8,442.91 L98.8,443.41 L99.8,443.9 L100.8,444.4 L101.8,444.9 L102.8,445.4 L103.8,445.9 L104.8,446.4 L105.8,446.91 L106.8,447.42 L107.8,447.94 L108.8,448.46 L109.8,448.98 L110.8,449.52 L111.8,450.05 L112.8,450.59 L113.8,451.14 L114.8,451.69 L115.8,452.24 L116.8,452.8 L117.8,453.36 L118.8,453.93 L119.8,454.5 L120.8,455.07 L121.8,455.65 L122.8,456.23 L123.8,456.81 L124.8,457.4 L125.8,457.99 L126.8,458.59 L127.8,459.18 L128.8,459.78 L129.8,460.39 L130.8,460.99 L131.8,461.6 L132.8,462.21 L133.8,462.83 L134.8,463.44 L135.8,464.06 L136.8,464.68 L137.8,465.31 L138.8,465.93 L139.8,466.56 L140.8,467.19 L141.8,467.82 L142.8,468.45 L143.8,469.08 L144.8,469.72 L145.8,470.36 L146.8,470.99 L147.8,471.63 L148.8,472.27 L149.8,472.91 L150.8,473.56 L151.8,474.2 L152.8,474.84 L153.8,475.49 L154.8,476.13 L155.8,476.78 L156.8,477.42 L157.8,478.07 L158.8,478.71 L159.8,479.36 L160.8,480.01 L161.8,480.65 L162.8,481.3 L163.8,481.94 L164.8,482.59 L165.8,483.23 L166.8,483.87 L167.8,484.52 L168.8,485.16 L169.8,485.8 L170.8,486.45 L171.8,487.09 L172.8,487.74 L173.8,488.38 L174.8,489.03 L175.8,489.67 L176.8,490.32 L177.8,490.97 L178.8,491.62 L179.8,492.27 L180.8,492.93 L181.8,493.58 L182.8,494.24 L183.8,494.9 L184.8,495.57 L185.8,496.23 L186.8,496.9 L187.8,497.57 L188.8,498.24 L189.8,498.92 L190.8,499.6 L191.8,500.29 L192.8,500.97 L193.8,501.66 L194.8,502.36 L195.8,503.06 L196.8,503.76 L197.8,504.47 L198.8,505.18 L199.8,505.9 L200.8,506.62 L201.8,507.35 L202.8,508.08 L203.8,508.82 L204.8,509.56 L205.8,510.31 L206.8,511.07 L207.8,511.83 L208.8,512.6 L209.8,513.37 L210.8,514.15 L211.8,514.94 L212.8,515.73 L213.8,516.53 L214.8,517.34 L215.8,518.15 L216.8,518.98 L217.8,519.8 L218.8,520.65 L219.8,521.51 L220.8,522.4 L221.8,523.34 L222.8,524.32 L223.8,525.36 L224.8,526.47 L225.8,527.66 L226.8,528.94 L227.8,530.31 L228.8,531.8 L229.8,533.4 L230.8,535.12 L231.8,536.98 L232.8,538.94 L233.8,540.96 L234.8,542.98 L235.8,544.94 L236.8,546.8 L237.8,548.49 L238.8,549.97 L239.8,551.18 L240.2,551.58" stroke="rgb(120,145,245)" stroke-width="1.8"/>
<path d="M69.8,437.64 L70.8,437.29 L71.8,437.05 L72.8,436.9 L73.8,436.83 L74.8,436.84 L75.8,436.92 L76.8,437.06 L77.8,437.24 L78.8,437.47 L79.8,437.73 L80.8,438.02 L81.8,438.32 L82.8,438.63 L83.8,438.95 L84.8,439.28 L85.8,439.62 L86.8,439.97 L87.8,440.32 L88.8,440.68 L89.8,441.05 L90.8,441.42 L91.8,441.8 L92.8,442.19 L93.8,442.58 L94.8,442.97 L95.8,443.37 L96.8,443.77 L97.8,444.18 L98.8,444.59 L99.8,445 L100.8,445.41 L101.8,445.83 L102.8,446.25 L103.8,446.67 L104.8,447.09 L105.8,447.51 L106.8,447.93 L107.8,448.34 L108.8,448.76 L109.8,449.18 L110.8,449.59 L111.8,450.01 L112.8,450.42 L113.8,450.83 L114.8,451.24 L115.8,451.65 L116.8,452.06 L117.8,452.47 L118.8,452.88 L119.8,453.3 L120.8,453.71 L121.8,454.12 L122.8,454.53 L123.8,454.94 L124.8,455.35 L125.8,455.77 L126.8,456.19 L127.8,456.6 L128.8,457.02 L129.8,457.44 L130.8,457.87 L131.8,458.29 L132.8,458.72 L133.8,459.15 L134.8,459.58 L135.8,460.02 L136.8,460.46 L137.8,460.9 L138.8,461.34 L139.8,461.79 L140.8,462.25 L141.8,462.7 L142.8,463.16 L143.8,463.63 L144.8,464.1 L145.8,464.57 L146.8,465.05 L147.8,465.53 L148.8,466.02 L149.8,466.51 L150.8,467.01 L151.8,467.52 L152.8,468.03 L153.8,468.55 L154.8,469.07 L155.8,469.6 L156.8,470.13 L157.8,470.67 L158.8,471.22 L159.8,471.78 L160.8,472.34 L161.8,472.91 L162.8,473.49 L163.8,474.07 L164.8,474.67 L165.8,475.27 L166.8,475.88 L167.8,476.49 L168.8,477.11 L169.8,477.74 L170.8,478.37 L171.8,479.01 L172.8,479.66 L173.8,480.31 L174.8,480.96 L175.8,481.61 L176.8,482.27 L177.8,482.93 L178.8,483.59 L179.8,484.25 L180.8,484.91 L181.8,485.58 L182.8,486.24 L183.8,486.9 L184.8,487.56 L185.8,488.22 L186.8,488.88 L187.8,489.53 L188.8,490.18 L189.8,490.83 L190.8,491.47 L191.8,492.11 L192.8,492.74 L193.8,493.37 L194.8,493.99 L195.8,494.62 L196.8,495.24 L197.8,495.86 L198.8,496.48 L199.8,497.1 L200.8,497.73 L201.8,498.37 L202.8,499.02 L203.8,499.67 L204.8,500.33 L205.8,501.01 L206.8,501.7 L207.8,502.4 L208.8,503.12 L209.8,503.86 L210.8,504.62 L211.8,505.4 L212.8,506.2 L213.8,507.03 L214.8,507.88 L215.8,508.75 L216.8,509.65 L217.8,510.59 L218.8,511.55 L219.8,512.55 L220.8,513.58 L221.8,514.64 L222.8,515.75 L223.8,516.89 L224.8,518.07 L225.8,519.29 L226.8,520.56 L227.8,521.88 L228.8,523.24 L229.8,524.65 L230.8,526.11 L231.8,527.62 L232.8,529.19 L233.8,530.82 L234.8,532.5 L235.8,534.24 L236.8,536.04 L237.8,537.91 L238.8,539.83 L239.8,541.83 L240.8,543.88 L241.8,546.01 L242.8,548.19 L243.8,550.45 L244.3,551.6" stroke="#f00" stroke-width="2.1" stroke-dasharray="5 2.6"/>
<path d="M69.8,406.03 L70.3,406.17 L70.8,406.66 L71.3,407.45 L71.8,408.5 L72.3,409.76 L72.8,411.18 L73.3,412.72 L73.8,414.33 L74.3,415.96 L74.8,417.59 L75.3,419.2 L75.8,420.77 L76.3,422.28 L76.8,423.7 L77.3,425.03 L77.8,426.25 L78.3,427.36 L78.8,428.37 L79.3,429.31 L79.8,430.2 L80.3,431.04 L80.8,431.85 L81.3,432.65 L81.8,433.45 L82.3,434.28 L82.8,435.14 L83.3,436.01 L83.8,436.91 L84.3,437.81 L84.8,438.71 L85.3,439.6 L85.8,440.48 L86.3,441.33 L86.8,442.15 L87.3,442.92 L87.8,443.66 L88.3,444.35 L88.8,445 L89.3,445.62 L89.8,446.21 L90.3,446.76 L90.8,447.29 L91.3,447.79 L91.8,448.28 L92.3,448.75 L92.8,449.2 L93.3,449.64 L93.8,450.06 L94.3,450.48 L94.8,450.88 L95.3,451.28 L95.8,451.66 L96.3,452.04 L96.8,452.41 L97.3,452.76 L97.8,453.12 L98.3,453.46 L98.8,453.8 L99.3,454.13 L99.8,454.46 L100.3,454.78 L100.8,455.1 L101.3,455.41 L101.8,455.73 L102.3,456.04 L102.8,456.35 L103.3,456.65 L103.8,456.96 L104.3,457.27 L104.8,457.57 L105.3,457.88 L105.8,458.19 L106.3,458.51 L106.8,458.82 L107.3,459.14 L107.8,459.46 L108.3,459.79 L108.8,460.12 L109.3,460.45 L109.8,460.78 L110.3,461.11 L110.8,461.45 L111.3,461.79 L111.8,462.13 L112.3,462.48 L112.8,462.83 L113.3,463.18 L113.8,463.53 L114.3,463.88 L114.8,464.24 L115.3,464.59 L115.8,464.95 L116.3,465.31 L116.8,465.68 L117.3,466.04 L117.8,466.41 L118.3,466.77 L118.8,467.14 L119.3,467.51 L119.8,467.88 L120.3,468.25 L120.8,468.63 L121.3,469 L121.8,469.37 L122.3,469.75 L122.8,470.13 L123.3,470.5 L123.8,470.88 L124.3,471.26 L124.8,471.64 L125.3,472.02 L125.8,472.4 L126.3,472.78 L126.8,473.16 L127.3,473.54 L127.8,473.92 L128.3,474.3 L128.8,474.68 L129.3,475.06 L129.8,475.44 L130.3,475.82 L130.8,476.2 L131.3,476.58 L131.8,476.96 L132.3,477.33 L132.8,477.71 L133.3,478.09 L133.8,478.46 L134.3,478.84 L134.8,479.21 L135.3,479.58 L135.8,479.96 L136.3,480.33 L136.8,480.7 L137.3,481.07 L137.8,481.44 L138.3,481.8 L138.8,482.17 L139.3,482.54 L139.8,482.9 L140.3,483.27 L140.8,483.63 L141.3,484 L141.8,484.36 L142.3,484.72 L142.8,485.08 L143.3,485.44 L143.8,485.8 L144.3,486.16 L144.8,486.52 L145.3,486.88 L145.8,487.24 L146.3,487.59 L146.8,487.95 L147.3,488.31 L147.8,488.66 L148.3,489.02 L148.8,489.37 L149.3,489.72 L149.8,490.08 L150.3,490.43 L150.8,490.78 L151.3,491.13 L151.8,491.49 L152.3,491.84 L152.8,492.19 L153.3,492.54 L153.8,492.89 L154.3,493.24 L154.8,493.59 L155.3,493.93 L155.8,494.28 L156.3,494.63 L156.8,494.98 L157.3,495.33 L157.8,495.67 L158.3,496.02 L158.8,496.37 L159.3,496.71 L159.8,497.06 L160.3,497.41 L160.8,497.75 L161.3,498.1 L161.8,498.44 L162.3,498.79 L162.8,499.13 L163.3,499.48 L163.8,499.82 L164.3,500.17 L164.8,500.51 L165.3,500.86 L165.8,501.2 L166.3,501.55 L166.8,501.89 L167.3,502.23 L167.8,502.58 L168.3,502.92 L168.8,503.27 L169.3,503.61 L169.8,503.96 L170.3,504.3 L170.8,504.65 L171.3,504.99 L171.8,505.33 L172.3,505.68 L172.8,506.02 L173.3,506.37 L173.8,506.71 L174.3,507.06 L174.8,507.41 L175.3,507.75 L175.8,508.1 L176.3,508.44 L176.8,508.79 L177.3,509.14 L177.8,509.48 L178.3,509.83 L178.8,510.18 L179.3,510.52 L179.8,510.87 L180.3,511.22 L180.8,511.57 L181.3,511.92 L181.8,512.26 L182.3,512.61 L182.8,512.96 L183.3,513.31 L183.8,513.65 L184.3,514 L184.8,514.35 L185.3,514.69 L185.8,515.04 L186.3,515.38 L186.8,515.72 L187.3,516.06 L187.8,516.4 L188.3,516.74 L188.8,517.08 L189.3,517.42 L189.8,517.76 L190.3,518.09 L190.8,518.42 L191.3,518.76 L191.8,519.09 L192.3,519.41 L192.8,519.74 L193.3,520.07 L193.8,520.39 L194.3,520.71 L194.8,521.04 L195.3,521.36 L195.8,521.68 L196.3,522 L196.8,522.33 L197.3,522.65 L197.8,522.98 L198.3,523.31 L198.8,523.65 L199.3,523.98 L199.8,524.32 L200.3,524.67 L200.8,525.02 L201.3,525.37 L201.8,525.73 L202.3,526.09 L202.8,526.46 L203.3,526.84 L203.8,527.22 L204.3,527.61 L204.8,528.01 L205.3,528.41 L205.8,528.83 L206.3,529.25 L206.8,529.68 L207.3,530.12 L207.8,530.57 L208.3,531.03 L208.8,531.49 L209.3,531.96 L209.8,532.44 L210.3,532.92 L210.8,533.4 L211.3,533.89 L211.8,534.39 L212.3,534.88 L212.8,535.38 L213.3,535.88 L213.8,536.38 L214.3,536.89 L214.8,537.39 L215.3,537.9 L215.8,538.42 L216.3,538.94 L216.8,539.46 L217.3,540 L217.8,540.53 L218.3,541.08 L218.8,541.64 L219.3,542.2 L219.8,542.78 L220.3,543.37 L220.8,543.98 L221.3,544.61 L221.8,545.25 L222.3,545.93 L222.8,546.63 L223.3,547.35 L223.8,548.11 L224.3,548.9 L224.8,549.73 L225.3,550.59 L225.8,551.5" stroke="#000" stroke-width="2.0"/>
</g>
<g clip-path="url(#ce1)" fill="none" stroke-linejoin="round">
<path d="M290.2,430.66 L291.2,430.16 L292.2,429.87 L293.2,429.78 L294.2,429.87 L295.2,430.11 L296.2,430.48 L297.2,430.96 L298.2,431.54 L299.2,432.18 L300.2,432.87 L301.2,433.59 L302.2,434.32 L303.2,435.04 L304.2,435.74 L305.2,436.39 L306.2,437.01 L307.2,437.59 L308.2,438.14 L309.2,438.67 L310.2,439.18 L311.2,439.68 L312.2,440.17 L313.2,440.66 L314.2,441.16 L315.2,441.66 L316.2,442.16 L317.2,442.67 L318.2,443.18 L319.2,443.69 L320.2,444.21 L321.2,444.73 L322.2,445.25 L323.2,445.78 L324.2,446.3 L325.2,446.84 L326.2,447.37 L327.2,447.91 L328.2,448.45 L329.2,448.99 L330.2,449.54 L331.2,450.09 L332.2,450.64 L333.2,451.2 L334.2,451.75 L335.2,452.32 L336.2,452.88 L337.2,453.45 L338.2,454.01 L339.2,454.59 L340.2,455.16 L341.2,455.74 L342.2,456.32 L343.2,456.9 L344.2,457.49 L345.2,458.07 L346.2,458.66 L347.2,459.26 L348.2,459.85 L349.2,460.45 L350.2,461.05 L351.2,461.65 L352.2,462.26 L353.2,462.86 L354.2,463.47 L355.2,464.09 L356.2,464.7 L357.2,465.32 L358.2,465.94 L359.2,466.56 L360.2,467.18 L361.2,467.8 L362.2,468.43 L363.2,469.06 L364.2,469.69 L365.2,470.33 L366.2,470.96 L367.2,471.6 L368.2,472.24 L369.2,472.88 L370.2,473.52 L371.2,474.17 L372.2,474.82 L373.2,475.46 L374.2,476.11 L375.2,476.77 L376.2,477.42 L377.2,478.08 L378.2,478.73 L379.2,479.39 L380.2,480.05 L381.2,480.71 L382.2,481.38 L383.2,482.04 L384.2,482.71 L385.2,483.37 L386.2,484.04 L387.2,484.71 L388.2,485.38 L389.2,486.05 L390.2,486.72 L391.2,487.4 L392.2,488.07 L393.2,488.75 L394.2,489.42 L395.2,490.1 L396.2,490.78 L397.2,491.45 L398.2,492.13 L399.2,492.81 L400.2,493.49 L401.2,494.17 L402.2,494.86 L403.2,495.54 L404.2,496.22 L405.2,496.9 L406.2,497.59 L407.2,498.27 L408.2,498.95 L409.2,499.64 L410.2,500.32 L411.2,501.01 L412.2,501.69 L413.2,502.37 L414.2,503.06 L415.2,503.74 L416.2,504.43 L417.2,505.11 L418.2,505.8 L419.2,506.48 L420.2,507.16 L421.2,507.85 L422.2,508.53 L423.2,509.21 L424.2,509.9 L425.2,510.58 L426.2,511.26 L427.2,511.94 L428.2,512.62 L429.2,513.31 L430.2,514.02 L431.2,514.73 L432.2,515.47 L433.2,516.22 L434.2,517.01 L435.2,517.82 L436.2,518.67 L437.2,519.56 L438.2,520.5 L439.2,521.48 L440.2,522.51 L441.2,523.59 L442.2,524.74 L443.2,525.95 L444.2,527.22 L445.2,528.57 L446.2,529.99 L447.2,531.48 L448.2,533.03 L449.2,534.63 L450.2,536.26 L451.2,537.91 L452.2,539.56 L453.2,541.21 L454.2,542.84 L455.2,544.44 L456.2,546 L457.2,547.5 L458.2,548.93 L459.2,550.28 L460.2,551.54" stroke="rgb(120,145,245)" stroke-width="1.8"/>
<path d="M290.2,435.19 L291.2,434.79 L292.2,434.52 L293.2,434.37 L294.2,434.33 L295.2,434.39 L296.2,434.54 L297.2,434.77 L298.2,435.08 L299.2,435.44 L300.2,435.86 L301.2,436.32 L302.2,436.81 L303.2,437.33 L304.2,437.88 L305.2,438.44 L306.2,439.01 L307.2,439.6 L308.2,440.18 L309.2,440.76 L310.2,441.34 L311.2,441.9 L312.2,442.44 L313.2,442.96 L314.2,443.44 L315.2,443.9 L316.2,444.32 L317.2,444.72 L318.2,445.1 L319.2,445.45 L320.2,445.78 L321.2,446.1 L322.2,446.4 L323.2,446.69 L324.2,446.97 L325.2,447.24 L326.2,447.51 L327.2,447.78 L328.2,448.04 L329.2,448.32 L330.2,448.59 L331.2,448.88 L332.2,449.17 L333.2,449.48 L334.2,449.8 L335.2,450.14 L336.2,450.5 L337.2,450.89 L338.2,451.3 L339.2,451.73 L340.2,452.19 L341.2,452.66 L342.2,453.14 L343.2,453.64 L344.2,454.14 L345.2,454.64 L346.2,455.14 L347.2,455.65 L348.2,456.15 L349.2,456.66 L350.2,457.16 L351.2,457.67 L352.2,458.18 L353.2,458.69 L354.2,459.2 L355.2,459.71 L356.2,460.23 L357.2,460.75 L358.2,461.27 L359.2,461.79 L360.2,462.32 L361.2,462.85 L362.2,463.38 L363.2,463.91 L364.2,464.45 L365.2,464.99 L366.2,465.54 L367.2,466.08 L368.2,466.64 L369.2,467.19 L370.2,467.75 L371.2,468.32 L372.2,468.89 L373.2,469.46 L374.2,470.03 L375.2,470.61 L376.2,471.2 L377.2,471.78 L378.2,472.37 L379.2,472.97 L380.2,473.57 L381.2,474.17 L382.2,474.77 L383.2,475.38 L384.2,476 L385.2,476.61 L386.2,477.23 L387.2,477.86 L388.2,478.48 L389.2,479.11 L390.2,479.75 L391.2,480.39 L392.2,481.03 L393.2,481.67 L394.2,482.32 L395.2,482.97 L396.2,483.63 L397.2,484.28 L398.2,484.95 L399.2,485.61 L400.2,486.28 L401.2,486.95 L402.2,487.63 L403.2,488.3 L404.2,488.98 L405.2,489.67 L406.2,490.36 L407.2,491.05 L408.2,491.74 L409.2,492.44 L410.2,493.14 L411.2,493.84 L412.2,494.55 L413.2,495.26 L414.2,495.97 L415.2,496.69 L416.2,497.4 L417.2,498.13 L418.2,498.85 L419.2,499.58 L420.2,500.31 L421.2,501.04 L422.2,501.78 L423.2,502.52 L424.2,503.26 L425.2,504 L426.2,504.75 L427.2,505.5 L428.2,506.26 L429.2,507.02 L430.2,507.79 L431.2,508.58 L432.2,509.39 L433.2,510.21 L434.2,511.06 L435.2,511.94 L436.2,512.84 L437.2,513.77 L438.2,514.74 L439.2,515.75 L440.2,516.8 L441.2,517.89 L442.2,519.03 L443.2,520.21 L444.2,521.45 L445.2,522.75 L446.2,524.1 L447.2,525.52 L448.2,527 L449.2,528.54 L450.2,530.15 L451.2,531.8 L452.2,533.5 L453.2,535.23 L454.2,536.98 L455.2,538.74 L456.2,540.5 L457.2,542.25 L458.2,543.99 L459.2,545.7 L460.2,547.38 L461.2,549.01 L462.2,550.58 L462.9,551.64" stroke="#f00" stroke-width="2.1" stroke-dasharray="5 2.6"/>
<path d="M290.2,409.18 L290.7,408.9 L291.2,408.9 L291.7,409.14 L292.2,409.6 L292.7,410.26 L293.2,411.1 L293.7,412.09 L294.2,413.21 L294.7,414.44 L295.2,415.74 L295.7,417.11 L296.2,418.52 L296.7,419.94 L297.2,421.34 L297.7,422.72 L298.2,424.04 L298.7,425.28 L299.2,426.42 L299.7,427.47 L300.2,428.45 L300.7,429.4 L301.2,430.33 L301.7,431.27 L302.2,432.24 L302.7,433.27 L303.2,434.38 L303.7,435.58 L304.2,436.85 L304.7,438.14 L305.2,439.42 L305.7,440.64 L306.2,441.77 L306.7,442.79 L307.2,443.71 L307.7,444.55 L308.2,445.31 L308.7,445.99 L309.2,446.62 L309.7,447.2 L310.2,447.74 L310.7,448.24 L311.2,448.73 L311.7,449.19 L312.2,449.65 L312.7,450.09 L313.2,450.52 L313.7,450.94 L314.2,451.34 L314.7,451.74 L315.2,452.12 L315.7,452.5 L316.2,452.86 L316.7,453.22 L317.2,453.57 L317.7,453.92 L318.2,454.26 L318.7,454.59 L319.2,454.92 L319.7,455.24 L320.2,455.56 L320.7,455.87 L321.2,456.19 L321.7,456.5 L322.2,456.81 L322.7,457.12 L323.2,457.43 L323.7,457.74 L324.2,458.06 L324.7,458.37 L325.2,458.69 L325.7,459.01 L326.2,459.33 L326.7,459.66 L327.2,459.98 L327.7,460.32 L328.2,460.65 L328.7,460.99 L329.2,461.33 L329.7,461.67 L330.2,462.01 L330.7,462.36 L331.2,462.71 L331.7,463.05 L332.2,463.41 L332.7,463.76 L333.2,464.11 L333.7,464.47 L334.2,464.83 L334.7,465.19 L335.2,465.55 L335.7,465.91 L336.2,466.27 L336.7,466.63 L337.2,466.99 L337.7,467.36 L338.2,467.72 L338.7,468.09 L339.2,468.45 L339.7,468.82 L340.2,469.18 L340.7,469.54 L341.2,469.91 L341.7,470.27 L342.2,470.64 L342.7,471 L343.2,471.36 L343.7,471.72 L344.2,472.08 L344.7,472.44 L345.2,472.8 L345.7,473.16 L346.2,473.52 L346.7,473.87 L347.2,474.22 L347.7,474.57 L348.2,474.92 L348.7,475.27 L349.2,475.62 L349.7,475.96 L350.2,476.31 L350.7,476.65 L351.2,476.99 L351.7,477.33 L352.2,477.67 L352.7,478.01 L353.2,478.34 L353.7,478.68 L354.2,479.02 L354.7,479.35 L355.2,479.68 L355.7,480.02 L356.2,480.35 L356.7,480.68 L357.2,481.01 L357.7,481.34 L358.2,481.67 L358.7,482 L359.2,482.33 L359.7,482.66 L360.2,482.99 L360.7,483.32 L361.2,483.65 L361.7,483.98 L362.2,484.31 L362.7,484.64 L363.2,484.98 L363.7,485.31 L364.2,485.64 L364.7,485.97 L365.2,486.3 L365.7,486.64 L366.2,486.97 L366.7,487.31 L367.2,487.64 L367.7,487.98 L368.2,488.32 L368.7,488.66 L369.2,489 L369.7,489.34 L370.2,489.68 L370.7,490.02 L371.2,490.37 L371.7,490.71 L372.2,491.06 L372.7,491.41 L373.2,491.75 L373.7,492.1 L374.2,492.45 L374.7,492.81 L375.2,493.16 L375.7,493.51 L376.2,493.86 L376.7,494.22 L377.2,494.57 L377.7,494.93 L378.2,495.29 L378.7,495.64 L379.2,496 L379.7,496.36 L380.2,496.72 L380.7,497.08 L381.2,497.43 L381.7,497.79 L382.2,498.15 L382.7,498.51 L383.2,498.87 L383.7,499.24 L384.2,499.6 L384.7,499.96 L385.2,500.32 L385.7,500.68 L386.2,501.04 L386.7,501.4 L387.2,501.76 L387.7,502.12 L388.2,502.48 L388.7,502.85 L389.2,503.21 L389.7,503.57 L390.2,503.93 L390.7,504.29 L391.2,504.64 L391.7,505 L392.2,505.36 L392.7,505.72 L393.2,506.08 L393.7,506.44 L394.2,506.79 L394.7,507.15 L395.2,507.5 L395.7,507.86 L396.2,508.21 L396.7,508.56 L397.2,508.92 L397.7,509.27 L398.2,509.62 L398.7,509.97 L399.2,510.32 L399.7,510.67 L400.2,511.01 L400.7,511.36 L401.2,511.71 L401.7,512.05 L402.2,512.4 L402.7,512.74 L403.2,513.09 L403.7,513.43 L404.2,513.78 L404.7,514.12 L405.2,514.47 L405.7,514.81 L406.2,515.16 L406.7,515.51 L407.2,515.85 L407.7,516.2 L408.2,516.55 L408.7,516.9 L409.2,517.25 L409.7,517.6 L410.2,517.96 L410.7,518.31 L411.2,518.67 L411.7,519.02 L412.2,519.38 L412.7,519.74 L413.2,520.11 L413.7,520.47 L414.2,520.84 L414.7,521.21 L415.2,521.58 L415.7,521.95 L416.2,522.33 L416.7,522.71 L417.2,523.09 L417.7,523.47 L418.2,523.86 L418.7,524.25 L419.2,524.64 L419.7,525.04 L420.2,525.44 L420.7,525.84 L421.2,526.25 L421.7,526.66 L422.2,527.07 L422.7,527.49 L423.2,527.91 L423.7,528.33 L424.2,528.76 L424.7,529.2 L425.2,529.63 L425.7,530.08 L426.2,530.52 L426.7,530.97 L427.2,531.43 L427.7,531.89 L428.2,532.35 L428.7,532.82 L429.2,533.3 L429.7,533.78 L430.2,534.26 L430.7,534.75 L431.2,535.25 L431.7,535.75 L432.2,536.26 L432.7,536.77 L433.2,537.29 L433.7,537.82 L434.2,538.35 L434.7,538.89 L435.2,539.43 L435.7,539.98 L436.2,540.54 L436.7,541.1 L437.2,541.67 L437.7,542.25 L438.2,542.83 L438.7,543.42 L439.2,544.02 L439.7,544.62 L440.2,545.23 L440.7,545.85 L441.2,546.48 L441.7,547.11 L442.2,547.75 L442.7,548.4 L443.2,549.06 L443.7,549.73 L444.2,550.4 L444.7,551.08 L445,551.49" stroke="#000" stroke-width="2.0"/>
</g>
<g clip-path="url(#ce2)" fill="none" stroke-linejoin="round">
<path d="M510.5,429.07 L511.5,428.56 L512.5,428.24 L513.5,428.09 L514.5,428.1 L515.5,428.26 L516.5,428.57 L517.5,429 L518.5,429.56 L519.5,430.22 L520.5,430.98 L521.5,431.83 L522.5,432.75 L523.5,433.74 L524.5,434.78 L525.5,435.86 L526.5,436.94 L527.5,437.98 L528.5,438.96 L529.5,439.84 L530.5,440.6 L531.5,441.25 L532.5,441.8 L533.5,442.29 L534.5,442.73 L535.5,443.14 L536.5,443.55 L537.5,443.95 L538.5,444.37 L539.5,444.79 L540.5,445.23 L541.5,445.67 L542.5,446.11 L543.5,446.57 L544.5,447.03 L545.5,447.5 L546.5,447.98 L547.5,448.47 L548.5,448.96 L549.5,449.46 L550.5,449.96 L551.5,450.47 L552.5,450.99 L553.5,451.52 L554.5,452.05 L555.5,452.58 L556.5,453.12 L557.5,453.67 L558.5,454.22 L559.5,454.78 L560.5,455.35 L561.5,455.91 L562.5,456.49 L563.5,457.07 L564.5,457.65 L565.5,458.24 L566.5,458.83 L567.5,459.42 L568.5,460.02 L569.5,460.62 L570.5,461.23 L571.5,461.84 L572.5,462.45 L573.5,463.07 L574.5,463.69 L575.5,464.31 L576.5,464.94 L577.5,465.57 L578.5,466.2 L579.5,466.83 L580.5,467.47 L581.5,468.1 L582.5,468.74 L583.5,469.39 L584.5,470.03 L585.5,470.67 L586.5,471.32 L587.5,471.96 L588.5,472.61 L589.5,473.26 L590.5,473.91 L591.5,474.56 L592.5,475.21 L593.5,475.87 L594.5,476.52 L595.5,477.18 L596.5,477.83 L597.5,478.49 L598.5,479.15 L599.5,479.81 L600.5,480.48 L601.5,481.14 L602.5,481.81 L603.5,482.47 L604.5,483.14 L605.5,483.81 L606.5,484.48 L607.5,485.16 L608.5,485.83 L609.5,486.51 L610.5,487.19 L611.5,487.87 L612.5,488.55 L613.5,489.24 L614.5,489.93 L615.5,490.62 L616.5,491.31 L617.5,492 L618.5,492.69 L619.5,493.39 L620.5,494.09 L621.5,494.79 L622.5,495.5 L623.5,496.21 L624.5,496.92 L625.5,497.63 L626.5,498.34 L627.5,499.06 L628.5,499.78 L629.5,500.5 L630.5,501.22 L631.5,501.95 L632.5,502.68 L633.5,503.41 L634.5,504.15 L635.5,504.89 L636.5,505.63 L637.5,506.37 L638.5,507.12 L639.5,507.87 L640.5,508.62 L641.5,509.38 L642.5,510.14 L643.5,510.9 L644.5,511.67 L645.5,512.44 L646.5,513.21 L647.5,513.98 L648.5,514.77 L649.5,515.56 L650.5,516.36 L651.5,517.17 L652.5,518.01 L653.5,518.86 L654.5,519.73 L655.5,520.63 L656.5,521.55 L657.5,522.5 L658.5,523.48 L659.5,524.5 L660.5,525.55 L661.5,526.65 L662.5,527.78 L663.5,528.96 L664.5,530.19 L665.5,531.46 L666.5,532.79 L667.5,534.17 L668.5,535.61 L669.5,537.1 L670.5,538.66 L671.5,540.29 L672.5,541.98 L673.5,543.74 L674.5,545.57 L675.5,547.48 L676.5,549.47 L677.4,551.32" stroke="rgb(120,145,245)" stroke-width="1.8"/>
<path d="M510.5,431.92 L511.5,431.57 L512.5,431.34 L513.5,431.24 L514.5,431.26 L515.5,431.39 L516.5,431.62 L517.5,431.94 L518.5,432.35 L519.5,432.83 L520.5,433.38 L521.5,433.98 L522.5,434.64 L523.5,435.33 L524.5,436.06 L525.5,436.81 L526.5,437.57 L527.5,438.34 L528.5,439.11 L529.5,439.87 L530.5,440.61 L531.5,441.32 L532.5,442 L533.5,442.63 L534.5,443.21 L535.5,443.75 L536.5,444.26 L537.5,444.73 L538.5,445.16 L539.5,445.57 L540.5,445.96 L541.5,446.33 L542.5,446.68 L543.5,447.02 L544.5,447.35 L545.5,447.67 L546.5,448 L547.5,448.33 L548.5,448.66 L549.5,449.01 L550.5,449.36 L551.5,449.72 L552.5,450.08 L553.5,450.46 L554.5,450.85 L555.5,451.24 L556.5,451.65 L557.5,452.06 L558.5,452.49 L559.5,452.92 L560.5,453.36 L561.5,453.81 L562.5,454.27 L563.5,454.74 L564.5,455.21 L565.5,455.69 L566.5,456.19 L567.5,456.69 L568.5,457.19 L569.5,457.71 L570.5,458.23 L571.5,458.76 L572.5,459.3 L573.5,459.84 L574.5,460.39 L575.5,460.95 L576.5,461.51 L577.5,462.08 L578.5,462.66 L579.5,463.24 L580.5,463.83 L581.5,464.43 L582.5,465.03 L583.5,465.64 L584.5,466.25 L585.5,466.87 L586.5,467.49 L587.5,468.12 L588.5,468.76 L589.5,469.4 L590.5,470.04 L591.5,470.69 L592.5,471.34 L593.5,472 L594.5,472.66 L595.5,473.33 L596.5,474 L597.5,474.67 L598.5,475.35 L599.5,476.03 L600.5,476.72 L601.5,477.41 L602.5,478.1 L603.5,478.8 L604.5,479.5 L605.5,480.2 L606.5,480.9 L607.5,481.61 L608.5,482.32 L609.5,483.03 L610.5,483.74 L611.5,484.46 L612.5,485.18 L613.5,485.9 L614.5,486.62 L615.5,487.34 L616.5,488.07 L617.5,488.8 L618.5,489.52 L619.5,490.25 L620.5,490.98 L621.5,491.71 L622.5,492.44 L623.5,493.18 L624.5,493.91 L625.5,494.64 L626.5,495.37 L627.5,496.11 L628.5,496.84 L629.5,497.57 L630.5,498.31 L631.5,499.04 L632.5,499.77 L633.5,500.5 L634.5,501.23 L635.5,501.96 L636.5,502.7 L637.5,503.44 L638.5,504.18 L639.5,504.94 L640.5,505.69 L641.5,506.46 L642.5,507.24 L643.5,508.03 L644.5,508.83 L645.5,509.65 L646.5,510.48 L647.5,511.32 L648.5,512.19 L649.5,513.07 L650.5,513.97 L651.5,514.9 L652.5,515.84 L653.5,516.81 L654.5,517.81 L655.5,518.83 L656.5,519.87 L657.5,520.95 L658.5,522.05 L659.5,523.19 L660.5,524.36 L661.5,525.56 L662.5,526.79 L663.5,528.06 L664.5,529.37 L665.5,530.72 L666.5,532.1 L667.5,533.53 L668.5,534.99 L669.5,536.5 L670.5,538.06 L671.5,539.66 L672.5,541.3 L673.5,543 L674.5,544.74 L675.5,546.53 L676.5,548.38 L677.5,550.28 L678.1,551.44" stroke="#f00" stroke-width="2.1" stroke-dasharray="5 2.6"/>
<path d="M510.5,412.55 L511,412.32 L511.5,412.24 L512,412.29 L512.5,412.48 L513,412.77 L513.5,413.17 L514,413.65 L514.5,414.21 L515,414.83 L515.5,415.5 L516,416.21 L516.5,416.95 L517,417.7 L517.5,418.45 L518,419.22 L518.5,420 L519,420.82 L519.5,421.68 L520,422.59 L520.5,423.57 L521,424.62 L521.5,425.76 L522,426.99 L522.5,428.3 L523,429.7 L523.5,431.16 L524,432.68 L524.5,434.26 L525,435.88 L525.5,437.53 L526,439.18 L526.5,440.81 L527,442.37 L527.5,443.84 L528,445.18 L528.5,446.4 L529,447.5 L529.5,448.49 L530,449.37 L530.5,450.16 L531,450.86 L531.5,451.49 L532,452.04 L532.5,452.52 L533,452.95 L533.5,453.33 L534,453.66 L534.5,453.97 L535,454.24 L535.5,454.5 L536,454.75 L536.5,455 L537,455.24 L537.5,455.5 L538,455.75 L538.5,456.01 L539,456.27 L539.5,456.53 L540,456.8 L540.5,457.07 L541,457.35 L541.5,457.62 L542,457.9 L542.5,458.18 L543,458.47 L543.5,458.75 L544,459.04 L544.5,459.34 L545,459.63 L545.5,459.93 L546,460.23 L546.5,460.53 L547,460.83 L547.5,461.14 L548,461.44 L548.5,461.75 L549,462.07 L549.5,462.38 L550,462.7 L550.5,463.01 L551,463.33 L551.5,463.65 L552,463.98 L552.5,464.3 L553,464.62 L553.5,464.95 L554,465.28 L554.5,465.61 L555,465.94 L555.5,466.27 L556,466.61 L556.5,466.94 L557,467.28 L557.5,467.61 L558,467.95 L558.5,468.29 L559,468.63 L559.5,468.97 L560,469.32 L560.5,469.66 L561,470 L561.5,470.35 L562,470.7 L562.5,471.04 L563,471.39 L563.5,471.74 L564,472.09 L564.5,472.45 L565,472.8 L565.5,473.15 L566,473.51 L566.5,473.86 L567,474.22 L567.5,474.57 L568,474.93 L568.5,475.29 L569,475.65 L569.5,476.01 L570,476.37 L570.5,476.73 L571,477.09 L571.5,477.45 L572,477.82 L572.5,478.18 L573,478.54 L573.5,478.91 L574,479.27 L574.5,479.64 L575,480 L575.5,480.37 L576,480.74 L576.5,481.11 L577,481.47 L577.5,481.84 L578,482.21 L578.5,482.58 L579,482.95 L579.5,483.32 L580,483.69 L580.5,484.06 L581,484.43 L581.5,484.8 L582,485.17 L582.5,485.54 L583,485.91 L583.5,486.29 L584,486.66 L584.5,487.03 L585,487.4 L585.5,487.77 L586,488.15 L586.5,488.52 L587,488.89 L587.5,489.26 L588,489.63 L588.5,490.01 L589,490.38 L589.5,490.75 L590,491.12 L590.5,491.49 L591,491.87 L591.5,492.24 L592,492.61 L592.5,492.98 L593,493.35 L593.5,493.72 L594,494.09 L594.5,494.46 L595,494.83 L595.5,495.2 L596,495.57 L596.5,495.94 L597,496.31 L597.5,496.67 L598,497.04 L598.5,497.41 L599,497.78 L599.5,498.14 L600,498.51 L600.5,498.87 L601,499.24 L601.5,499.6 L602,499.97 L602.5,500.33 L603,500.69 L603.5,501.05 L604,501.41 L604.5,501.77 L605,502.13 L605.5,502.49 L606,502.85 L606.5,503.21 L607,503.57 L607.5,503.92 L608,504.28 L608.5,504.63 L609,504.98 L609.5,505.34 L610,505.69 L610.5,506.04 L611,506.39 L611.5,506.74 L612,507.09 L612.5,507.43 L613,507.78 L613.5,508.12 L614,508.47 L614.5,508.81 L615,509.15 L615.5,509.49 L616,509.83 L616.5,510.17 L617,510.51 L617.5,510.84 L618,511.18 L618.5,511.51 L619,511.84 L619.5,512.18 L620,512.51 L620.5,512.84 L621,513.16 L621.5,513.49 L622,513.82 L622.5,514.15 L623,514.47 L623.5,514.8 L624,515.13 L624.5,515.45 L625,515.78 L625.5,516.11 L626,516.44 L626.5,516.77 L627,517.1 L627.5,517.43 L628,517.76 L628.5,518.1 L629,518.43 L629.5,518.77 L630,519.11 L630.5,519.45 L631,519.79 L631.5,520.14 L632,520.49 L632.5,520.84 L633,521.19 L633.5,521.55 L634,521.91 L634.5,522.27 L635,522.64 L635.5,523.01 L636,523.38 L636.5,523.76 L637,524.14 L637.5,524.52 L638,524.91 L638.5,525.3 L639,525.7 L639.5,526.1 L640,526.51 L640.5,526.92 L641,527.34 L641.5,527.76 L642,528.19 L642.5,528.62 L643,529.06 L643.5,529.5 L644,529.95 L644.5,530.41 L645,530.87 L645.5,531.34 L646,531.81 L646.5,532.29 L647,532.78 L647.5,533.28 L648,533.78 L648.5,534.29 L649,534.81 L649.5,535.33 L650,535.86 L650.5,536.4 L651,536.95 L651.5,537.51 L652,538.07 L652.5,538.64 L653,539.22 L653.5,539.81 L654,540.41 L654.5,541.02 L655,541.63 L655.5,542.26 L656,542.9 L656.5,543.54 L657,544.19 L657.5,544.86 L658,545.53 L658.5,546.22 L659,546.91 L659.5,547.62 L660,548.33 L660.5,549.06 L661,549.79 L661.5,550.54 L662,551.3 L662.2,551.61" stroke="#000" stroke-width="2.0"/>
</g>
<line x1="369.1" y1="417.7" x2="402.7" y2="417.7" stroke="rgb(120,145,245)" stroke-width="1.7"/>
<line x1="369.1" y1="436" x2="397.8" y2="436" stroke="#f00" stroke-width="2.1" stroke-dasharray="5 2.6"/>
<line x1="369.1" y1="453.8" x2="402.7" y2="453.8" stroke="#000" stroke-width="1.9"/>
<text x="406.5" y="422.9" font-size="14.6" text-anchor="start" fill="#000">expansion</text>
<text x="406.5" y="440.3" font-size="14.6" text-anchor="start" fill="#000">collapse</text>
<text x="406.5" y="458.3" font-size="14.6" text-anchor="start" fill="#000">average</text>
<text x="253.5" y="426.3" font-size="18" text-anchor="end" fill="#000">(g)</text>
<text x="294.5" y="540.3" font-size="18" text-anchor="start" fill="#000">(h)</text>
<text x="688" y="425.3" font-size="18" text-anchor="end" fill="#000">(i)</text>
<text x="164.75" y="588.6" font-size="17.5" text-anchor="middle"><tspan font-style="italic">E</tspan> [eV]</text>
<text x="386.6" y="588.6" font-size="17.5" text-anchor="middle"><tspan font-style="italic">E</tspan> [eV]</text>
<text x="607.85" y="588.6" font-size="17.5" text-anchor="middle"><tspan font-style="italic">E</tspan> [eV]</text>
<text transform="translate(14 482.8) rotate(-90)" font-size="17.9" text-anchor="middle">Normalized EEPF</text>
<line x1="69.4" y1="599.7" x2="69.4" y2="606.7" stroke="#000" stroke-width="1.4"/>
<line x1="88.94" y1="599.7" x2="88.94" y2="603.3" stroke="#000" stroke-width="1.4"/>
<line x1="108.48" y1="599.7" x2="108.48" y2="606.7" stroke="#000" stroke-width="1.4"/>
<line x1="128.02" y1="599.7" x2="128.02" y2="603.3" stroke="#000" stroke-width="1.4"/>
<line x1="147.56" y1="599.7" x2="147.56" y2="606.7" stroke="#000" stroke-width="1.4"/>
<line x1="167.1" y1="599.7" x2="167.1" y2="603.3" stroke="#000" stroke-width="1.4"/>
<line x1="186.64" y1="599.7" x2="186.64" y2="606.7" stroke="#000" stroke-width="1.4"/>
<line x1="206.18" y1="599.7" x2="206.18" y2="603.3" stroke="#000" stroke-width="1.4"/>
<line x1="225.72" y1="599.7" x2="225.72" y2="606.7" stroke="#000" stroke-width="1.4"/>
<line x1="245.26" y1="599.7" x2="245.26" y2="603.3" stroke="#000" stroke-width="1.4"/>
<line x1="264.8" y1="599.7" x2="264.8" y2="606.7" stroke="#000" stroke-width="1.4"/>
<line x1="69.4" y1="748.85" x2="69.4" y2="755.85" stroke="#000" stroke-width="1.4"/>
<line x1="88.94" y1="748.85" x2="88.94" y2="752.45" stroke="#000" stroke-width="1.4"/>
<line x1="108.48" y1="748.85" x2="108.48" y2="755.85" stroke="#000" stroke-width="1.4"/>
<line x1="128.02" y1="748.85" x2="128.02" y2="752.45" stroke="#000" stroke-width="1.4"/>
<line x1="147.56" y1="748.85" x2="147.56" y2="755.85" stroke="#000" stroke-width="1.4"/>
<line x1="167.1" y1="748.85" x2="167.1" y2="752.45" stroke="#000" stroke-width="1.4"/>
<line x1="186.64" y1="748.85" x2="186.64" y2="755.85" stroke="#000" stroke-width="1.4"/>
<line x1="206.18" y1="748.85" x2="206.18" y2="752.45" stroke="#000" stroke-width="1.4"/>
<line x1="225.72" y1="748.85" x2="225.72" y2="755.85" stroke="#000" stroke-width="1.4"/>
<line x1="245.26" y1="748.85" x2="245.26" y2="752.45" stroke="#000" stroke-width="1.4"/>
<line x1="264.8" y1="748.85" x2="264.8" y2="755.85" stroke="#000" stroke-width="1.4"/>
<line x1="69.4" y1="748.85" x2="62.4" y2="748.85" stroke="#000" stroke-width="1.4"/>
<line x1="69.4" y1="732.28" x2="65.8" y2="732.28" stroke="#000" stroke-width="1.4"/>
<line x1="69.4" y1="715.71" x2="62.4" y2="715.71" stroke="#000" stroke-width="1.4"/>
<line x1="69.4" y1="699.13" x2="65.8" y2="699.13" stroke="#000" stroke-width="1.4"/>
<line x1="69.4" y1="682.56" x2="62.4" y2="682.56" stroke="#000" stroke-width="1.4"/>
<line x1="69.4" y1="665.99" x2="65.8" y2="665.99" stroke="#000" stroke-width="1.4"/>
<line x1="69.4" y1="649.42" x2="62.4" y2="649.42" stroke="#000" stroke-width="1.4"/>
<line x1="69.4" y1="632.84" x2="65.8" y2="632.84" stroke="#000" stroke-width="1.4"/>
<line x1="69.4" y1="616.27" x2="62.4" y2="616.27" stroke="#000" stroke-width="1.4"/>
<line x1="69.4" y1="599.7" x2="65.8" y2="599.7" stroke="#000" stroke-width="1.4"/>
<line x1="264.8" y1="748.85" x2="257.8" y2="748.85" stroke="#000" stroke-width="1.4"/>
<line x1="264.8" y1="732.28" x2="261.2" y2="732.28" stroke="#000" stroke-width="1.4"/>
<line x1="264.8" y1="715.71" x2="257.8" y2="715.71" stroke="#000" stroke-width="1.4"/>
<line x1="264.8" y1="699.13" x2="261.2" y2="699.13" stroke="#000" stroke-width="1.4"/>
<line x1="264.8" y1="682.56" x2="257.8" y2="682.56" stroke="#000" stroke-width="1.4"/>
<line x1="264.8" y1="665.99" x2="261.2" y2="665.99" stroke="#000" stroke-width="1.4"/>
<line x1="264.8" y1="649.42" x2="257.8" y2="649.42" stroke="#000" stroke-width="1.4"/>
<line x1="264.8" y1="632.84" x2="261.2" y2="632.84" stroke="#000" stroke-width="1.4"/>
<line x1="264.8" y1="616.27" x2="257.8" y2="616.27" stroke="#000" stroke-width="1.4"/>
<line x1="264.8" y1="599.7" x2="261.2" y2="599.7" stroke="#000" stroke-width="1.4"/>
<rect x="69.4" y="599.7" width="195.4" height="149.15" fill="none" stroke="#000" stroke-width="1.4"/>
<text x="69.4" y="772.7" font-size="15.2" text-anchor="middle" fill="#000">0.0</text>
<text x="108.48" y="772.7" font-size="15.2" text-anchor="middle" fill="#000">0.2</text>
<text x="147.56" y="772.7" font-size="15.2" text-anchor="middle" fill="#000">0.4</text>
<text x="186.64" y="772.7" font-size="15.2" text-anchor="middle" fill="#000">0.6</text>
<text x="225.72" y="772.7" font-size="15.2" text-anchor="middle" fill="#000">0.8</text>
<text x="264.8" y="772.7" font-size="15.2" text-anchor="middle" fill="#000">1.0</text>
<text x="166.5" y="789.0" font-size="17.7" text-anchor="middle"><tspan font-style="italic">x</tspan> [mm]</text>
<line x1="290" y1="599.7" x2="290" y2="606.7" stroke="#000" stroke-width="1.4"/>
<line x1="309.54" y1="599.7" x2="309.54" y2="603.3" stroke="#000" stroke-width="1.4"/>
<line x1="329.08" y1="599.7" x2="329.08" y2="606.7" stroke="#000" stroke-width="1.4"/>
<line x1="348.62" y1="599.7" x2="348.62" y2="603.3" stroke="#000" stroke-width="1.4"/>
<line x1="368.16" y1="599.7" x2="368.16" y2="606.7" stroke="#000" stroke-width="1.4"/>
<line x1="387.7" y1="599.7" x2="387.7" y2="603.3" stroke="#000" stroke-width="1.4"/>
<line x1="407.24" y1="599.7" x2="407.24" y2="606.7" stroke="#000" stroke-width="1.4"/>
<line x1="426.78" y1="599.7" x2="426.78" y2="603.3" stroke="#000" stroke-width="1.4"/>
<line x1="446.32" y1="599.7" x2="446.32" y2="606.7" stroke="#000" stroke-width="1.4"/>
<line x1="465.86" y1="599.7" x2="465.86" y2="603.3" stroke="#000" stroke-width="1.4"/>
<line x1="485.4" y1="599.7" x2="485.4" y2="606.7" stroke="#000" stroke-width="1.4"/>
<line x1="290" y1="748.85" x2="290" y2="755.85" stroke="#000" stroke-width="1.4"/>
<line x1="309.54" y1="748.85" x2="309.54" y2="752.45" stroke="#000" stroke-width="1.4"/>
<line x1="329.08" y1="748.85" x2="329.08" y2="755.85" stroke="#000" stroke-width="1.4"/>
<line x1="348.62" y1="748.85" x2="348.62" y2="752.45" stroke="#000" stroke-width="1.4"/>
<line x1="368.16" y1="748.85" x2="368.16" y2="755.85" stroke="#000" stroke-width="1.4"/>
<line x1="387.7" y1="748.85" x2="387.7" y2="752.45" stroke="#000" stroke-width="1.4"/>
<line x1="407.24" y1="748.85" x2="407.24" y2="755.85" stroke="#000" stroke-width="1.4"/>
<line x1="426.78" y1="748.85" x2="426.78" y2="752.45" stroke="#000" stroke-width="1.4"/>
<line x1="446.32" y1="748.85" x2="446.32" y2="755.85" stroke="#000" stroke-width="1.4"/>
<line x1="465.86" y1="748.85" x2="465.86" y2="752.45" stroke="#000" stroke-width="1.4"/>
<line x1="485.4" y1="748.85" x2="485.4" y2="755.85" stroke="#000" stroke-width="1.4"/>
<line x1="290" y1="748.85" x2="297" y2="748.85" stroke="#000" stroke-width="1.4"/>
<line x1="290" y1="733.94" x2="293.6" y2="733.94" stroke="#000" stroke-width="1.4"/>
<line x1="290" y1="719.02" x2="297" y2="719.02" stroke="#000" stroke-width="1.4"/>
<line x1="290" y1="704.11" x2="293.6" y2="704.11" stroke="#000" stroke-width="1.4"/>
<line x1="290" y1="689.19" x2="297" y2="689.19" stroke="#000" stroke-width="1.4"/>
<line x1="290" y1="674.28" x2="293.6" y2="674.28" stroke="#000" stroke-width="1.4"/>
<line x1="290" y1="659.36" x2="297" y2="659.36" stroke="#000" stroke-width="1.4"/>
<line x1="290" y1="644.45" x2="293.6" y2="644.45" stroke="#000" stroke-width="1.4"/>
<line x1="290" y1="629.53" x2="297" y2="629.53" stroke="#000" stroke-width="1.4"/>
<line x1="290" y1="614.62" x2="293.6" y2="614.62" stroke="#000" stroke-width="1.4"/>
<line x1="290" y1="599.7" x2="297" y2="599.7" stroke="#000" stroke-width="1.4"/>
<line x1="485.4" y1="748.85" x2="478.4" y2="748.85" stroke="#000" stroke-width="1.4"/>
<line x1="485.4" y1="733.94" x2="481.8" y2="733.94" stroke="#000" stroke-width="1.4"/>
<line x1="485.4" y1="719.02" x2="478.4" y2="719.02" stroke="#000" stroke-width="1.4"/>
<line x1="485.4" y1="704.11" x2="481.8" y2="704.11" stroke="#000" stroke-width="1.4"/>
<line x1="485.4" y1="689.19" x2="478.4" y2="689.19" stroke="#000" stroke-width="1.4"/>
<line x1="485.4" y1="674.28" x2="481.8" y2="674.28" stroke="#000" stroke-width="1.4"/>
<line x1="485.4" y1="659.36" x2="478.4" y2="659.36" stroke="#000" stroke-width="1.4"/>
<line x1="485.4" y1="644.45" x2="481.8" y2="644.45" stroke="#000" stroke-width="1.4"/>
<line x1="485.4" y1="629.53" x2="478.4" y2="629.53" stroke="#000" stroke-width="1.4"/>
<line x1="485.4" y1="614.62" x2="481.8" y2="614.62" stroke="#000" stroke-width="1.4"/>
<line x1="485.4" y1="599.7" x2="478.4" y2="599.7" stroke="#000" stroke-width="1.4"/>
<rect x="290" y="599.7" width="195.4" height="149.15" fill="none" stroke="#000" stroke-width="1.4"/>
<text x="290" y="772.7" font-size="15.2" text-anchor="middle" fill="#000">0.0</text>
<text x="329.08" y="772.7" font-size="15.2" text-anchor="middle" fill="#000">0.2</text>
<text x="368.16" y="772.7" font-size="15.2" text-anchor="middle" fill="#000">0.4</text>
<text x="407.24" y="772.7" font-size="15.2" text-anchor="middle" fill="#000">0.6</text>
<text x="446.32" y="772.7" font-size="15.2" text-anchor="middle" fill="#000">0.8</text>
<text x="485.4" y="772.7" font-size="15.2" text-anchor="middle" fill="#000">1.0</text>
<text x="387.5" y="789.0" font-size="17.7" text-anchor="middle"><tspan font-style="italic">x</tspan> [mm]</text>
<line x1="510.3" y1="599.7" x2="510.3" y2="606.7" stroke="#000" stroke-width="1.4"/>
<line x1="529.84" y1="599.7" x2="529.84" y2="603.3" stroke="#000" stroke-width="1.4"/>
<line x1="549.38" y1="599.7" x2="549.38" y2="606.7" stroke="#000" stroke-width="1.4"/>
<line x1="568.92" y1="599.7" x2="568.92" y2="603.3" stroke="#000" stroke-width="1.4"/>
<line x1="588.46" y1="599.7" x2="588.46" y2="606.7" stroke="#000" stroke-width="1.4"/>
<line x1="608" y1="599.7" x2="608" y2="603.3" stroke="#000" stroke-width="1.4"/>
<line x1="627.54" y1="599.7" x2="627.54" y2="606.7" stroke="#000" stroke-width="1.4"/>
<line x1="647.08" y1="599.7" x2="647.08" y2="603.3" stroke="#000" stroke-width="1.4"/>
<line x1="666.62" y1="599.7" x2="666.62" y2="606.7" stroke="#000" stroke-width="1.4"/>
<line x1="686.16" y1="599.7" x2="686.16" y2="603.3" stroke="#000" stroke-width="1.4"/>
<line x1="705.7" y1="599.7" x2="705.7" y2="606.7" stroke="#000" stroke-width="1.4"/>
<line x1="510.3" y1="748.85" x2="510.3" y2="755.85" stroke="#000" stroke-width="1.4"/>
<line x1="529.84" y1="748.85" x2="529.84" y2="752.45" stroke="#000" stroke-width="1.4"/>
<line x1="549.38" y1="748.85" x2="549.38" y2="755.85" stroke="#000" stroke-width="1.4"/>
<line x1="568.92" y1="748.85" x2="568.92" y2="752.45" stroke="#000" stroke-width="1.4"/>
<line x1="588.46" y1="748.85" x2="588.46" y2="755.85" stroke="#000" stroke-width="1.4"/>
<line x1="608" y1="748.85" x2="608" y2="752.45" stroke="#000" stroke-width="1.4"/>
<line x1="627.54" y1="748.85" x2="627.54" y2="755.85" stroke="#000" stroke-width="1.4"/>
<line x1="647.08" y1="748.85" x2="647.08" y2="752.45" stroke="#000" stroke-width="1.4"/>
<line x1="666.62" y1="748.85" x2="666.62" y2="755.85" stroke="#000" stroke-width="1.4"/>
<line x1="686.16" y1="748.85" x2="686.16" y2="752.45" stroke="#000" stroke-width="1.4"/>
<line x1="705.7" y1="748.85" x2="705.7" y2="755.85" stroke="#000" stroke-width="1.4"/>
<line x1="510.3" y1="748.85" x2="517.3" y2="748.85" stroke="#000" stroke-width="1.4"/>
<line x1="510.3" y1="733.94" x2="513.9" y2="733.94" stroke="#000" stroke-width="1.4"/>
<line x1="510.3" y1="719.02" x2="517.3" y2="719.02" stroke="#000" stroke-width="1.4"/>
<line x1="510.3" y1="704.11" x2="513.9" y2="704.11" stroke="#000" stroke-width="1.4"/>
<line x1="510.3" y1="689.19" x2="517.3" y2="689.19" stroke="#000" stroke-width="1.4"/>
<line x1="510.3" y1="674.28" x2="513.9" y2="674.28" stroke="#000" stroke-width="1.4"/>
<line x1="510.3" y1="659.36" x2="517.3" y2="659.36" stroke="#000" stroke-width="1.4"/>
<line x1="510.3" y1="644.45" x2="513.9" y2="644.45" stroke="#000" stroke-width="1.4"/>
<line x1="510.3" y1="629.53" x2="517.3" y2="629.53" stroke="#000" stroke-width="1.4"/>
<line x1="510.3" y1="614.62" x2="513.9" y2="614.62" stroke="#000" stroke-width="1.4"/>
<line x1="510.3" y1="599.7" x2="517.3" y2="599.7" stroke="#000" stroke-width="1.4"/>
<line x1="705.7" y1="748.85" x2="698.7" y2="748.85" stroke="#000" stroke-width="1.4"/>
<line x1="705.7" y1="733.94" x2="702.1" y2="733.94" stroke="#000" stroke-width="1.4"/>
<line x1="705.7" y1="719.02" x2="698.7" y2="719.02" stroke="#000" stroke-width="1.4"/>
<line x1="705.7" y1="704.11" x2="702.1" y2="704.11" stroke="#000" stroke-width="1.4"/>
<line x1="705.7" y1="689.19" x2="698.7" y2="689.19" stroke="#000" stroke-width="1.4"/>
<line x1="705.7" y1="674.28" x2="702.1" y2="674.28" stroke="#000" stroke-width="1.4"/>
<line x1="705.7" y1="659.36" x2="698.7" y2="659.36" stroke="#000" stroke-width="1.4"/>
<line x1="705.7" y1="644.45" x2="702.1" y2="644.45" stroke="#000" stroke-width="1.4"/>
<line x1="705.7" y1="629.53" x2="698.7" y2="629.53" stroke="#000" stroke-width="1.4"/>
<line x1="705.7" y1="614.62" x2="702.1" y2="614.62" stroke="#000" stroke-width="1.4"/>
<line x1="705.7" y1="599.7" x2="698.7" y2="599.7" stroke="#000" stroke-width="1.4"/>
<rect x="510.3" y="599.7" width="195.4" height="149.15" fill="none" stroke="#000" stroke-width="1.4"/>
<text x="510.3" y="772.7" font-size="15.2" text-anchor="middle" fill="#000">0.0</text>
<text x="549.38" y="772.7" font-size="15.2" text-anchor="middle" fill="#000">0.2</text>
<text x="588.46" y="772.7" font-size="15.2" text-anchor="middle" fill="#000">0.4</text>
<text x="627.54" y="772.7" font-size="15.2" text-anchor="middle" fill="#000">0.6</text>
<text x="666.62" y="772.7" font-size="15.2" text-anchor="middle" fill="#000">0.8</text>
<text x="705.7" y="772.7" font-size="15.2" text-anchor="middle" fill="#000">1.0</text>
<text x="608" y="789.0" font-size="17.7" text-anchor="middle"><tspan font-style="italic">x</tspan> [mm]</text>
<text x="56.8" y="753.85" font-size="14" text-anchor="end" fill="#000">0</text>
<text x="56.8" y="720.71" font-size="14" text-anchor="end" fill="#000">20</text>
<text x="56.8" y="687.56" font-size="14" text-anchor="end" fill="#000">40</text>
<text x="56.8" y="654.42" font-size="14" text-anchor="end" fill="#000">60</text>
<text x="56.8" y="621.27" font-size="14" text-anchor="end" fill="#000">80</text>
<text x="287.4" y="753.85" font-size="14" text-anchor="end" fill="#000">0</text>
<text x="287.4" y="724.02" font-size="14" text-anchor="end" fill="#000">5</text>
<text x="287.4" y="694.19" font-size="14" text-anchor="end" fill="#000">10</text>
<text x="287.4" y="664.36" font-size="14" text-anchor="end" fill="#000">15</text>
<text x="287.4" y="634.53" font-size="14" text-anchor="end" fill="#000">20</text>
<text x="287.4" y="604.7" font-size="14" text-anchor="end" fill="#000">25</text>
<text x="503" y="753.85" font-size="14" text-anchor="end" fill="#000">0</text>
<text x="503" y="724.02" font-size="14" text-anchor="end" fill="#000">1</text>
<text x="503" y="694.19" font-size="14" text-anchor="end" fill="#000">2</text>
<text x="503" y="664.36" font-size="14" text-anchor="end" fill="#000">3</text>
<text x="503" y="634.53" font-size="14" text-anchor="end" fill="#000">4</text>
<text x="503" y="604.7" font-size="14" text-anchor="end" fill="#000">5</text>
<text x="75.5" y="623" font-size="18" text-anchor="start" fill="#000">(j)</text>
<text x="294.8" y="623" font-size="18" text-anchor="start" fill="#000">(k)</text>
<text x="512.6" y="621.8" font-size="18" text-anchor="start" fill="#000">(l)</text>
<path d="M69.4,747.8 L70.42,747.52 L71.89,747.55 L73.49,746.99 L74.9,744.48 L75.38,744.27 L75.84,743.02 L76.3,741.61 L76.74,739.32 L77.16,737.68 L77.58,736.7 L77.98,735.8 L78.36,733.74 L78.74,732.98 L79.1,731.83 L80.55,730.99 L82,730.77 L83.2,729.91 L84.54,730.7 L86.2,726.84 L86.51,727.22 L86.83,726.47 L87.16,724.45 L87.51,724.26 L87.86,722.94 L88.23,722.36 L88.61,720.02 L88.99,719.23 L89.38,718.41 L89.77,716.68 L90.17,714.79 L90.57,713.04 L90.97,712.89 L91.36,710.76 L91.76,710.11 L92.15,707.4 L92.54,707 L92.92,705.62 L93.3,704.43 L93.64,701.88 L93.97,701.21 L94.3,699.52 L94.64,699.37 L94.97,697.57 L95.3,697.27 L95.64,695.17 L95.97,694.55 L96.3,693.46 L96.63,691.27 L96.97,690.5 L97.3,689.83 L97.63,687.91 L97.96,686.36 L98.3,684.92 L98.63,684.37 L98.96,682.13 L99.3,681.38 L99.63,679.93 L99.96,678.51 L100.3,676.44 L100.57,676.05 L100.85,675.21 L101.13,673.05 L101.42,671.78 L101.7,671.33 L101.99,669.49 L102.28,667.67 L102.57,665.9 L102.86,665.62 L103.16,663.61 L103.45,662.38 L103.74,660.68 L104.03,659.81 L104.31,658.55 L104.6,656.53 L104.88,654.8 L105.15,654.8 L105.43,653.34 L105.69,650.68 L105.96,650.2 L106.22,649.12 L106.47,647.46 L106.71,646.76 L106.95,645.95 L107.18,644.29 L107.4,642.94 L107.76,640.88 L108.1,639.27 L108.42,637.48 L108.73,635.84 L109.01,634.48 L109.28,633.97 L109.55,632.13 L109.8,631.2 L110.05,630.12 L110.3,628.76 L110.55,626.48 L110.8,626.73 L111.06,624.48 L111.32,624.57 L111.6,623.81 L112.46,621.43 L113.32,619.63 L114.18,618.26 L115.04,617.8 L115.9,618.4 L116.92,617.71 L117.91,618.45 L118.95,619.19 L120.1,621.4 L120.41,622.4 L120.73,623.9 L121.06,624.47 L121.39,625.31 L121.72,626.5 L122.07,627.72 L122.41,628.85 L122.77,630 L123.13,632.12 L123.49,633.21 L123.87,633.92 L124.24,635.63 L124.62,637.1 L125.01,639.11 L125.4,640.45 L125.8,643.47 L126,644.19 L126.19,645.01 L126.39,646.8 L126.6,647.08 L126.8,648.62 L127.01,650.36 L127.22,651.03 L127.43,652.39 L127.64,653.32 L127.85,655.59 L128.07,656.57 L128.28,657.26 L128.5,658.72 L128.72,660.47 L128.94,661.77 L129.16,663.19 L129.38,664.11 L129.6,666.11 L129.82,667.72 L130.04,669.22 L130.27,670.16 L130.49,671.55 L130.71,673.02 L130.93,674.44 L131.15,675.7 L131.38,676.33 L131.6,678.01 L131.82,680.38 L132.04,681.38 L132.25,682.05 L132.47,683.65 L132.69,683.97 L132.9,685.15 L133.22,687.12 L133.53,688.97 L133.85,689.52 L134.16,691.72 L134.47,693.88 L134.78,694.93 L135.08,696.96 L135.39,697.05 L135.7,699.66 L136,700.92 L136.31,701.04 L136.62,703.1 L136.93,704.7 L137.25,705.11 L137.57,706.94 L137.89,708.38 L138.21,709.39 L138.54,709.89 L138.87,710.33 L139.21,712.01 L139.55,712.38 L139.9,713.76 L140.88,715.37 L141.89,717.07 L142.92,718.57 L143.97,719.91 L145.04,720.85 L146.14,720.56 L147.26,720.46 L148.4,722.08 L149.75,721.92 L151.17,722.75 L152.62,722.89 L154.08,721.62 L155.53,722.56 L156.95,721.82 L158.3,721.93 L159.8,722.18 L161.24,722.81 L162.64,722.72 L164.02,723.4 L165.4,723.27 L166.8,723.04 L168.22,723.15 L169.64,723.72 L171.06,722.97 L172.47,722.38 L173.89,721.85 L175.3,720.37 L175.95,720.75 L176.6,719.56 L177.24,717.6 L177.89,716.71 L178.53,715.74 L179.18,714.62 L179.82,713.12 L180.47,711.98 L181.11,710.99 L181.76,708.72 L182.4,707.98 L183.05,706.07 L183.7,705.35 L184.31,703.84 L184.93,703.36 L185.57,702.23 L186.2,701.07 L186.84,698.97 L187.48,698 L188.12,696.04 L188.75,695.58 L189.37,694.43 L189.97,692.68 L190.56,691.33 L191.13,690.83 L191.68,689.72 L192.2,688.75 L192.96,686.43 L193.66,684.87 L194.31,683.44 L194.93,681.99 L195.53,680.43 L196.11,679.4 L196.69,678.86 L197.29,677.77 L197.9,677.58 L199.02,675.52 L200.14,674.25 L201.26,674.74 L202.38,673.08 L203.5,673.36 L204.64,674.07 L205.78,673.69 L206.92,675.24 L208.06,675.89 L209.2,676.71 L209.7,678.38 L210.19,679.39 L210.66,679.79 L211.12,680.33 L211.59,681.45 L212.06,683.79 L212.55,685.27 L213.07,686.37 L213.61,688.11 L214.18,689.79 L214.8,690.71 L215.16,691.69 L215.53,693.74 L215.92,694.82 L216.31,695.38 L216.72,696.33 L217.14,697.28 L217.56,699.04 L217.99,701.1 L218.43,701.36 L218.87,702.87 L219.31,703.8 L219.76,705.96 L220.21,706.57 L220.66,708.86 L221.11,709.95 L221.55,711.21 L222,712.31 L222.44,713.71 L222.87,715.9 L223.3,717.26 L223.73,718.28 L224.16,718.82 L224.6,720.19 L225.04,721.84 L225.49,724.05 L225.94,725.6 L226.39,725.99 L226.83,728.05 L227.28,729.11 L227.73,730.65 L228.17,731.66 L228.6,733.8 L229.03,735.21 L229.46,736.7 L229.87,737.22 L230.28,738.28 L230.68,739.64 L231.06,739.82 L231.44,741.81 L231.8,742.4 L233.29,743.95 L234.48,744.84 L235.75,744.81 L237.5,745.33 L238.67,745.24 L240.03,744.67 L241.52,745.8 L243.07,745.79 L244.63,745.66 L246.15,745.05 L247.55,744.91 L248.8,744.66 L250.54,745 L252.11,743.44 L253.5,743.32 L254.73,741.58 L255.8,741.3 L256.88,742.94 L257.69,744.27 L258.28,746.19 L258.7,747.8" fill="none" stroke="rgb(20,135,20)" stroke-width="1.9" stroke-linejoin="round"/>
<path d="M290,748.2 L290.9,747.49 L292.18,747.92 L293.64,746.78 L295.1,745.25 L295.67,744.85 L296.26,743.79 L296.86,742.53 L297.48,741.15 L298.1,739.46 L298.72,738.05 L299.34,737.38 L299.94,735.63 L300.53,735.14 L301.1,734.53 L302.44,733.77 L303.71,733.93 L304.95,733.05 L306.2,732.61 L307.04,732.63 L307.87,731.55 L308.71,729.99 L309.54,729.49 L310.37,728.32 L311.2,726.5 L311.62,724.57 L312.03,723.61 L312.45,722.02 L312.86,722.25 L313.28,719.83 L313.69,719.24 L314.11,717.56 L314.53,716.2 L314.94,714.61 L315.36,713.53 L315.78,711.63 L316.2,709.6 L316.5,708.18 L316.79,707.55 L317.08,707.01 L317.37,704.61 L317.67,704.15 L317.96,702.79 L318.25,700.78 L318.54,699.53 L318.83,698.92 L319.13,697.19 L319.43,695.79 L319.73,694.53 L320.04,692.59 L320.34,692.12 L320.66,690.57 L320.98,689.12 L321.3,687.46 L321.6,686.93 L321.9,685.68 L322.21,683.97 L322.52,681.98 L322.84,680.74 L323.16,679.41 L323.48,677.95 L323.81,677.46 L324.14,675.96 L324.46,674.11 L324.79,673.84 L325.12,672.1 L325.44,671.05 L325.76,669.82 L326.08,668.37 L326.39,666.93 L326.7,666.44 L327,664.03 L327.3,663.78 L327.76,662.45 L328.21,660.32 L328.66,659.38 L329.11,657.06 L329.54,656.09 L329.97,654.6 L330.4,653.54 L330.81,652.77 L331.22,650.7 L331.62,649.75 L332.02,649.23 L332.4,647.1 L332.77,645.46 L333.12,645.33 L333.45,643.18 L333.78,640.9 L334.09,640.24 L334.41,638.13 L334.72,636.72 L335.03,636.21 L335.36,634.78 L335.69,633.24 L336.04,632.28 L336.4,631.39 L337.33,629.32 L338.32,627.28 L339.34,627.24 L340.38,626.67 L341.4,626.08 L342.25,626.38 L343.1,627.35 L343.95,628.13 L344.8,629.39 L345.65,631.79 L346.5,633.91 L346.84,633.73 L347.17,634.82 L347.51,636.88 L347.84,638.36 L348.17,639.3 L348.51,640 L348.84,641.03 L349.17,643.62 L349.5,645.23 L349.84,646.45 L350.17,647.9 L350.5,649.75 L350.83,650.55 L351.17,652.62 L351.5,653.04 L351.79,654.03 L352.09,656.46 L352.38,657.57 L352.67,659.05 L352.97,659.41 L353.26,661.03 L353.55,662.83 L353.85,663.41 L354.14,665.17 L354.43,666.94 L354.73,668.79 L355.02,669.78 L355.32,670.6 L355.61,671.88 L355.91,673.27 L356.2,674.81 L356.5,676.34 L356.92,676.43 L357.33,679.31 L357.75,680.58 L358.16,680.85 L358.57,682.53 L358.99,683.88 L359.41,685.09 L359.83,686.27 L360.26,687.48 L360.7,689.52 L361.14,690.39 L361.6,691.11 L362.1,693.54 L362.61,694.86 L363.11,695.32 L363.63,697.47 L364.15,698.67 L364.68,699.53 L365.23,700.06 L365.79,702.13 L366.37,703.45 L366.97,704.46 L367.6,705.47 L368.67,705.59 L369.82,707.97 L371.03,707.67 L372.27,708.95 L373.48,709.94 L374.63,710.67 L375.7,710.94 L377.32,711.93 L378.75,711.7 L380.16,711.35 L381.7,710.17 L382.57,709.15 L383.49,707.61 L384.44,707.51 L385.41,706.82 L386.37,704.53 L387.3,704.59 L388.18,702.04 L389,701.65 L389.97,701.08 L390.83,700.04 L391.63,698.92 L392.41,697.55 L393.22,696.52 L394.1,695.26 L394.9,695.02 L395.72,693.09 L396.55,692.23 L397.4,692.03 L398.28,690.43 L399.18,688.47 L400.1,687.59 L400.66,687.36 L401.24,685.68 L401.85,684.18 L402.46,682.79 L403.09,682.1 L403.71,680.45 L404.33,679.23 L404.95,677.64 L405.55,677.21 L406.13,676.29 L406.68,674.7 L407.2,673.77 L407.83,671.87 L408.39,671.5 L408.91,669.02 L409.4,668.59 L409.88,665.92 L410.38,665.66 L410.92,664.85 L411.52,663.42 L412.2,662.07 L413.41,661.05 L414.79,661.6 L416.25,661.17 L417.71,659.84 L419.09,660.13 L420.3,660.99 L421.34,661.56 L422.27,661.12 L423.12,662.94 L423.9,663.67 L424.62,664.66 L425.3,666.79 L425.87,667.53 L426.3,668.05 L426.67,669.86 L427.07,670.44 L427.59,672 L428.3,674.3 L428.59,675.05 L428.9,676.98 L429.24,677.23 L429.58,679.22 L429.95,679.98 L430.33,680.94 L430.72,682.7 L431.12,683.19 L431.54,684 L431.96,686.28 L432.38,686.77 L432.81,689.48 L433.25,690.99 L433.68,691.59 L434.12,692.62 L434.55,695.43 L434.98,695.9 L435.4,698.5 L435.7,698.9 L436.02,700.7 L436.33,701.92 L436.65,702.12 L436.97,703.71 L437.3,705.21 L437.63,706.23 L437.96,708.73 L438.29,709.06 L438.63,710.52 L438.96,711.87 L439.3,713.26 L439.63,715.67 L439.96,716.17 L440.29,718.15 L440.62,718.84 L440.95,721.22 L441.27,722.5 L441.59,724.02 L441.91,723.93 L442.22,726.05 L442.52,727.28 L442.82,727.78 L443.11,729.33 L443.4,729.73 L443.99,732.11 L444.49,734.31 L444.93,735.89 L445.34,736.61 L445.74,737.81 L446.16,740.03 L446.63,740 L447.17,741.31 L447.81,742.08 L448.58,742.78 L449.5,743.75 L450.53,743.67 L451.73,744.6 L453.08,745.18 L454.54,745.62 L456.06,745.16 L457.62,744.79 L459.17,744.84 L460.69,744.65 L462.12,744.54 L463.44,744.74 L464.62,744.86 L465.6,745.77 L468.12,746.02 L469.41,746.75 L470.6,746.09 L471.69,744.84 L472.71,744.11 L473.7,743.15 L474.7,743.24 L475.57,742.73 L476.5,744.78 L477.39,746.57 L478.16,747.12 L478.7,748.2" fill="none" stroke="rgb(20,135,20)" stroke-width="1.9" stroke-linejoin="round"/>
<path d="M511,748.2 L511.97,748.26 L513.33,748.17 L514.92,747.42 L516.57,746.88 L518.1,745.94 L519.12,746.08 L520.16,744.05 L521.2,742.76 L522.23,741.79 L523.25,740.66 L524.24,739.73 L525.2,738.75 L526.47,737.63 L527.68,737.36 L528.85,736.78 L530.02,736.41 L531.2,734.65 L531.87,733.54 L532.53,732.68 L533.2,732.03 L533.86,730.54 L534.53,729.74 L535.19,728.49 L535.86,726.54 L536.53,724.72 L537.2,724.34 L537.81,723.28 L538.42,721.71 L539.03,721.13 L539.64,719.61 L540.25,719.52 L540.86,718.3 L541.47,717.04 L542.08,715.92 L542.69,713.28 L543.3,711.97 L543.6,711.25 L543.9,710.28 L544.2,708.51 L544.5,706.92 L544.8,706.39 L545.1,704.29 L545.4,703.84 L545.7,701.41 L546,700.67 L546.3,699.28 L546.6,697.3 L546.9,696.4 L547.2,694.99 L547.5,693.37 L547.8,692.75 L548.1,691.33 L548.4,690.03 L548.7,687.76 L549,686.18 L549.3,685.51 L549.68,683.68 L550.08,683.15 L550.48,681.1 L550.89,679.53 L551.3,678.42 L551.72,677.27 L552.13,676.47 L552.54,674.79 L552.94,673.29 L553.34,672.63 L553.72,670.48 L554.09,669.54 L554.45,669.11 L554.79,668.07 L555.1,665.99 L555.4,664.85 L555.78,663.99 L556.09,662.79 L556.36,660.46 L556.59,659.79 L556.8,658.28 L557,656.78 L557.21,655.7 L557.44,654.69 L557.71,653.77 L558.02,652.04 L558.4,651.58 L558.84,650.71 L559.34,649.14 L559.87,646.92 L560.44,646.49 L561.03,645.18 L561.63,642.98 L562.23,642.33 L562.83,641.56 L563.42,640.91 L563.98,639.86 L564.5,638.4 L565.41,636.98 L566.29,636.31 L567.13,634.17 L567.95,633.75 L568.74,632.33 L569.5,632.71 L570.94,631.12 L572.28,629.5 L573.5,629.85 L573.91,631.06 L574.27,632.5 L574.61,632.93 L574.93,634.72 L575.27,636.55 L575.63,637.65 L576.03,639.87 L576.5,640.64 L577.61,642.03 L578.86,641.93 L580.21,642.43 L581.6,643.08 L582.16,644.28 L582.74,645.24 L583.33,646.53 L583.93,647.23 L584.54,649.79 L585.15,650.15 L585.76,651.97 L586.38,653.97 L586.99,654.52 L587.6,656.05 L588.64,656.49 L589.7,657.9 L590.78,658.7 L591.82,659.46 L592.8,660.37 L593.7,661.42 L594.58,663.28 L595.29,664.79 L595.96,664.77 L596.72,666.8 L597.7,667.54 L599.02,668.23 L600.59,668.52 L602.23,669.62 L603.76,669.75 L605,669.4 L605.56,669.05 L605.98,667.69 L606.3,666.31 L606.58,664.85 L606.84,664.39 L607.13,662.01 L607.51,661.46 L608,659 L608.71,658.47 L609.52,657.06 L610.4,656.09 L611.33,654.64 L612.27,654.06 L613.21,652.56 L614.1,650.72 L615.15,650.55 L616.26,649.42 L617.36,647.89 L618.4,647.68 L619.33,646.89 L620.1,645.07 L620.79,643.31 L621.09,641.91 L621.41,640.81 L622.1,639.22 L623.09,637.61 L624.35,637.14 L625.71,636.37 L627.05,635.74 L628.2,635.08 L629.61,636.09 L630.79,637.08 L632.2,637.94 L633.11,638.78 L634.12,640.33 L635.19,640.05 L636.27,641.36 L637.32,642.42 L638.3,644.52 L638.73,645.81 L639.15,645.92 L639.57,647.25 L639.99,648.39 L640.39,649.89 L640.8,651.93 L641.19,653.36 L641.57,655.53 L641.95,656.25 L642.31,657.78 L642.65,658.38 L642.98,659.94 L643.3,661.21 L643.74,662.65 L644.09,664.66 L644.39,665.09 L644.67,665.62 L644.96,667.28 L645.31,668.04 L645.74,669.82 L646.3,672.76 L646.52,672.9 L646.75,674.91 L647,675.51 L647.26,676.09 L647.53,678.2 L647.81,679.89 L648.1,680.86 L648.4,682.36 L648.71,683.88 L649.02,684.29 L649.34,686.04 L649.66,687.87 L649.99,688.81 L650.31,691.12 L650.64,691.76 L650.96,692.6 L651.29,694.15 L651.61,696.05 L651.92,696.82 L652.23,699.05 L652.54,700.94 L652.83,702.1 L653.12,703.39 L653.4,703.42 L653.78,704.88 L654.17,706.24 L654.55,709.03 L654.93,709.15 L655.31,710.66 L655.68,712.96 L656.05,714.76 L656.41,715.48 L656.77,716.09 L657.13,717.33 L657.47,719.75 L657.82,720.77 L658.15,721.38 L658.47,723.53 L658.79,723.58 L659.1,724.44 L659.4,726.7 L659.91,727.14 L660.34,729.23 L660.73,730.43 L661.09,732.48 L661.45,733.51 L661.84,734.34 L662.27,736.04 L662.79,736.38 L663.4,738.82 L664.09,739.68 L664.81,739.97 L665.57,741.69 L666.39,742.3 L667.26,743.78 L668.2,744.32 L669.22,744.98 L670.31,746.07 L671.5,745.96 L672.69,747.63 L674.03,747.45 L675.48,746.6 L677,747.05 L678.55,746.23 L680.1,745.99 L681.62,746.07 L683.07,746.34 L684.41,745.17 L685.6,746.35 L687.36,745.17 L688.93,744.85 L690.34,745.16 L691.6,745.65 L692.71,744.88 L693.7,745.16 L695.19,746.59 L696.11,747.02 L696.7,747.8" fill="none" stroke="rgb(20,135,20)" stroke-width="1.9" stroke-linejoin="round"/>
<text transform="translate(29.8 674.4) rotate(-90)" font-size="17.5" text-anchor="middle">n<tspan font-size="11.8" dy="4.9">He*</tspan><tspan dy="-4.9"> [10</tspan><tspan font-size="15" dy="-9">15</tspan><tspan dy="9"> m</tspan><tspan font-size="15" dy="-9">-3</tspan><tspan dy="9">]</tspan></text>
</svg></body></html>
